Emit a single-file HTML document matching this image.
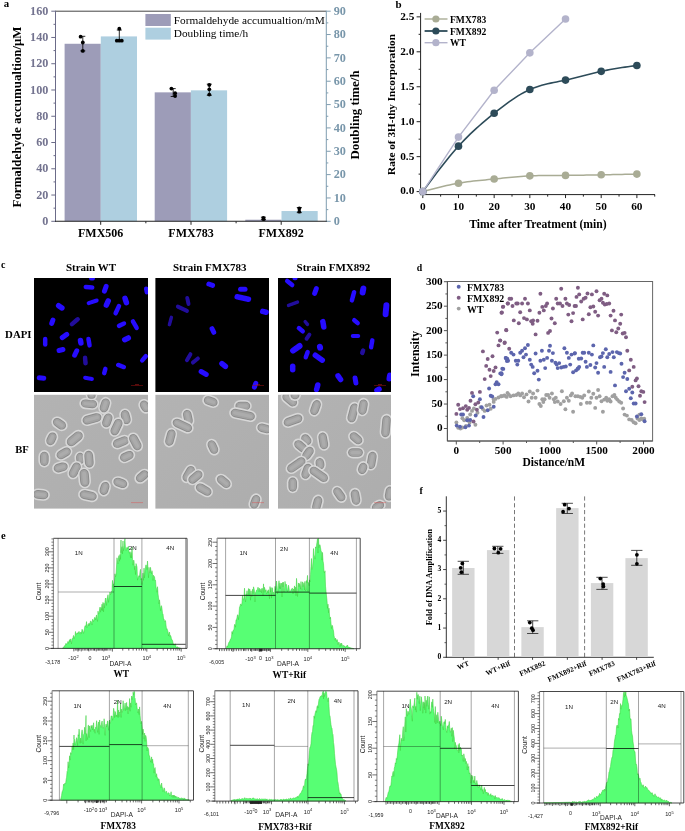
<!DOCTYPE html>
<html><head><meta charset="utf-8"><style>
html,body{margin:0;padding:0;background:#fff;}
body{width:685px;height:831px;overflow:hidden;font-family:"Liberation Serif",serif;}
svg{display:block;filter:blur(0.3px);}
</style></head><body>
<svg width="685" height="831" viewBox="0 0 685 831">
<rect width="685" height="831" fill="#fff"/>
<text x="3.7" y="3.42" font-size="10.8" font-weight="bold" fill="#000" text-anchor="start" font-family="'Liberation Serif', serif" dominant-baseline="central">a</text>
<rect x="64.6" y="43.77" width="36.2" height="177.53" fill="#9d9cb8"/>
<rect x="100.8" y="36.41" width="36.2" height="184.89" fill="#aecfe0"/>
<rect x="154.7" y="92.35" width="36.2" height="128.95" fill="#9d9cb8"/>
<rect x="190.9" y="90.34" width="36.2" height="130.96" fill="#aecfe0"/>
<rect x="245.3" y="219.72" width="36.2" height="1.58" fill="#9d9cb8"/>
<rect x="281.5" y="211.03" width="36.2" height="10.27" fill="#aecfe0"/>
<line x1="55.5" y1="11.2" x2="326.3" y2="11.2" stroke="#444" stroke-width="1"/>
<line x1="55.5" y1="10.7" x2="55.5" y2="221.8" stroke="#6b6b88" stroke-width="1"/>
<line x1="51.3" y1="221.3" x2="55.5" y2="221.3" stroke="#6b6b88" stroke-width="1"/>
<text x="48.4" y="220.98" font-size="12.2" font-weight="bold" fill="#73738f" text-anchor="end" font-family="'Liberation Serif', serif" dominant-baseline="central">0</text>
<line x1="53.5" y1="208.17" x2="55.5" y2="208.17" stroke="#6b6b88" stroke-width="1"/>
<line x1="51.3" y1="195.04" x2="55.5" y2="195.04" stroke="#6b6b88" stroke-width="1"/>
<text x="48.4" y="194.72" font-size="12.2" font-weight="bold" fill="#73738f" text-anchor="end" font-family="'Liberation Serif', serif" dominant-baseline="central">20</text>
<line x1="53.5" y1="181.91" x2="55.5" y2="181.91" stroke="#6b6b88" stroke-width="1"/>
<line x1="51.3" y1="168.78" x2="55.5" y2="168.78" stroke="#6b6b88" stroke-width="1"/>
<text x="48.4" y="168.46" font-size="12.2" font-weight="bold" fill="#73738f" text-anchor="end" font-family="'Liberation Serif', serif" dominant-baseline="central">40</text>
<line x1="53.5" y1="155.64" x2="55.5" y2="155.64" stroke="#6b6b88" stroke-width="1"/>
<line x1="51.3" y1="142.51" x2="55.5" y2="142.51" stroke="#6b6b88" stroke-width="1"/>
<text x="48.4" y="142.19" font-size="12.2" font-weight="bold" fill="#73738f" text-anchor="end" font-family="'Liberation Serif', serif" dominant-baseline="central">60</text>
<line x1="53.5" y1="129.38" x2="55.5" y2="129.38" stroke="#6b6b88" stroke-width="1"/>
<line x1="51.3" y1="116.25" x2="55.5" y2="116.25" stroke="#6b6b88" stroke-width="1"/>
<text x="48.4" y="115.93" font-size="12.2" font-weight="bold" fill="#73738f" text-anchor="end" font-family="'Liberation Serif', serif" dominant-baseline="central">80</text>
<line x1="53.5" y1="103.12" x2="55.5" y2="103.12" stroke="#6b6b88" stroke-width="1"/>
<line x1="51.3" y1="89.99" x2="55.5" y2="89.99" stroke="#6b6b88" stroke-width="1"/>
<text x="48.4" y="89.67" font-size="12.2" font-weight="bold" fill="#73738f" text-anchor="end" font-family="'Liberation Serif', serif" dominant-baseline="central">100</text>
<line x1="53.5" y1="76.86" x2="55.5" y2="76.86" stroke="#6b6b88" stroke-width="1"/>
<line x1="51.3" y1="63.72" x2="55.5" y2="63.72" stroke="#6b6b88" stroke-width="1"/>
<text x="48.4" y="63.41" font-size="12.2" font-weight="bold" fill="#73738f" text-anchor="end" font-family="'Liberation Serif', serif" dominant-baseline="central">120</text>
<line x1="53.5" y1="50.59" x2="55.5" y2="50.59" stroke="#6b6b88" stroke-width="1"/>
<line x1="51.3" y1="37.46" x2="55.5" y2="37.46" stroke="#6b6b88" stroke-width="1"/>
<text x="48.4" y="37.14" font-size="12.2" font-weight="bold" fill="#73738f" text-anchor="end" font-family="'Liberation Serif', serif" dominant-baseline="central">140</text>
<line x1="53.5" y1="24.33" x2="55.5" y2="24.33" stroke="#6b6b88" stroke-width="1"/>
<line x1="51.3" y1="11.2" x2="55.5" y2="11.2" stroke="#6b6b88" stroke-width="1"/>
<text x="48.4" y="10.88" font-size="12.2" font-weight="bold" fill="#73738f" text-anchor="end" font-family="'Liberation Serif', serif" dominant-baseline="central">160</text>
<line x1="326.3" y1="10.7" x2="326.3" y2="221.8" stroke="#7f9db0" stroke-width="1"/>
<line x1="326.3" y1="221.3" x2="330.7" y2="221.3" stroke="#7f9db0" stroke-width="1"/>
<text x="333.7" y="220.98" font-size="12.2" font-weight="bold" fill="#7896aa" text-anchor="start" font-family="'Liberation Serif', serif" dominant-baseline="central">0</text>
<line x1="326.3" y1="209.63" x2="328.3" y2="209.63" stroke="#7f9db0" stroke-width="1"/>
<line x1="326.3" y1="197.96" x2="330.7" y2="197.96" stroke="#7f9db0" stroke-width="1"/>
<text x="333.7" y="197.64" font-size="12.2" font-weight="bold" fill="#7896aa" text-anchor="start" font-family="'Liberation Serif', serif" dominant-baseline="central">10</text>
<line x1="326.3" y1="186.28" x2="328.3" y2="186.28" stroke="#7f9db0" stroke-width="1"/>
<line x1="326.3" y1="174.61" x2="330.7" y2="174.61" stroke="#7f9db0" stroke-width="1"/>
<text x="333.7" y="174.29" font-size="12.2" font-weight="bold" fill="#7896aa" text-anchor="start" font-family="'Liberation Serif', serif" dominant-baseline="central">20</text>
<line x1="326.3" y1="162.94" x2="328.3" y2="162.94" stroke="#7f9db0" stroke-width="1"/>
<line x1="326.3" y1="151.27" x2="330.7" y2="151.27" stroke="#7f9db0" stroke-width="1"/>
<text x="333.7" y="150.95" font-size="12.2" font-weight="bold" fill="#7896aa" text-anchor="start" font-family="'Liberation Serif', serif" dominant-baseline="central">30</text>
<line x1="326.3" y1="139.59" x2="328.3" y2="139.59" stroke="#7f9db0" stroke-width="1"/>
<line x1="326.3" y1="127.92" x2="330.7" y2="127.92" stroke="#7f9db0" stroke-width="1"/>
<text x="333.7" y="127.6" font-size="12.2" font-weight="bold" fill="#7896aa" text-anchor="start" font-family="'Liberation Serif', serif" dominant-baseline="central">40</text>
<line x1="326.3" y1="116.25" x2="328.3" y2="116.25" stroke="#7f9db0" stroke-width="1"/>
<line x1="326.3" y1="104.58" x2="330.7" y2="104.58" stroke="#7f9db0" stroke-width="1"/>
<text x="333.7" y="104.26" font-size="12.2" font-weight="bold" fill="#7896aa" text-anchor="start" font-family="'Liberation Serif', serif" dominant-baseline="central">50</text>
<line x1="326.3" y1="92.91" x2="328.3" y2="92.91" stroke="#7f9db0" stroke-width="1"/>
<line x1="326.3" y1="81.23" x2="330.7" y2="81.23" stroke="#7f9db0" stroke-width="1"/>
<text x="333.7" y="80.91" font-size="12.2" font-weight="bold" fill="#7896aa" text-anchor="start" font-family="'Liberation Serif', serif" dominant-baseline="central">60</text>
<line x1="326.3" y1="69.56" x2="328.3" y2="69.56" stroke="#7f9db0" stroke-width="1"/>
<line x1="326.3" y1="57.89" x2="330.7" y2="57.89" stroke="#7f9db0" stroke-width="1"/>
<text x="333.7" y="57.57" font-size="12.2" font-weight="bold" fill="#7896aa" text-anchor="start" font-family="'Liberation Serif', serif" dominant-baseline="central">70</text>
<line x1="326.3" y1="46.22" x2="328.3" y2="46.22" stroke="#7f9db0" stroke-width="1"/>
<line x1="326.3" y1="34.54" x2="330.7" y2="34.54" stroke="#7f9db0" stroke-width="1"/>
<text x="333.7" y="34.22" font-size="12.2" font-weight="bold" fill="#7896aa" text-anchor="start" font-family="'Liberation Serif', serif" dominant-baseline="central">80</text>
<line x1="326.3" y1="22.87" x2="328.3" y2="22.87" stroke="#7f9db0" stroke-width="1"/>
<line x1="326.3" y1="11.2" x2="330.7" y2="11.2" stroke="#7f9db0" stroke-width="1"/>
<text x="333.7" y="10.88" font-size="12.2" font-weight="bold" fill="#7896aa" text-anchor="start" font-family="'Liberation Serif', serif" dominant-baseline="central">90</text>
<line x1="55" y1="221.3" x2="326.8" y2="221.3" stroke="#222" stroke-width="1.1"/>
<line x1="100.7" y1="221.3" x2="100.7" y2="224.8" stroke="#222" stroke-width="1"/>
<line x1="191" y1="221.3" x2="191" y2="224.8" stroke="#222" stroke-width="1"/>
<line x1="281.2" y1="221.3" x2="281.2" y2="224.8" stroke="#222" stroke-width="1"/>
<line x1="145.85" y1="221.3" x2="145.85" y2="223.3" stroke="#222" stroke-width="1"/>
<line x1="236.1" y1="221.3" x2="236.1" y2="223.3" stroke="#222" stroke-width="1"/>
<text x="100.7" y="232.8" font-size="12" font-weight="bold" fill="#000" text-anchor="middle" font-family="'Liberation Serif', serif" dominant-baseline="central">FMX506</text>
<text x="191" y="232.8" font-size="12" font-weight="bold" fill="#000" text-anchor="middle" font-family="'Liberation Serif', serif" dominant-baseline="central">FMX783</text>
<text x="281.2" y="232.8" font-size="12" font-weight="bold" fill="#000" text-anchor="middle" font-family="'Liberation Serif', serif" dominant-baseline="central">FMX892</text>
<text x="16.71" y="117" font-size="12.9" font-weight="bold" fill="#000" text-anchor="middle" font-family="'Liberation Serif', serif" dominant-baseline="central" transform="rotate(-90 16.71 117)">Formaldehyde accumualtion/μM</text>
<text x="354.71" y="115" font-size="12.9" font-weight="bold" fill="#000" text-anchor="middle" font-family="'Liberation Serif', serif" dominant-baseline="central" transform="rotate(-90 354.71 115)">Doubling time/h</text>
<rect x="145.4" y="14" width="25.4" height="12" fill="#9d9cb8"/>
<rect x="145.4" y="27.7" width="25.4" height="11.9" fill="#aecfe0"/>
<text x="173.8" y="19.67" font-size="11.3" font-weight="normal" fill="#000" text-anchor="start" font-family="'Liberation Serif', serif" dominant-baseline="central">Formaldehyde accumualtion/mM</text>
<text x="173.8" y="32.87" font-size="11.3" font-weight="normal" fill="#000" text-anchor="start" font-family="'Liberation Serif', serif" dominant-baseline="central">Doubling time/h</text>
<line x1="82.8" y1="36.3" x2="82.8" y2="50.9" stroke="#111" stroke-width="0.9"/>
<line x1="80.3" y1="36.3" x2="85.3" y2="36.3" stroke="#111" stroke-width="0.9"/>
<line x1="80.3" y1="50.9" x2="85.3" y2="50.9" stroke="#111" stroke-width="0.9"/>
<circle cx="80.6" cy="36.7" r="1.9" fill="#000"/>
<circle cx="82.8" cy="42.5" r="1.9" fill="#000"/>
<circle cx="82.8" cy="50.9" r="1.9" fill="#000"/>
<line x1="119.3" y1="30" x2="119.3" y2="40.7" stroke="#111" stroke-width="0.9"/>
<line x1="116.8" y1="30" x2="121.8" y2="30" stroke="#111" stroke-width="0.9"/>
<line x1="116.8" y1="40.7" x2="121.8" y2="40.7" stroke="#111" stroke-width="0.9"/>
<circle cx="119.3" cy="28.7" r="1.9" fill="#000"/>
<circle cx="116.8" cy="40.7" r="1.9" fill="#000"/>
<circle cx="119.3" cy="40.7" r="1.9" fill="#000"/>
<circle cx="121.8" cy="40.7" r="1.9" fill="#000"/>
<line x1="173.2" y1="88.6" x2="173.2" y2="96.5" stroke="#111" stroke-width="0.9"/>
<line x1="170.7" y1="88.6" x2="175.7" y2="88.6" stroke="#111" stroke-width="0.9"/>
<line x1="170.7" y1="96.5" x2="175.7" y2="96.5" stroke="#111" stroke-width="0.9"/>
<circle cx="171.4" cy="88.6" r="1.9" fill="#000"/>
<circle cx="175.1" cy="93.2" r="1.9" fill="#000"/>
<circle cx="175.1" cy="96" r="1.9" fill="#000"/>
<line x1="209.3" y1="84.2" x2="209.3" y2="95.3" stroke="#111" stroke-width="0.9"/>
<line x1="206.8" y1="84.2" x2="211.8" y2="84.2" stroke="#111" stroke-width="0.9"/>
<line x1="206.8" y1="95.3" x2="211.8" y2="95.3" stroke="#111" stroke-width="0.9"/>
<circle cx="209.3" cy="84.9" r="1.9" fill="#000"/>
<circle cx="209.3" cy="89.3" r="1.9" fill="#000"/>
<circle cx="209.3" cy="94.6" r="1.9" fill="#000"/>
<line x1="263.4" y1="217.2" x2="263.4" y2="219.8" stroke="#111" stroke-width="0.9"/>
<line x1="260.9" y1="217.2" x2="265.9" y2="217.2" stroke="#111" stroke-width="0.9"/>
<line x1="260.9" y1="219.8" x2="265.9" y2="219.8" stroke="#111" stroke-width="0.9"/>
<circle cx="263.4" cy="218" r="1.9" fill="#000"/>
<circle cx="263.6" cy="219.2" r="1.9" fill="#000"/>
<line x1="299.3" y1="207.5" x2="299.3" y2="212.6" stroke="#111" stroke-width="0.9"/>
<line x1="296.8" y1="207.5" x2="301.8" y2="207.5" stroke="#111" stroke-width="0.9"/>
<line x1="296.8" y1="212.6" x2="301.8" y2="212.6" stroke="#111" stroke-width="0.9"/>
<circle cx="299.3" cy="208.4" r="1.9" fill="#000"/>
<circle cx="299.3" cy="211.7" r="1.9" fill="#000"/>
<text x="398.5" y="4.1" font-size="11" font-weight="bold" fill="#000" text-anchor="middle" font-family="'Liberation Serif', serif" dominant-baseline="central">b</text>
<line x1="420.6" y1="12.9" x2="420.6" y2="195.1" stroke="#222" stroke-width="1"/>
<line x1="420.1" y1="194.6" x2="655" y2="194.6" stroke="#222" stroke-width="1"/>
<line x1="416.6" y1="191.6" x2="420.6" y2="191.6" stroke="#222" stroke-width="1"/>
<text x="414.3" y="190.47" font-size="11.3" font-weight="bold" fill="#000" text-anchor="end" font-family="'Liberation Serif', serif" dominant-baseline="central">0.0</text>
<line x1="418.6" y1="174.12" x2="420.6" y2="174.12" stroke="#222" stroke-width="1"/>
<line x1="416.6" y1="156.65" x2="420.6" y2="156.65" stroke="#222" stroke-width="1"/>
<text x="414.3" y="155.52" font-size="11.3" font-weight="bold" fill="#000" text-anchor="end" font-family="'Liberation Serif', serif" dominant-baseline="central">0.5</text>
<line x1="418.6" y1="139.17" x2="420.6" y2="139.17" stroke="#222" stroke-width="1"/>
<line x1="416.6" y1="121.7" x2="420.6" y2="121.7" stroke="#222" stroke-width="1"/>
<text x="414.3" y="120.57" font-size="11.3" font-weight="bold" fill="#000" text-anchor="end" font-family="'Liberation Serif', serif" dominant-baseline="central">1.0</text>
<line x1="418.6" y1="104.22" x2="420.6" y2="104.22" stroke="#222" stroke-width="1"/>
<line x1="416.6" y1="86.75" x2="420.6" y2="86.75" stroke="#222" stroke-width="1"/>
<text x="414.3" y="85.62" font-size="11.3" font-weight="bold" fill="#000" text-anchor="end" font-family="'Liberation Serif', serif" dominant-baseline="central">1.5</text>
<line x1="418.6" y1="69.27" x2="420.6" y2="69.27" stroke="#222" stroke-width="1"/>
<line x1="416.6" y1="51.8" x2="420.6" y2="51.8" stroke="#222" stroke-width="1"/>
<text x="414.3" y="50.67" font-size="11.3" font-weight="bold" fill="#000" text-anchor="end" font-family="'Liberation Serif', serif" dominant-baseline="central">2.0</text>
<line x1="418.6" y1="34.32" x2="420.6" y2="34.32" stroke="#222" stroke-width="1"/>
<line x1="416.6" y1="16.85" x2="420.6" y2="16.85" stroke="#222" stroke-width="1"/>
<text x="414.3" y="15.72" font-size="11.3" font-weight="bold" fill="#000" text-anchor="end" font-family="'Liberation Serif', serif" dominant-baseline="central">2.5</text>
<line x1="422.8" y1="194.6" x2="422.8" y2="198.1" stroke="#222" stroke-width="1"/>
<text x="422.8" y="205.67" font-size="11.3" font-weight="bold" fill="#000" text-anchor="middle" font-family="'Liberation Serif', serif" dominant-baseline="central">0</text>
<line x1="440.64" y1="194.6" x2="440.64" y2="196.6" stroke="#222" stroke-width="1"/>
<line x1="458.48" y1="194.6" x2="458.48" y2="198.1" stroke="#222" stroke-width="1"/>
<text x="458.48" y="205.67" font-size="11.3" font-weight="bold" fill="#000" text-anchor="middle" font-family="'Liberation Serif', serif" dominant-baseline="central">10</text>
<line x1="476.32" y1="194.6" x2="476.32" y2="196.6" stroke="#222" stroke-width="1"/>
<line x1="494.16" y1="194.6" x2="494.16" y2="198.1" stroke="#222" stroke-width="1"/>
<text x="494.16" y="205.67" font-size="11.3" font-weight="bold" fill="#000" text-anchor="middle" font-family="'Liberation Serif', serif" dominant-baseline="central">20</text>
<line x1="512" y1="194.6" x2="512" y2="196.6" stroke="#222" stroke-width="1"/>
<line x1="529.84" y1="194.6" x2="529.84" y2="198.1" stroke="#222" stroke-width="1"/>
<text x="529.84" y="205.67" font-size="11.3" font-weight="bold" fill="#000" text-anchor="middle" font-family="'Liberation Serif', serif" dominant-baseline="central">30</text>
<line x1="547.68" y1="194.6" x2="547.68" y2="196.6" stroke="#222" stroke-width="1"/>
<line x1="565.52" y1="194.6" x2="565.52" y2="198.1" stroke="#222" stroke-width="1"/>
<text x="565.52" y="205.67" font-size="11.3" font-weight="bold" fill="#000" text-anchor="middle" font-family="'Liberation Serif', serif" dominant-baseline="central">40</text>
<line x1="583.36" y1="194.6" x2="583.36" y2="196.6" stroke="#222" stroke-width="1"/>
<line x1="601.2" y1="194.6" x2="601.2" y2="198.1" stroke="#222" stroke-width="1"/>
<text x="601.2" y="205.67" font-size="11.3" font-weight="bold" fill="#000" text-anchor="middle" font-family="'Liberation Serif', serif" dominant-baseline="central">50</text>
<line x1="619.04" y1="194.6" x2="619.04" y2="196.6" stroke="#222" stroke-width="1"/>
<line x1="636.88" y1="194.6" x2="636.88" y2="198.1" stroke="#222" stroke-width="1"/>
<text x="636.88" y="205.67" font-size="11.3" font-weight="bold" fill="#000" text-anchor="middle" font-family="'Liberation Serif', serif" dominant-baseline="central">60</text>
<line x1="654.72" y1="194.6" x2="654.72" y2="196.6" stroke="#222" stroke-width="1"/>
<text x="390.88" y="104.5" font-size="11.2" font-weight="bold" fill="#000" text-anchor="middle" font-family="'Liberation Serif', serif" dominant-baseline="central" transform="rotate(-90 390.88 104.5)">Rate of 3H-thy Incorporation</text>
<text x="538" y="224.03" font-size="11.7" font-weight="bold" fill="#000" text-anchor="middle" font-family="'Liberation Serif', serif" dominant-baseline="central">Time after Treatment (min)</text>
<path d="M422.8 191.6 L425.77 190.81 L428.75 190.02 L431.72 189.25 L434.69 188.48 L437.67 187.73 L440.64 186.99 L443.61 186.28 L446.59 185.6 L449.56 184.95 L452.53 184.33 L455.51 183.75 L458.48 183.21 L461.45 182.72 L464.43 182.27 L467.4 181.85 L470.37 181.47 L473.35 181.11 L476.32 180.78 L479.29 180.47 L482.27 180.17 L485.24 179.88 L488.21 179.59 L491.19 179.31 L494.16 179.02 L497.13 178.72 L500.11 178.42 L503.08 178.12 L506.05 177.82 L509.03 177.52 L512 177.23 L514.97 176.96 L517.95 176.7 L520.92 176.45 L523.89 176.23 L526.87 176.04 L529.84 175.87 L532.81 175.74 L535.79 175.63 L538.76 175.55 L541.73 175.49 L544.71 175.45 L547.68 175.42 L550.65 175.4 L553.63 175.4 L556.6 175.4 L559.57 175.39 L562.55 175.39 L565.52 175.38 L568.49 175.37 L571.47 175.34 L574.44 175.31 L577.41 175.27 L580.39 175.23 L583.36 175.18 L586.33 175.12 L589.31 175.07 L592.28 175.01 L595.25 174.95 L598.23 174.89 L601.2 174.82 L604.17 174.76 L607.15 174.7 L610.12 174.64 L613.09 174.58 L616.07 174.53 L619.04 174.47 L622.01 174.41 L624.99 174.35 L627.96 174.3 L630.93 174.24 L633.91 174.18 L636.88 174.12" fill="none" stroke="#a9ac95" stroke-width="1.5"/>
<path d="M422.8 191.6 L425.77 187.57 L428.75 183.54 L431.72 179.54 L434.69 175.57 L437.67 171.64 L440.64 167.76 L443.61 163.94 L446.59 160.2 L449.56 156.54 L452.53 152.98 L455.51 149.51 L458.48 146.16 L461.45 142.94 L464.43 139.83 L467.4 136.83 L470.37 133.93 L473.35 131.12 L476.32 128.39 L479.29 125.74 L482.27 123.15 L485.24 120.63 L488.21 118.15 L491.19 115.71 L494.16 113.31 L497.13 110.94 L500.11 108.6 L503.08 106.31 L506.05 104.08 L509.03 101.91 L512 99.82 L514.97 97.83 L517.95 95.93 L520.92 94.14 L523.89 92.47 L526.87 90.94 L529.84 89.55 L532.81 88.3 L535.79 87.2 L538.76 86.21 L541.73 85.33 L544.71 84.54 L547.68 83.82 L550.65 83.15 L553.63 82.53 L556.6 81.93 L559.57 81.34 L562.55 80.74 L565.52 80.11 L568.49 79.45 L571.47 78.75 L574.44 78.03 L577.41 77.28 L580.39 76.52 L583.36 75.75 L586.33 74.99 L589.31 74.23 L592.28 73.48 L595.25 72.75 L598.23 72.04 L601.2 71.37 L604.17 70.74 L607.15 70.14 L610.12 69.58 L613.09 69.04 L616.07 68.53 L619.04 68.05 L622.01 67.58 L624.99 67.13 L627.96 66.69 L630.93 66.27 L633.91 65.85 L636.88 65.43" fill="none" stroke="#2d4b59" stroke-width="1.6"/>
<polyline points="422.8,191.6 458.48,137.08 494.16,90.24 529.84,52.85 565.52,18.95" fill="none" stroke="#b3b3cb" stroke-width="1.4"/>
<circle cx="422.8" cy="191.6" r="3.8" fill="#a9ac95"/>
<circle cx="458.48" cy="183.21" r="3.8" fill="#a9ac95"/>
<circle cx="494.16" cy="179.02" r="3.8" fill="#a9ac95"/>
<circle cx="529.84" cy="175.87" r="3.8" fill="#a9ac95"/>
<circle cx="565.52" cy="175.38" r="3.8" fill="#a9ac95"/>
<circle cx="601.2" cy="174.82" r="3.8" fill="#a9ac95"/>
<circle cx="636.88" cy="174.12" r="3.8" fill="#a9ac95"/>
<circle cx="422.8" cy="191.6" r="3.8" fill="#2d4b59"/>
<circle cx="458.48" cy="146.16" r="3.8" fill="#2d4b59"/>
<circle cx="494.16" cy="113.31" r="3.8" fill="#2d4b59"/>
<circle cx="529.84" cy="89.55" r="3.8" fill="#2d4b59"/>
<circle cx="565.52" cy="80.11" r="3.8" fill="#2d4b59"/>
<circle cx="601.2" cy="71.37" r="3.8" fill="#2d4b59"/>
<circle cx="636.88" cy="65.43" r="3.8" fill="#2d4b59"/>
<circle cx="422.8" cy="191.6" r="3.8" fill="#b3b3cb"/>
<circle cx="458.48" cy="137.08" r="3.8" fill="#b3b3cb"/>
<circle cx="494.16" cy="90.24" r="3.8" fill="#b3b3cb"/>
<circle cx="529.84" cy="52.85" r="3.8" fill="#b3b3cb"/>
<circle cx="565.52" cy="18.95" r="3.8" fill="#b3b3cb"/>
<line x1="424.6" y1="19" x2="447.5" y2="19" stroke="#a9ac95" stroke-width="1.4"/>
<circle cx="435.9" cy="19" r="3.6" fill="#a9ac95"/>
<text x="450" y="19.24" font-size="9.6" font-weight="bold" fill="#000" text-anchor="start" font-family="'Liberation Serif', serif" dominant-baseline="central">FMX783</text>
<line x1="424.6" y1="31" x2="447.5" y2="31" stroke="#2d4b59" stroke-width="1.8"/>
<circle cx="435.9" cy="31" r="3.6" fill="#2d4b59"/>
<text x="450" y="31.24" font-size="9.6" font-weight="bold" fill="#000" text-anchor="start" font-family="'Liberation Serif', serif" dominant-baseline="central">FMX892</text>
<line x1="424.6" y1="42.7" x2="447.5" y2="42.7" stroke="#b3b3cb" stroke-width="1.4"/>
<circle cx="435.9" cy="42.7" r="3.6" fill="#b3b3cb"/>
<text x="450" y="42.94" font-size="9.6" font-weight="bold" fill="#000" text-anchor="start" font-family="'Liberation Serif', serif" dominant-baseline="central">WT</text>
<text x="1" y="264.2" font-size="10" font-weight="bold" fill="#000" text-anchor="start" font-family="'Liberation Serif', serif" dominant-baseline="central">c</text>
<text x="91" y="267.1" font-size="11" font-weight="bold" fill="#000" text-anchor="middle" font-family="'Liberation Serif', serif" dominant-baseline="central">Strain WT</text>
<text x="209.8" y="267.1" font-size="11" font-weight="bold" fill="#000" text-anchor="middle" font-family="'Liberation Serif', serif" dominant-baseline="central">Strain FMX783</text>
<text x="333.4" y="267.1" font-size="11" font-weight="bold" fill="#000" text-anchor="middle" font-family="'Liberation Serif', serif" dominant-baseline="central">Strain FMX892</text>
<text x="18.3" y="334.22" font-size="10.8" font-weight="bold" fill="#000" text-anchor="middle" font-family="'Liberation Serif', serif" dominant-baseline="central">DAPI</text>
<text x="22" y="449.54" font-size="10.6" font-weight="bold" fill="#000" text-anchor="middle" font-family="'Liberation Serif', serif" dominant-baseline="central">BF</text>
<defs><filter id="bl" x="-20%" y="-20%" width="140%" height="140%"><feGaussianBlur stdDeviation="0.75"/></filter><filter id="bl2" x="-20%" y="-20%" width="140%" height="140%"><feGaussianBlur stdDeviation="0.55"/></filter><linearGradient id="bfg" x1="0" y1="0" x2="1" y2="1"><stop offset="0" stop-color="#b3b3b3"/><stop offset="0.5" stop-color="#b0b0b0"/><stop offset="1" stop-color="#adadad"/></linearGradient><clipPath id="cp0"><rect x="34" y="278" width="114" height="114"/></clipPath><clipPath id="cp1"><rect x="155.4" y="278" width="113.6" height="114"/></clipPath><clipPath id="cp2"><rect x="278" y="278" width="113" height="114"/></clipPath><clipPath id="cq0"><rect x="34" y="394.8" width="114" height="113.8"/></clipPath><clipPath id="cq1"><rect x="155.4" y="394.8" width="113.6" height="113.8"/></clipPath><clipPath id="cq2"><rect x="278" y="394.8" width="113" height="113.8"/></clipPath></defs>
<rect x="34" y="278" width="114" height="114" fill="#000"/>
<g clip-path="url(#cp0)"><g filter="url(#bl)">
<rect x="89" y="276.5" width="6" height="4" rx="2" ry="2" fill="#2608ff" transform="rotate(0 92 278.5)"/>
<rect x="83.5" y="284.95" width="11" height="4.5" rx="2.25" ry="2.25" fill="#2608ff" transform="rotate(5 89 287.2)"/>
<rect x="100.3" y="286.3" width="10" height="5" rx="2.5" ry="2.5" fill="#2608ff" transform="rotate(-70 105.3 288.8)"/>
<rect x="142.5" y="288.25" width="8" height="4.5" rx="2.25" ry="2.25" fill="#2608ff" transform="rotate(80 146.5 290.5)"/>
<rect x="86.45" y="299.8" width="12.5" height="4" rx="2" ry="2" fill="#2608ff" transform="rotate(-18 92.7 301.8)"/>
<rect x="102.3" y="300.25" width="10" height="5.5" rx="2.75" ry="2.75" fill="#2608ff" transform="rotate(-65 107.3 303)"/>
<rect x="120.7" y="297.75" width="10" height="5.5" rx="2.75" ry="2.75" fill="#2608ff" transform="rotate(72 125.7 300.5)"/>
<rect x="111.05" y="307.45" width="12.5" height="4.5" rx="2.25" ry="2.25" fill="#2608ff" transform="rotate(-65 117.3 309.7)"/>
<rect x="55.55" y="304.05" width="9.5" height="5.5" rx="2.75" ry="2.75" fill="#2608ff" transform="rotate(35 60.3 306.8)"/>
<rect x="68.8" y="319.45" width="12" height="4.5" rx="2.25" ry="2.25" fill="#200c9c" transform="rotate(-40 74.8 321.7)"/>
<rect x="48.05" y="319.3" width="8.5" height="5" rx="2.5" ry="2.5" fill="#2608ff" transform="rotate(-70 52.3 321.8)"/>
<rect x="116.5" y="322.45" width="10" height="4.5" rx="2.25" ry="2.25" fill="#2608ff" transform="rotate(-25 121.5 324.7)"/>
<rect x="128.8" y="322.45" width="12" height="4.5" rx="2.25" ry="2.25" fill="#2608ff" transform="rotate(60 134.8 324.7)"/>
<rect x="59.25" y="333.5" width="10.5" height="5" rx="2.5" ry="2.5" fill="#2608ff" transform="rotate(-35 64.5 336)"/>
<rect x="40.2" y="339.45" width="10" height="4.5" rx="2.25" ry="2.25" fill="#2608ff" transform="rotate(90 45.2 341.7)"/>
<rect x="76.7" y="338.95" width="8" height="5.5" rx="2.75" ry="2.75" fill="#2608ff" transform="rotate(80 80.7 341.7)"/>
<rect x="83.5" y="339.95" width="11" height="4.5" rx="2.25" ry="2.25" fill="#2608ff" transform="rotate(80 89 342.2)"/>
<rect x="121.75" y="336.05" width="9.5" height="5.5" rx="2.75" ry="2.75" fill="#2608ff" transform="rotate(-25 126.5 338.8)"/>
<rect x="56.5" y="347.5" width="9" height="5" rx="2.5" ry="2.5" fill="#2608ff" transform="rotate(-15 61 350)"/>
<rect x="70.7" y="350.5" width="10" height="5" rx="2.5" ry="2.5" fill="#2608ff" transform="rotate(-65 75.7 353)"/>
<rect x="80.3" y="358.25" width="10" height="4.5" rx="2.25" ry="2.25" fill="#200c9c" transform="rotate(85 85.3 360.5)"/>
<rect x="139" y="356.05" width="10" height="4.5" rx="2.25" ry="2.25" fill="#2608ff" transform="rotate(-50 144 358.3)"/>
<rect x="115.75" y="363.75" width="10.5" height="4.5" rx="2.25" ry="2.25" fill="#2608ff" transform="rotate(20 121 366)"/>
<rect x="100.3" y="368.75" width="9" height="4.5" rx="2.25" ry="2.25" fill="#2608ff" transform="rotate(-75 104.8 371)"/>
<rect x="36.75" y="375.5" width="9.5" height="5" rx="2.5" ry="2.5" fill="#2608ff" transform="rotate(5 41.5 378)"/>
<rect x="83" y="376.3" width="11" height="4" rx="2" ry="2" fill="#2608ff" transform="rotate(10 88.5 378.3)"/>
</g></g>
<line x1="131" y1="385.5" x2="143" y2="385.5" stroke="#a01010" stroke-width="0.5"/>
<line x1="135" y1="384.6" x2="139" y2="384.6" stroke="#c02020" stroke-width="0.5"/>
<rect x="155.4" y="278" width="113.6" height="114" fill="#000"/>
<g clip-path="url(#cp1)"><g filter="url(#bl)">
<rect x="206.2" y="282.2" width="9" height="5" rx="2.5" ry="2.5" fill="#2608ff" transform="rotate(20 210.7 284.7)"/>
<rect x="238.05" y="286.8" width="9.5" height="5" rx="2.5" ry="2.5" fill="#2608ff" transform="rotate(0 242.8 289.3)"/>
<rect x="234.3" y="295.25" width="17" height="5.5" rx="2.75" ry="2.75" fill="#2608ff" transform="rotate(12 242.8 298)"/>
<rect x="182.9" y="299" width="10" height="4" rx="2" ry="2" fill="#200c9c" transform="rotate(78 187.9 301)"/>
<rect x="175.4" y="306.8" width="14" height="4" rx="2" ry="2" fill="#200c9c" transform="rotate(25 182.4 308.8)"/>
<rect x="259.9" y="309.05" width="9" height="5.5" rx="2.75" ry="2.75" fill="#2608ff" transform="rotate(15 264.4 311.8)"/>
<rect x="164.9" y="319.25" width="11" height="3.5" rx="1.75" ry="1.75" fill="#200c9c" transform="rotate(-75 170.4 321)"/>
<rect x="208.4" y="328" width="9" height="5" rx="2.5" ry="2.5" fill="#2608ff" transform="rotate(65 212.9 330.5)"/>
<rect x="183.2" y="355.2" width="11" height="4" rx="2" ry="2" fill="#200c9c" transform="rotate(-60 188.7 357.2)"/>
<rect x="190.15" y="358.5" width="10.5" height="4" rx="2" ry="2" fill="#200c9c" transform="rotate(-40 195.4 360.5)"/>
<rect x="218.7" y="362.25" width="10" height="5.5" rx="2.75" ry="2.75" fill="#2608ff" transform="rotate(40 223.7 365)"/>
<rect x="198.2" y="370.5" width="11" height="5" rx="2.5" ry="2.5" fill="#2608ff" transform="rotate(30 203.7 373)"/>
<rect x="250.6" y="382.7" width="9" height="5" rx="2.5" ry="2.5" fill="#2608ff" transform="rotate(-70 255.1 385.2)"/>
</g></g>
<line x1="252" y1="385.5" x2="264" y2="385.5" stroke="#a01010" stroke-width="0.5"/>
<line x1="256" y1="384.6" x2="260" y2="384.6" stroke="#c02020" stroke-width="0.5"/>
<rect x="278" y="278" width="113" height="114" fill="#000"/>
<g clip-path="url(#cp2)"><g filter="url(#bl)">
<rect x="284.2" y="280.75" width="11" height="4.5" rx="2.25" ry="2.25" fill="#2608ff" transform="rotate(40 289.7 283)"/>
<rect x="292.5" y="276.75" width="5" height="3.5" rx="1.75" ry="1.75" fill="#2608ff" transform="rotate(0 295 278.5)"/>
<rect x="310.5" y="288.5" width="10" height="5" rx="2.5" ry="2.5" fill="#2608ff" transform="rotate(-70 315.5 291)"/>
<rect x="286.5" y="302.05" width="13" height="3.5" rx="1.75" ry="1.75" fill="#200c9c" transform="rotate(-20 293 303.8)"/>
<rect x="346.5" y="294.05" width="13" height="4.5" rx="2.25" ry="2.25" fill="#2608ff" transform="rotate(-75 353 296.3)"/>
<rect x="358" y="287.5" width="10" height="6" rx="3" ry="3" fill="#2608ff" transform="rotate(-80 363 290.5)"/>
<rect x="378.5" y="306.7" width="15" height="6" rx="3" ry="3" fill="#2608ff" transform="rotate(-85 386 309.7)"/>
<rect x="302.8" y="321.25" width="7" height="3.5" rx="1.75" ry="1.75" fill="#200c9c" transform="rotate(50 306.3 323)"/>
<rect x="317.8" y="321.55" width="11" height="5.5" rx="2.75" ry="2.75" fill="#2608ff" transform="rotate(80 323.3 324.3)"/>
<rect x="351.5" y="319.45" width="9" height="4.5" rx="2.25" ry="2.25" fill="#2608ff" transform="rotate(40 356 321.7)"/>
<rect x="296.05" y="327.45" width="9.5" height="4.5" rx="2.25" ry="2.25" fill="#2608ff" transform="rotate(40 300.8 329.7)"/>
<rect x="303.5" y="334.7" width="9" height="4" rx="2" ry="2" fill="#200c9c" transform="rotate(-55 308 336.7)"/>
<rect x="350.75" y="334" width="9.5" height="4" rx="2" ry="2" fill="#2608ff" transform="rotate(0 355.5 336)"/>
<rect x="365.95" y="341.55" width="11.5" height="4.5" rx="2.25" ry="2.25" fill="#2608ff" transform="rotate(-80 371.7 343.8)"/>
<rect x="289.3" y="345.3" width="14" height="6" rx="3" ry="3" fill="#2608ff" transform="rotate(-35 296.3 348.3)"/>
<rect x="316.5" y="344.2" width="7" height="6" rx="3" ry="3" fill="#2608ff" transform="rotate(80 320 347.2)"/>
<rect x="301.7" y="352.45" width="10" height="4.5" rx="2.25" ry="2.25" fill="#2608ff" transform="rotate(-70 306.7 354.7)"/>
<rect x="311.8" y="354.95" width="14" height="5.5" rx="2.75" ry="2.75" fill="#2608ff" transform="rotate(35 318.8 357.7)"/>
<rect x="359.2" y="349.45" width="7" height="4.5" rx="2.25" ry="2.25" fill="#200c9c" transform="rotate(-70 362.7 351.7)"/>
<rect x="288.2" y="365.25" width="9" height="5.5" rx="2.75" ry="2.75" fill="#2608ff" transform="rotate(90 292.7 368)"/>
<rect x="334.3" y="374.95" width="10" height="5.5" rx="2.75" ry="2.75" fill="#2608ff" transform="rotate(55 339.3 377.7)"/>
<rect x="350.5" y="378" width="10" height="5" rx="2.5" ry="2.5" fill="#2608ff" transform="rotate(80 355.5 380.5)"/>
<rect x="312.2" y="384.45" width="10" height="5.5" rx="2.75" ry="2.75" fill="#2608ff" transform="rotate(-75 317.2 387.2)"/>
<rect x="385" y="374.25" width="9" height="5.5" rx="2.75" ry="2.75" fill="#2608ff" transform="rotate(-80 389.5 377)"/>
<rect x="374" y="386.95" width="8" height="5.5" rx="2.75" ry="2.75" fill="#2608ff" transform="rotate(-30 378 389.7)"/>
</g></g>
<line x1="374" y1="385.5" x2="386" y2="385.5" stroke="#a01010" stroke-width="0.5"/>
<line x1="378" y1="384.6" x2="382" y2="384.6" stroke="#c02020" stroke-width="0.5"/>
<rect x="34" y="394.8" width="114" height="113.8" fill="url(#bfg)"/>
<g clip-path="url(#cq0)"><g filter="url(#bl2)">
<rect x="79.3" y="398.1" width="19.4" height="11.4" rx="6.38" ry="5.7" fill="#d8d8d8" transform="rotate(5 89 403.8)"/>
<rect x="80.9" y="399.7" width="16.2" height="8.2" rx="4.59" ry="4.1" fill="#8a8a8a" transform="rotate(5 89 403.8)"/>
<rect x="81.8" y="400.6" width="14.4" height="6.4" rx="3.58" ry="3.2" fill="#a2a2a2" transform="rotate(5 89 403.8)"/>
<rect x="83.25" y="402.3" width="11.5" height="3" rx="1.68" ry="1.5" fill="#acacac" transform="rotate(5 89 403.8)"/>
<rect x="96.1" y="399.45" width="17.4" height="11.9" rx="6.66" ry="5.95" fill="#d8d8d8" transform="rotate(-72 104.8 405.4)"/>
<rect x="97.7" y="401.05" width="14.2" height="8.7" rx="4.87" ry="4.35" fill="#8a8a8a" transform="rotate(-72 104.8 405.4)"/>
<rect x="98.6" y="401.95" width="12.4" height="6.9" rx="3.86" ry="3.45" fill="#a2a2a2" transform="rotate(-72 104.8 405.4)"/>
<rect x="100.05" y="403.65" width="9.5" height="3.5" rx="1.96" ry="1.75" fill="#acacac" transform="rotate(-72 104.8 405.4)"/>
<rect x="85.8" y="390.9" width="11.4" height="9.4" rx="5.26" ry="4.7" fill="#d8d8d8" transform="rotate(0 91.5 395.6)"/>
<rect x="87.4" y="392.5" width="8.2" height="6.2" rx="3.47" ry="3.1" fill="#8a8a8a" transform="rotate(0 91.5 395.6)"/>
<rect x="88.3" y="393.4" width="6.4" height="4.4" rx="2.46" ry="2.2" fill="#a2a2a2" transform="rotate(0 91.5 395.6)"/>
<rect x="89.75" y="394.85" width="3.5" height="1.5" rx="0.84" ry="0.75" fill="#acacac" transform="rotate(0 91.5 395.6)"/>
<rect x="137.3" y="400.35" width="15.4" height="11.9" rx="6.66" ry="5.95" fill="#d8d8d8" transform="rotate(60 145 406.3)"/>
<rect x="138.9" y="401.95" width="12.2" height="8.7" rx="4.87" ry="4.35" fill="#8a8a8a" transform="rotate(60 145 406.3)"/>
<rect x="139.8" y="402.85" width="10.4" height="6.9" rx="3.86" ry="3.45" fill="#a2a2a2" transform="rotate(60 145 406.3)"/>
<rect x="141.25" y="404.55" width="7.5" height="3.5" rx="1.96" ry="1.75" fill="#acacac" transform="rotate(60 145 406.3)"/>
<rect x="80.8" y="412.85" width="22.4" height="11.9" rx="6.66" ry="5.95" fill="#d8d8d8" transform="rotate(-15 92 418.8)"/>
<rect x="82.4" y="414.45" width="19.2" height="8.7" rx="4.87" ry="4.35" fill="#8a8a8a" transform="rotate(-15 92 418.8)"/>
<rect x="83.3" y="415.35" width="17.4" height="6.9" rx="3.86" ry="3.45" fill="#a2a2a2" transform="rotate(-15 92 418.8)"/>
<rect x="84.75" y="417.05" width="14.5" height="3.5" rx="1.96" ry="1.75" fill="#acacac" transform="rotate(-15 92 418.8)"/>
<rect x="98.6" y="414.45" width="17.4" height="11.9" rx="6.66" ry="5.95" fill="#d8d8d8" transform="rotate(-70 107.3 420.4)"/>
<rect x="100.2" y="416.05" width="14.2" height="8.7" rx="4.87" ry="4.35" fill="#8a8a8a" transform="rotate(-70 107.3 420.4)"/>
<rect x="101.1" y="416.95" width="12.4" height="6.9" rx="3.86" ry="3.45" fill="#a2a2a2" transform="rotate(-70 107.3 420.4)"/>
<rect x="102.55" y="418.65" width="9.5" height="3.5" rx="1.96" ry="1.75" fill="#acacac" transform="rotate(-70 107.3 420.4)"/>
<rect x="117" y="411.15" width="17.4" height="11.9" rx="6.66" ry="5.95" fill="#d8d8d8" transform="rotate(75 125.7 417.1)"/>
<rect x="118.6" y="412.75" width="14.2" height="8.7" rx="4.87" ry="4.35" fill="#8a8a8a" transform="rotate(75 125.7 417.1)"/>
<rect x="119.5" y="413.65" width="12.4" height="6.9" rx="3.86" ry="3.45" fill="#a2a2a2" transform="rotate(75 125.7 417.1)"/>
<rect x="120.95" y="415.35" width="9.5" height="3.5" rx="1.96" ry="1.75" fill="#acacac" transform="rotate(75 125.7 417.1)"/>
<rect x="106.3" y="421.15" width="20.4" height="11.9" rx="6.66" ry="5.95" fill="#d8d8d8" transform="rotate(-65 116.5 427.1)"/>
<rect x="107.9" y="422.75" width="17.2" height="8.7" rx="4.87" ry="4.35" fill="#8a8a8a" transform="rotate(-65 116.5 427.1)"/>
<rect x="108.8" y="423.65" width="15.4" height="6.9" rx="3.86" ry="3.45" fill="#a2a2a2" transform="rotate(-65 116.5 427.1)"/>
<rect x="110.25" y="425.35" width="12.5" height="3.5" rx="1.96" ry="1.75" fill="#acacac" transform="rotate(-65 116.5 427.1)"/>
<rect x="50.8" y="417.85" width="17.4" height="11.9" rx="6.66" ry="5.95" fill="#d8d8d8" transform="rotate(35 59.5 423.8)"/>
<rect x="52.4" y="419.45" width="14.2" height="8.7" rx="4.87" ry="4.35" fill="#8a8a8a" transform="rotate(35 59.5 423.8)"/>
<rect x="53.3" y="420.35" width="12.4" height="6.9" rx="3.86" ry="3.45" fill="#a2a2a2" transform="rotate(35 59.5 423.8)"/>
<rect x="54.75" y="422.05" width="9.5" height="3.5" rx="1.96" ry="1.75" fill="#acacac" transform="rotate(35 59.5 423.8)"/>
<rect x="64.1" y="432.6" width="21.4" height="12.4" rx="6.94" ry="6.2" fill="#d8d8d8" transform="rotate(-40 74.8 438.8)"/>
<rect x="65.7" y="434.2" width="18.2" height="9.2" rx="5.15" ry="4.6" fill="#8a8a8a" transform="rotate(-40 74.8 438.8)"/>
<rect x="66.6" y="435.1" width="16.4" height="7.4" rx="4.14" ry="3.7" fill="#a2a2a2" transform="rotate(-40 74.8 438.8)"/>
<rect x="68.05" y="436.8" width="13.5" height="4" rx="2.24" ry="2" fill="#acacac" transform="rotate(-40 74.8 438.8)"/>
<rect x="43.3" y="432.85" width="16.4" height="11.9" rx="6.66" ry="5.95" fill="#d8d8d8" transform="rotate(-65 51.5 438.8)"/>
<rect x="44.9" y="434.45" width="13.2" height="8.7" rx="4.87" ry="4.35" fill="#8a8a8a" transform="rotate(-65 51.5 438.8)"/>
<rect x="45.8" y="435.35" width="11.4" height="6.9" rx="3.86" ry="3.45" fill="#a2a2a2" transform="rotate(-65 51.5 438.8)"/>
<rect x="47.25" y="437.05" width="8.5" height="3.5" rx="1.96" ry="1.75" fill="#acacac" transform="rotate(-65 51.5 438.8)"/>
<rect x="111.05" y="436.15" width="19.9" height="11.9" rx="6.66" ry="5.95" fill="#d8d8d8" transform="rotate(-22 121 442.1)"/>
<rect x="112.65" y="437.75" width="16.7" height="8.7" rx="4.87" ry="4.35" fill="#8a8a8a" transform="rotate(-22 121 442.1)"/>
<rect x="113.55" y="438.65" width="14.9" height="6.9" rx="3.86" ry="3.45" fill="#a2a2a2" transform="rotate(-22 121 442.1)"/>
<rect x="115" y="440.35" width="12" height="3.5" rx="1.96" ry="1.75" fill="#acacac" transform="rotate(-22 121 442.1)"/>
<rect x="125.1" y="436.15" width="20.4" height="11.9" rx="6.66" ry="5.95" fill="#d8d8d8" transform="rotate(62 135.3 442.1)"/>
<rect x="126.7" y="437.75" width="17.2" height="8.7" rx="4.87" ry="4.35" fill="#8a8a8a" transform="rotate(62 135.3 442.1)"/>
<rect x="127.6" y="438.65" width="15.4" height="6.9" rx="3.86" ry="3.45" fill="#a2a2a2" transform="rotate(62 135.3 442.1)"/>
<rect x="129.05" y="440.35" width="12.5" height="3.5" rx="1.96" ry="1.75" fill="#acacac" transform="rotate(62 135.3 442.1)"/>
<rect x="54.5" y="447.35" width="18.4" height="11.9" rx="6.66" ry="5.95" fill="#d8d8d8" transform="rotate(-30 63.7 453.3)"/>
<rect x="56.1" y="448.95" width="15.2" height="8.7" rx="4.87" ry="4.35" fill="#8a8a8a" transform="rotate(-30 63.7 453.3)"/>
<rect x="57" y="449.85" width="13.4" height="6.9" rx="3.86" ry="3.45" fill="#a2a2a2" transform="rotate(-30 63.7 453.3)"/>
<rect x="58.45" y="451.55" width="10.5" height="3.5" rx="1.96" ry="1.75" fill="#acacac" transform="rotate(-30 63.7 453.3)"/>
<rect x="35.6" y="452.85" width="17.4" height="11.9" rx="6.66" ry="5.95" fill="#d8d8d8" transform="rotate(90 44.3 458.8)"/>
<rect x="37.2" y="454.45" width="14.2" height="8.7" rx="4.87" ry="4.35" fill="#8a8a8a" transform="rotate(90 44.3 458.8)"/>
<rect x="38.1" y="455.35" width="12.4" height="6.9" rx="3.86" ry="3.45" fill="#a2a2a2" transform="rotate(90 44.3 458.8)"/>
<rect x="39.55" y="457.05" width="9.5" height="3.5" rx="1.96" ry="1.75" fill="#acacac" transform="rotate(90 44.3 458.8)"/>
<rect x="73.1" y="452.7" width="14.4" height="11.4" rx="6.38" ry="5.7" fill="#d8d8d8" transform="rotate(85 80.3 458.4)"/>
<rect x="74.7" y="454.3" width="11.2" height="8.2" rx="4.59" ry="4.1" fill="#8a8a8a" transform="rotate(85 80.3 458.4)"/>
<rect x="75.6" y="455.2" width="9.4" height="6.4" rx="3.58" ry="3.2" fill="#a2a2a2" transform="rotate(85 80.3 458.4)"/>
<rect x="77.05" y="456.9" width="6.5" height="3" rx="1.68" ry="1.5" fill="#acacac" transform="rotate(85 80.3 458.4)"/>
<rect x="79.05" y="453.15" width="19.9" height="11.9" rx="6.66" ry="5.95" fill="#d8d8d8" transform="rotate(85 89 459.1)"/>
<rect x="80.65" y="454.75" width="16.7" height="8.7" rx="4.87" ry="4.35" fill="#8a8a8a" transform="rotate(85 89 459.1)"/>
<rect x="81.55" y="455.65" width="14.9" height="6.9" rx="3.86" ry="3.45" fill="#a2a2a2" transform="rotate(85 89 459.1)"/>
<rect x="83" y="457.35" width="12" height="3.5" rx="1.96" ry="1.75" fill="#acacac" transform="rotate(85 89 459.1)"/>
<rect x="118.1" y="450.35" width="17.4" height="11.9" rx="6.66" ry="5.95" fill="#d8d8d8" transform="rotate(-25 126.8 456.3)"/>
<rect x="119.7" y="451.95" width="14.2" height="8.7" rx="4.87" ry="4.35" fill="#8a8a8a" transform="rotate(-25 126.8 456.3)"/>
<rect x="120.6" y="452.85" width="12.4" height="6.9" rx="3.86" ry="3.45" fill="#a2a2a2" transform="rotate(-25 126.8 456.3)"/>
<rect x="122.05" y="454.55" width="9.5" height="3.5" rx="1.96" ry="1.75" fill="#acacac" transform="rotate(-25 126.8 456.3)"/>
<rect x="52" y="461.45" width="17.4" height="11.9" rx="6.66" ry="5.95" fill="#d8d8d8" transform="rotate(-15 60.7 467.4)"/>
<rect x="53.6" y="463.05" width="14.2" height="8.7" rx="4.87" ry="4.35" fill="#8a8a8a" transform="rotate(-15 60.7 467.4)"/>
<rect x="54.5" y="463.95" width="12.4" height="6.9" rx="3.86" ry="3.45" fill="#a2a2a2" transform="rotate(-15 60.7 467.4)"/>
<rect x="55.95" y="465.65" width="9.5" height="3.5" rx="1.96" ry="1.75" fill="#acacac" transform="rotate(-15 60.7 467.4)"/>
<rect x="65.1" y="464.15" width="19.4" height="11.9" rx="6.66" ry="5.95" fill="#d8d8d8" transform="rotate(-62 74.8 470.1)"/>
<rect x="66.7" y="465.75" width="16.2" height="8.7" rx="4.87" ry="4.35" fill="#8a8a8a" transform="rotate(-62 74.8 470.1)"/>
<rect x="67.6" y="466.65" width="14.4" height="6.9" rx="3.86" ry="3.45" fill="#a2a2a2" transform="rotate(-62 74.8 470.1)"/>
<rect x="69.05" y="468.35" width="11.5" height="3.5" rx="1.96" ry="1.75" fill="#acacac" transform="rotate(-62 74.8 470.1)"/>
<rect x="74.05" y="471.7" width="20.9" height="12.4" rx="6.94" ry="6.2" fill="#d8d8d8" transform="rotate(85 84.5 477.9)"/>
<rect x="75.65" y="473.3" width="17.7" height="9.2" rx="5.15" ry="4.6" fill="#8a8a8a" transform="rotate(85 84.5 477.9)"/>
<rect x="76.55" y="474.2" width="15.9" height="7.4" rx="4.14" ry="3.7" fill="#a2a2a2" transform="rotate(85 84.5 477.9)"/>
<rect x="78" y="475.9" width="13" height="4" rx="2.24" ry="2" fill="#acacac" transform="rotate(85 84.5 477.9)"/>
<rect x="133.6" y="470.35" width="17.4" height="11.9" rx="6.66" ry="5.95" fill="#d8d8d8" transform="rotate(-40 142.3 476.3)"/>
<rect x="135.2" y="471.95" width="14.2" height="8.7" rx="4.87" ry="4.35" fill="#8a8a8a" transform="rotate(-40 142.3 476.3)"/>
<rect x="136.1" y="472.85" width="12.4" height="6.9" rx="3.86" ry="3.45" fill="#a2a2a2" transform="rotate(-40 142.3 476.3)"/>
<rect x="137.55" y="474.55" width="9.5" height="3.5" rx="1.96" ry="1.75" fill="#acacac" transform="rotate(-40 142.3 476.3)"/>
<rect x="111.6" y="476.95" width="17.4" height="11.9" rx="6.66" ry="5.95" fill="#d8d8d8" transform="rotate(20 120.3 482.9)"/>
<rect x="113.2" y="478.55" width="14.2" height="8.7" rx="4.87" ry="4.35" fill="#8a8a8a" transform="rotate(20 120.3 482.9)"/>
<rect x="114.1" y="479.45" width="12.4" height="6.9" rx="3.86" ry="3.45" fill="#a2a2a2" transform="rotate(20 120.3 482.9)"/>
<rect x="115.55" y="481.15" width="9.5" height="3.5" rx="1.96" ry="1.75" fill="#acacac" transform="rotate(20 120.3 482.9)"/>
<rect x="96.3" y="482.45" width="16.4" height="11.9" rx="6.66" ry="5.95" fill="#d8d8d8" transform="rotate(-72 104.5 488.4)"/>
<rect x="97.9" y="484.05" width="13.2" height="8.7" rx="4.87" ry="4.35" fill="#8a8a8a" transform="rotate(-72 104.5 488.4)"/>
<rect x="98.8" y="484.95" width="11.4" height="6.9" rx="3.86" ry="3.45" fill="#a2a2a2" transform="rotate(-72 104.5 488.4)"/>
<rect x="100.25" y="486.65" width="8.5" height="3.5" rx="1.96" ry="1.75" fill="#acacac" transform="rotate(-72 104.5 488.4)"/>
<rect x="31.5" y="488.65" width="18.4" height="11.9" rx="6.66" ry="5.95" fill="#d8d8d8" transform="rotate(5 40.7 494.6)"/>
<rect x="33.1" y="490.25" width="15.2" height="8.7" rx="4.87" ry="4.35" fill="#8a8a8a" transform="rotate(5 40.7 494.6)"/>
<rect x="34" y="491.15" width="13.4" height="6.9" rx="3.86" ry="3.45" fill="#a2a2a2" transform="rotate(5 40.7 494.6)"/>
<rect x="35.45" y="492.85" width="10.5" height="3.5" rx="1.96" ry="1.75" fill="#acacac" transform="rotate(5 40.7 494.6)"/>
<rect x="78" y="489.45" width="20.4" height="11.9" rx="6.66" ry="5.95" fill="#d8d8d8" transform="rotate(12 88.2 495.4)"/>
<rect x="79.6" y="491.05" width="17.2" height="8.7" rx="4.87" ry="4.35" fill="#8a8a8a" transform="rotate(12 88.2 495.4)"/>
<rect x="80.5" y="491.95" width="15.4" height="6.9" rx="3.86" ry="3.45" fill="#a2a2a2" transform="rotate(12 88.2 495.4)"/>
<rect x="81.95" y="493.65" width="12.5" height="3.5" rx="1.96" ry="1.75" fill="#acacac" transform="rotate(12 88.2 495.4)"/>
</g></g>
<line x1="131" y1="502.6" x2="143" y2="502.6" stroke="#e05050" stroke-width="0.45"/>
<rect x="155.4" y="394.8" width="113.6" height="113.8" fill="url(#bfg)"/>
<g clip-path="url(#cq1)"><g filter="url(#bl2)">
<rect x="202.05" y="395.45" width="17.3" height="11.7" rx="6.55" ry="5.85" fill="#d8d8d8" transform="rotate(20 210.7 401.3)"/>
<rect x="203.65" y="397.05" width="14.1" height="8.5" rx="4.76" ry="4.25" fill="#8a8a8a" transform="rotate(20 210.7 401.3)"/>
<rect x="204.55" y="397.95" width="12.3" height="6.7" rx="3.75" ry="3.35" fill="#a2a2a2" transform="rotate(20 210.7 401.3)"/>
<rect x="206" y="399.65" width="9.4" height="3.3" rx="1.85" ry="1.65" fill="#acacac" transform="rotate(20 210.7 401.3)"/>
<rect x="233.83" y="400.05" width="17.95" height="11.7" rx="6.55" ry="5.85" fill="#d8d8d8" transform="rotate(0 242.8 405.9)"/>
<rect x="235.43" y="401.65" width="14.75" height="8.5" rx="4.76" ry="4.25" fill="#8a8a8a" transform="rotate(0 242.8 405.9)"/>
<rect x="236.33" y="402.55" width="12.95" height="6.7" rx="3.75" ry="3.35" fill="#a2a2a2" transform="rotate(0 242.8 405.9)"/>
<rect x="237.78" y="404.25" width="10.05" height="3.3" rx="1.85" ry="1.65" fill="#acacac" transform="rotate(0 242.8 405.9)"/>
<rect x="228.95" y="408.75" width="27.7" height="11.7" rx="6.55" ry="5.85" fill="#d8d8d8" transform="rotate(12 242.8 414.6)"/>
<rect x="230.55" y="410.35" width="24.5" height="8.5" rx="4.76" ry="4.25" fill="#8a8a8a" transform="rotate(12 242.8 414.6)"/>
<rect x="231.45" y="411.25" width="22.7" height="6.7" rx="3.75" ry="3.35" fill="#a2a2a2" transform="rotate(12 242.8 414.6)"/>
<rect x="232.9" y="412.95" width="19.8" height="3.3" rx="1.85" ry="1.65" fill="#acacac" transform="rotate(12 242.8 414.6)"/>
<rect x="178.6" y="411.75" width="18.6" height="11.7" rx="6.55" ry="5.85" fill="#d8d8d8" transform="rotate(78 187.9 417.6)"/>
<rect x="180.2" y="413.35" width="15.4" height="8.5" rx="4.76" ry="4.25" fill="#8a8a8a" transform="rotate(78 187.9 417.6)"/>
<rect x="181.1" y="414.25" width="13.6" height="6.7" rx="3.75" ry="3.35" fill="#a2a2a2" transform="rotate(78 187.9 417.6)"/>
<rect x="182.55" y="415.95" width="10.7" height="3.3" rx="1.85" ry="1.65" fill="#acacac" transform="rotate(78 187.9 417.6)"/>
<rect x="170.5" y="419.55" width="23.8" height="11.7" rx="6.55" ry="5.85" fill="#d8d8d8" transform="rotate(25 182.4 425.4)"/>
<rect x="172.1" y="421.15" width="20.6" height="8.5" rx="4.76" ry="4.25" fill="#8a8a8a" transform="rotate(25 182.4 425.4)"/>
<rect x="173" y="422.05" width="18.8" height="6.7" rx="3.75" ry="3.35" fill="#a2a2a2" transform="rotate(25 182.4 425.4)"/>
<rect x="174.45" y="423.75" width="15.9" height="3.3" rx="1.85" ry="1.65" fill="#acacac" transform="rotate(25 182.4 425.4)"/>
<rect x="255.75" y="422.55" width="17.3" height="11.7" rx="6.55" ry="5.85" fill="#d8d8d8" transform="rotate(15 264.4 428.4)"/>
<rect x="257.35" y="424.15" width="14.1" height="8.5" rx="4.76" ry="4.25" fill="#8a8a8a" transform="rotate(15 264.4 428.4)"/>
<rect x="258.25" y="425.05" width="12.3" height="6.7" rx="3.75" ry="3.35" fill="#a2a2a2" transform="rotate(15 264.4 428.4)"/>
<rect x="259.7" y="426.75" width="9.4" height="3.3" rx="1.85" ry="1.65" fill="#acacac" transform="rotate(15 264.4 428.4)"/>
<rect x="160.45" y="431.75" width="19.9" height="11.7" rx="6.55" ry="5.85" fill="#d8d8d8" transform="rotate(-75 170.4 437.6)"/>
<rect x="162.05" y="433.35" width="16.7" height="8.5" rx="4.76" ry="4.25" fill="#8a8a8a" transform="rotate(-75 170.4 437.6)"/>
<rect x="162.95" y="434.25" width="14.9" height="6.7" rx="3.75" ry="3.35" fill="#a2a2a2" transform="rotate(-75 170.4 437.6)"/>
<rect x="164.4" y="435.95" width="12" height="3.3" rx="1.85" ry="1.65" fill="#acacac" transform="rotate(-75 170.4 437.6)"/>
<rect x="204.25" y="441.25" width="17.3" height="11.7" rx="6.55" ry="5.85" fill="#d8d8d8" transform="rotate(65 212.9 447.1)"/>
<rect x="205.85" y="442.85" width="14.1" height="8.5" rx="4.76" ry="4.25" fill="#8a8a8a" transform="rotate(65 212.9 447.1)"/>
<rect x="206.75" y="443.75" width="12.3" height="6.7" rx="3.75" ry="3.35" fill="#a2a2a2" transform="rotate(65 212.9 447.1)"/>
<rect x="208.2" y="445.45" width="9.4" height="3.3" rx="1.85" ry="1.65" fill="#acacac" transform="rotate(65 212.9 447.1)"/>
<rect x="178.75" y="467.95" width="19.9" height="11.7" rx="6.55" ry="5.85" fill="#d8d8d8" transform="rotate(-60 188.7 473.8)"/>
<rect x="180.35" y="469.55" width="16.7" height="8.5" rx="4.76" ry="4.25" fill="#8a8a8a" transform="rotate(-60 188.7 473.8)"/>
<rect x="181.25" y="470.45" width="14.9" height="6.7" rx="3.75" ry="3.35" fill="#a2a2a2" transform="rotate(-60 188.7 473.8)"/>
<rect x="182.7" y="472.15" width="12" height="3.3" rx="1.85" ry="1.65" fill="#acacac" transform="rotate(-60 188.7 473.8)"/>
<rect x="185.78" y="471.25" width="19.25" height="11.7" rx="6.55" ry="5.85" fill="#d8d8d8" transform="rotate(-40 195.4 477.1)"/>
<rect x="187.38" y="472.85" width="16.05" height="8.5" rx="4.76" ry="4.25" fill="#8a8a8a" transform="rotate(-40 195.4 477.1)"/>
<rect x="188.28" y="473.75" width="14.25" height="6.7" rx="3.75" ry="3.35" fill="#a2a2a2" transform="rotate(-40 195.4 477.1)"/>
<rect x="189.72" y="475.45" width="11.35" height="3.3" rx="1.85" ry="1.65" fill="#acacac" transform="rotate(-40 195.4 477.1)"/>
<rect x="214.4" y="475.75" width="18.6" height="11.7" rx="6.55" ry="5.85" fill="#d8d8d8" transform="rotate(40 223.7 481.6)"/>
<rect x="216" y="477.35" width="15.4" height="8.5" rx="4.76" ry="4.25" fill="#8a8a8a" transform="rotate(40 223.7 481.6)"/>
<rect x="216.9" y="478.25" width="13.6" height="6.7" rx="3.75" ry="3.35" fill="#a2a2a2" transform="rotate(40 223.7 481.6)"/>
<rect x="218.35" y="479.95" width="10.7" height="3.3" rx="1.85" ry="1.65" fill="#acacac" transform="rotate(40 223.7 481.6)"/>
<rect x="193.75" y="483.75" width="19.9" height="11.7" rx="6.55" ry="5.85" fill="#d8d8d8" transform="rotate(30 203.7 489.6)"/>
<rect x="195.35" y="485.35" width="16.7" height="8.5" rx="4.76" ry="4.25" fill="#8a8a8a" transform="rotate(30 203.7 489.6)"/>
<rect x="196.25" y="486.25" width="14.9" height="6.7" rx="3.75" ry="3.35" fill="#a2a2a2" transform="rotate(30 203.7 489.6)"/>
<rect x="197.7" y="487.95" width="12" height="3.3" rx="1.85" ry="1.65" fill="#acacac" transform="rotate(30 203.7 489.6)"/>
<rect x="246.45" y="495.95" width="17.3" height="11.7" rx="6.55" ry="5.85" fill="#d8d8d8" transform="rotate(-70 255.1 501.8)"/>
<rect x="248.05" y="497.55" width="14.1" height="8.5" rx="4.76" ry="4.25" fill="#8a8a8a" transform="rotate(-70 255.1 501.8)"/>
<rect x="248.95" y="498.45" width="12.3" height="6.7" rx="3.75" ry="3.35" fill="#a2a2a2" transform="rotate(-70 255.1 501.8)"/>
<rect x="250.4" y="500.15" width="9.4" height="3.3" rx="1.85" ry="1.65" fill="#acacac" transform="rotate(-70 255.1 501.8)"/>
</g></g>
<line x1="252" y1="502.6" x2="264" y2="502.6" stroke="#e05050" stroke-width="0.45"/>
<rect x="278" y="394.8" width="113" height="113.8" fill="url(#bfg)"/>
<g clip-path="url(#cq2)"><g filter="url(#bl2)">
<rect x="279.75" y="393.75" width="19.9" height="11.7" rx="6.55" ry="5.85" fill="#d8d8d8" transform="rotate(40 289.7 399.6)"/>
<rect x="281.35" y="395.35" width="16.7" height="8.5" rx="4.76" ry="4.25" fill="#8a8a8a" transform="rotate(40 289.7 399.6)"/>
<rect x="282.25" y="396.25" width="14.9" height="6.7" rx="3.75" ry="3.35" fill="#a2a2a2" transform="rotate(40 289.7 399.6)"/>
<rect x="283.7" y="397.95" width="12" height="3.3" rx="1.85" ry="1.65" fill="#acacac" transform="rotate(40 289.7 399.6)"/>
<rect x="288.95" y="389.25" width="12.1" height="11.7" rx="6.05" ry="5.85" fill="#d8d8d8" transform="rotate(0 295 395.1)"/>
<rect x="290.55" y="390.85" width="8.9" height="8.5" rx="4.45" ry="4.25" fill="#8a8a8a" transform="rotate(0 295 395.1)"/>
<rect x="291.45" y="391.75" width="7.1" height="6.7" rx="3.55" ry="3.35" fill="#a2a2a2" transform="rotate(0 295 395.1)"/>
<rect x="292.9" y="393.45" width="4.2" height="3.3" rx="1.85" ry="1.65" fill="#acacac" transform="rotate(0 295 395.1)"/>
<rect x="306.2" y="401.75" width="18.6" height="11.7" rx="6.55" ry="5.85" fill="#d8d8d8" transform="rotate(-70 315.5 407.6)"/>
<rect x="307.8" y="403.35" width="15.4" height="8.5" rx="4.76" ry="4.25" fill="#8a8a8a" transform="rotate(-70 315.5 407.6)"/>
<rect x="308.7" y="404.25" width="13.6" height="6.7" rx="3.75" ry="3.35" fill="#a2a2a2" transform="rotate(-70 315.5 407.6)"/>
<rect x="310.15" y="405.95" width="10.7" height="3.3" rx="1.85" ry="1.65" fill="#acacac" transform="rotate(-70 315.5 407.6)"/>
<rect x="281.75" y="414.55" width="22.5" height="11.7" rx="6.55" ry="5.85" fill="#d8d8d8" transform="rotate(-20 293 420.4)"/>
<rect x="283.35" y="416.15" width="19.3" height="8.5" rx="4.76" ry="4.25" fill="#8a8a8a" transform="rotate(-20 293 420.4)"/>
<rect x="284.25" y="417.05" width="17.5" height="6.7" rx="3.75" ry="3.35" fill="#a2a2a2" transform="rotate(-20 293 420.4)"/>
<rect x="285.7" y="418.75" width="14.6" height="3.3" rx="1.85" ry="1.65" fill="#acacac" transform="rotate(-20 293 420.4)"/>
<rect x="341.75" y="407.05" width="22.5" height="11.7" rx="6.55" ry="5.85" fill="#d8d8d8" transform="rotate(-75 353 412.9)"/>
<rect x="343.35" y="408.65" width="19.3" height="8.5" rx="4.76" ry="4.25" fill="#8a8a8a" transform="rotate(-75 353 412.9)"/>
<rect x="344.25" y="409.55" width="17.5" height="6.7" rx="3.75" ry="3.35" fill="#a2a2a2" transform="rotate(-75 353 412.9)"/>
<rect x="345.7" y="411.25" width="14.6" height="3.3" rx="1.85" ry="1.65" fill="#acacac" transform="rotate(-75 353 412.9)"/>
<rect x="353.7" y="401.25" width="18.6" height="11.7" rx="6.55" ry="5.85" fill="#d8d8d8" transform="rotate(-80 363 407.1)"/>
<rect x="355.3" y="402.85" width="15.4" height="8.5" rx="4.76" ry="4.25" fill="#8a8a8a" transform="rotate(-80 363 407.1)"/>
<rect x="356.2" y="403.75" width="13.6" height="6.7" rx="3.75" ry="3.35" fill="#a2a2a2" transform="rotate(-80 363 407.1)"/>
<rect x="357.65" y="405.45" width="10.7" height="3.3" rx="1.85" ry="1.65" fill="#acacac" transform="rotate(-80 363 407.1)"/>
<rect x="373.45" y="420.45" width="25.1" height="11.7" rx="6.55" ry="5.85" fill="#d8d8d8" transform="rotate(-85 386 426.3)"/>
<rect x="375.05" y="422.05" width="21.9" height="8.5" rx="4.76" ry="4.25" fill="#8a8a8a" transform="rotate(-85 386 426.3)"/>
<rect x="375.95" y="422.95" width="20.1" height="6.7" rx="3.75" ry="3.35" fill="#a2a2a2" transform="rotate(-85 386 426.3)"/>
<rect x="377.4" y="424.65" width="17.2" height="3.3" rx="1.85" ry="1.65" fill="#acacac" transform="rotate(-85 386 426.3)"/>
<rect x="298.95" y="433.75" width="14.7" height="11.7" rx="6.55" ry="5.85" fill="#d8d8d8" transform="rotate(50 306.3 439.6)"/>
<rect x="300.55" y="435.35" width="11.5" height="8.5" rx="4.76" ry="4.25" fill="#8a8a8a" transform="rotate(50 306.3 439.6)"/>
<rect x="301.45" y="436.25" width="9.7" height="6.7" rx="3.75" ry="3.35" fill="#a2a2a2" transform="rotate(50 306.3 439.6)"/>
<rect x="302.9" y="437.95" width="6.8" height="3.3" rx="1.85" ry="1.65" fill="#acacac" transform="rotate(50 306.3 439.6)"/>
<rect x="313.35" y="435.05" width="19.9" height="11.7" rx="6.55" ry="5.85" fill="#d8d8d8" transform="rotate(80 323.3 440.9)"/>
<rect x="314.95" y="436.65" width="16.7" height="8.5" rx="4.76" ry="4.25" fill="#8a8a8a" transform="rotate(80 323.3 440.9)"/>
<rect x="315.85" y="437.55" width="14.9" height="6.7" rx="3.75" ry="3.35" fill="#a2a2a2" transform="rotate(80 323.3 440.9)"/>
<rect x="317.3" y="439.25" width="12" height="3.3" rx="1.85" ry="1.65" fill="#acacac" transform="rotate(80 323.3 440.9)"/>
<rect x="347.35" y="432.45" width="17.3" height="11.7" rx="6.55" ry="5.85" fill="#d8d8d8" transform="rotate(40 356 438.3)"/>
<rect x="348.95" y="434.05" width="14.1" height="8.5" rx="4.76" ry="4.25" fill="#8a8a8a" transform="rotate(40 356 438.3)"/>
<rect x="349.85" y="434.95" width="12.3" height="6.7" rx="3.75" ry="3.35" fill="#a2a2a2" transform="rotate(40 356 438.3)"/>
<rect x="351.3" y="436.65" width="9.4" height="3.3" rx="1.85" ry="1.65" fill="#acacac" transform="rotate(40 356 438.3)"/>
<rect x="291.82" y="440.45" width="17.95" height="11.7" rx="6.55" ry="5.85" fill="#d8d8d8" transform="rotate(40 300.8 446.3)"/>
<rect x="293.43" y="442.05" width="14.75" height="8.5" rx="4.76" ry="4.25" fill="#8a8a8a" transform="rotate(40 300.8 446.3)"/>
<rect x="294.32" y="442.95" width="12.95" height="6.7" rx="3.75" ry="3.35" fill="#a2a2a2" transform="rotate(40 300.8 446.3)"/>
<rect x="295.78" y="444.65" width="10.05" height="3.3" rx="1.85" ry="1.65" fill="#acacac" transform="rotate(40 300.8 446.3)"/>
<rect x="299.35" y="447.45" width="17.3" height="11.7" rx="6.55" ry="5.85" fill="#d8d8d8" transform="rotate(-55 308 453.3)"/>
<rect x="300.95" y="449.05" width="14.1" height="8.5" rx="4.76" ry="4.25" fill="#8a8a8a" transform="rotate(-55 308 453.3)"/>
<rect x="301.85" y="449.95" width="12.3" height="6.7" rx="3.75" ry="3.35" fill="#a2a2a2" transform="rotate(-55 308 453.3)"/>
<rect x="303.3" y="451.65" width="9.4" height="3.3" rx="1.85" ry="1.65" fill="#acacac" transform="rotate(-55 308 453.3)"/>
<rect x="346.52" y="446.75" width="17.95" height="11.7" rx="6.55" ry="5.85" fill="#d8d8d8" transform="rotate(0 355.5 452.6)"/>
<rect x="348.12" y="448.35" width="14.75" height="8.5" rx="4.76" ry="4.25" fill="#8a8a8a" transform="rotate(0 355.5 452.6)"/>
<rect x="349.02" y="449.25" width="12.95" height="6.7" rx="3.75" ry="3.35" fill="#a2a2a2" transform="rotate(0 355.5 452.6)"/>
<rect x="350.48" y="450.95" width="10.05" height="3.3" rx="1.85" ry="1.65" fill="#acacac" transform="rotate(0 355.5 452.6)"/>
<rect x="361.43" y="454.55" width="20.55" height="11.7" rx="6.55" ry="5.85" fill="#d8d8d8" transform="rotate(-80 371.7 460.4)"/>
<rect x="363.02" y="456.15" width="17.35" height="8.5" rx="4.76" ry="4.25" fill="#8a8a8a" transform="rotate(-80 371.7 460.4)"/>
<rect x="363.93" y="457.05" width="15.55" height="6.7" rx="3.75" ry="3.35" fill="#a2a2a2" transform="rotate(-80 371.7 460.4)"/>
<rect x="365.38" y="458.75" width="12.65" height="3.3" rx="1.85" ry="1.65" fill="#acacac" transform="rotate(-80 371.7 460.4)"/>
<rect x="284.4" y="459.05" width="23.8" height="11.7" rx="6.55" ry="5.85" fill="#d8d8d8" transform="rotate(-35 296.3 464.9)"/>
<rect x="286" y="460.65" width="20.6" height="8.5" rx="4.76" ry="4.25" fill="#8a8a8a" transform="rotate(-35 296.3 464.9)"/>
<rect x="286.9" y="461.55" width="18.8" height="6.7" rx="3.75" ry="3.35" fill="#a2a2a2" transform="rotate(-35 296.3 464.9)"/>
<rect x="288.35" y="463.25" width="15.9" height="3.3" rx="1.85" ry="1.65" fill="#acacac" transform="rotate(-35 296.3 464.9)"/>
<rect x="312.65" y="457.95" width="14.7" height="11.7" rx="6.55" ry="5.85" fill="#d8d8d8" transform="rotate(80 320 463.8)"/>
<rect x="314.25" y="459.55" width="11.5" height="8.5" rx="4.76" ry="4.25" fill="#8a8a8a" transform="rotate(80 320 463.8)"/>
<rect x="315.15" y="460.45" width="9.7" height="6.7" rx="3.75" ry="3.35" fill="#a2a2a2" transform="rotate(80 320 463.8)"/>
<rect x="316.6" y="462.15" width="6.8" height="3.3" rx="1.85" ry="1.65" fill="#acacac" transform="rotate(80 320 463.8)"/>
<rect x="297.4" y="465.45" width="18.6" height="11.7" rx="6.55" ry="5.85" fill="#d8d8d8" transform="rotate(-70 306.7 471.3)"/>
<rect x="299" y="467.05" width="15.4" height="8.5" rx="4.76" ry="4.25" fill="#8a8a8a" transform="rotate(-70 306.7 471.3)"/>
<rect x="299.9" y="467.95" width="13.6" height="6.7" rx="3.75" ry="3.35" fill="#a2a2a2" transform="rotate(-70 306.7 471.3)"/>
<rect x="301.35" y="469.65" width="10.7" height="3.3" rx="1.85" ry="1.65" fill="#acacac" transform="rotate(-70 306.7 471.3)"/>
<rect x="306.9" y="468.45" width="23.8" height="11.7" rx="6.55" ry="5.85" fill="#d8d8d8" transform="rotate(35 318.8 474.3)"/>
<rect x="308.5" y="470.05" width="20.6" height="8.5" rx="4.76" ry="4.25" fill="#8a8a8a" transform="rotate(35 318.8 474.3)"/>
<rect x="309.4" y="470.95" width="18.8" height="6.7" rx="3.75" ry="3.35" fill="#a2a2a2" transform="rotate(35 318.8 474.3)"/>
<rect x="310.85" y="472.65" width="15.9" height="3.3" rx="1.85" ry="1.65" fill="#acacac" transform="rotate(35 318.8 474.3)"/>
<rect x="355.35" y="462.45" width="14.7" height="11.7" rx="6.55" ry="5.85" fill="#d8d8d8" transform="rotate(-70 362.7 468.3)"/>
<rect x="356.95" y="464.05" width="11.5" height="8.5" rx="4.76" ry="4.25" fill="#8a8a8a" transform="rotate(-70 362.7 468.3)"/>
<rect x="357.85" y="464.95" width="9.7" height="6.7" rx="3.75" ry="3.35" fill="#a2a2a2" transform="rotate(-70 362.7 468.3)"/>
<rect x="359.3" y="466.65" width="6.8" height="3.3" rx="1.85" ry="1.65" fill="#acacac" transform="rotate(-70 362.7 468.3)"/>
<rect x="284.05" y="478.75" width="17.3" height="11.7" rx="6.55" ry="5.85" fill="#d8d8d8" transform="rotate(90 292.7 484.6)"/>
<rect x="285.65" y="480.35" width="14.1" height="8.5" rx="4.76" ry="4.25" fill="#8a8a8a" transform="rotate(90 292.7 484.6)"/>
<rect x="286.55" y="481.25" width="12.3" height="6.7" rx="3.75" ry="3.35" fill="#a2a2a2" transform="rotate(90 292.7 484.6)"/>
<rect x="288" y="482.95" width="9.4" height="3.3" rx="1.85" ry="1.65" fill="#acacac" transform="rotate(90 292.7 484.6)"/>
<rect x="330" y="488.45" width="18.6" height="11.7" rx="6.55" ry="5.85" fill="#d8d8d8" transform="rotate(55 339.3 494.3)"/>
<rect x="331.6" y="490.05" width="15.4" height="8.5" rx="4.76" ry="4.25" fill="#8a8a8a" transform="rotate(55 339.3 494.3)"/>
<rect x="332.5" y="490.95" width="13.6" height="6.7" rx="3.75" ry="3.35" fill="#a2a2a2" transform="rotate(55 339.3 494.3)"/>
<rect x="333.95" y="492.65" width="10.7" height="3.3" rx="1.85" ry="1.65" fill="#acacac" transform="rotate(55 339.3 494.3)"/>
<rect x="346.2" y="491.25" width="18.6" height="11.7" rx="6.55" ry="5.85" fill="#d8d8d8" transform="rotate(80 355.5 497.1)"/>
<rect x="347.8" y="492.85" width="15.4" height="8.5" rx="4.76" ry="4.25" fill="#8a8a8a" transform="rotate(80 355.5 497.1)"/>
<rect x="348.7" y="493.75" width="13.6" height="6.7" rx="3.75" ry="3.35" fill="#a2a2a2" transform="rotate(80 355.5 497.1)"/>
<rect x="350.15" y="495.45" width="10.7" height="3.3" rx="1.85" ry="1.65" fill="#acacac" transform="rotate(80 355.5 497.1)"/>
<rect x="307.9" y="497.95" width="18.6" height="11.7" rx="6.55" ry="5.85" fill="#d8d8d8" transform="rotate(-75 317.2 503.8)"/>
<rect x="309.5" y="499.55" width="15.4" height="8.5" rx="4.76" ry="4.25" fill="#8a8a8a" transform="rotate(-75 317.2 503.8)"/>
<rect x="310.4" y="500.45" width="13.6" height="6.7" rx="3.75" ry="3.35" fill="#a2a2a2" transform="rotate(-75 317.2 503.8)"/>
<rect x="311.85" y="502.15" width="10.7" height="3.3" rx="1.85" ry="1.65" fill="#acacac" transform="rotate(-75 317.2 503.8)"/>
<rect x="380.85" y="487.75" width="17.3" height="11.7" rx="6.55" ry="5.85" fill="#d8d8d8" transform="rotate(-80 389.5 493.6)"/>
<rect x="382.45" y="489.35" width="14.1" height="8.5" rx="4.76" ry="4.25" fill="#8a8a8a" transform="rotate(-80 389.5 493.6)"/>
<rect x="383.35" y="490.25" width="12.3" height="6.7" rx="3.75" ry="3.35" fill="#a2a2a2" transform="rotate(-80 389.5 493.6)"/>
<rect x="384.8" y="491.95" width="9.4" height="3.3" rx="1.85" ry="1.65" fill="#acacac" transform="rotate(-80 389.5 493.6)"/>
<rect x="370" y="500.45" width="16" height="11.7" rx="6.55" ry="5.85" fill="#d8d8d8" transform="rotate(-30 378 506.3)"/>
<rect x="371.6" y="502.05" width="12.8" height="8.5" rx="4.76" ry="4.25" fill="#8a8a8a" transform="rotate(-30 378 506.3)"/>
<rect x="372.5" y="502.95" width="11" height="6.7" rx="3.75" ry="3.35" fill="#a2a2a2" transform="rotate(-30 378 506.3)"/>
<rect x="373.95" y="504.65" width="8.1" height="3.3" rx="1.85" ry="1.65" fill="#acacac" transform="rotate(-30 378 506.3)"/>
</g></g>
<line x1="374" y1="502.6" x2="386" y2="502.6" stroke="#e05050" stroke-width="0.45"/>
<text x="419.4" y="267.32" font-size="9.8" font-weight="bold" fill="#000" text-anchor="middle" font-family="'Liberation Serif', serif" dominant-baseline="central">d</text>
<rect x="447.4" y="281.5" width="205.2" height="159.5" fill="none" stroke="#666" stroke-width="1"/>
<line x1="447.4" y1="281.5" x2="447.4" y2="441" stroke="#555" stroke-width="1"/>
<line x1="447.4" y1="441" x2="652.6" y2="441" stroke="#555" stroke-width="1"/>
<line x1="443.9" y1="428.5" x2="447.4" y2="428.5" stroke="#555" stroke-width="1"/>
<text x="442.7" y="427.38" font-size="11.2" font-weight="bold" fill="#000" text-anchor="end" font-family="'Liberation Serif', serif" dominant-baseline="central">0</text>
<line x1="445.4" y1="416.27" x2="447.4" y2="416.27" stroke="#555" stroke-width="1"/>
<line x1="443.9" y1="404.04" x2="447.4" y2="404.04" stroke="#555" stroke-width="1"/>
<text x="442.7" y="402.92" font-size="11.2" font-weight="bold" fill="#000" text-anchor="end" font-family="'Liberation Serif', serif" dominant-baseline="central">50</text>
<line x1="445.4" y1="391.8" x2="447.4" y2="391.8" stroke="#555" stroke-width="1"/>
<line x1="443.9" y1="379.57" x2="447.4" y2="379.57" stroke="#555" stroke-width="1"/>
<text x="442.7" y="378.45" font-size="11.2" font-weight="bold" fill="#000" text-anchor="end" font-family="'Liberation Serif', serif" dominant-baseline="central">100</text>
<line x1="445.4" y1="367.34" x2="447.4" y2="367.34" stroke="#555" stroke-width="1"/>
<line x1="443.9" y1="355.11" x2="447.4" y2="355.11" stroke="#555" stroke-width="1"/>
<text x="442.7" y="353.99" font-size="11.2" font-weight="bold" fill="#000" text-anchor="end" font-family="'Liberation Serif', serif" dominant-baseline="central">150</text>
<line x1="445.4" y1="342.87" x2="447.4" y2="342.87" stroke="#555" stroke-width="1"/>
<line x1="443.9" y1="330.64" x2="447.4" y2="330.64" stroke="#555" stroke-width="1"/>
<text x="442.7" y="329.52" font-size="11.2" font-weight="bold" fill="#000" text-anchor="end" font-family="'Liberation Serif', serif" dominant-baseline="central">200</text>
<line x1="445.4" y1="318.41" x2="447.4" y2="318.41" stroke="#555" stroke-width="1"/>
<line x1="443.9" y1="306.18" x2="447.4" y2="306.18" stroke="#555" stroke-width="1"/>
<text x="442.7" y="305.06" font-size="11.2" font-weight="bold" fill="#000" text-anchor="end" font-family="'Liberation Serif', serif" dominant-baseline="central">250</text>
<line x1="445.4" y1="293.94" x2="447.4" y2="293.94" stroke="#555" stroke-width="1"/>
<line x1="443.9" y1="281.71" x2="447.4" y2="281.71" stroke="#555" stroke-width="1"/>
<text x="442.7" y="280.59" font-size="11.2" font-weight="bold" fill="#000" text-anchor="end" font-family="'Liberation Serif', serif" dominant-baseline="central">300</text>
<line x1="456.3" y1="441" x2="456.3" y2="444.5" stroke="#555" stroke-width="1"/>
<text x="456.3" y="450.08" font-size="11.2" font-weight="bold" fill="#000" text-anchor="middle" font-family="'Liberation Serif', serif" dominant-baseline="central">0</text>
<line x1="479.7" y1="441" x2="479.7" y2="443" stroke="#555" stroke-width="1"/>
<line x1="503.1" y1="441" x2="503.1" y2="444.5" stroke="#555" stroke-width="1"/>
<text x="503.1" y="450.08" font-size="11.2" font-weight="bold" fill="#000" text-anchor="middle" font-family="'Liberation Serif', serif" dominant-baseline="central">500</text>
<line x1="526.5" y1="441" x2="526.5" y2="443" stroke="#555" stroke-width="1"/>
<line x1="549.9" y1="441" x2="549.9" y2="444.5" stroke="#555" stroke-width="1"/>
<text x="549.9" y="450.08" font-size="11.2" font-weight="bold" fill="#000" text-anchor="middle" font-family="'Liberation Serif', serif" dominant-baseline="central">1000</text>
<line x1="573.3" y1="441" x2="573.3" y2="443" stroke="#555" stroke-width="1"/>
<line x1="596.7" y1="441" x2="596.7" y2="444.5" stroke="#555" stroke-width="1"/>
<text x="596.7" y="450.08" font-size="11.2" font-weight="bold" fill="#000" text-anchor="middle" font-family="'Liberation Serif', serif" dominant-baseline="central">1500</text>
<line x1="620.1" y1="441" x2="620.1" y2="443" stroke="#555" stroke-width="1"/>
<line x1="643.5" y1="441" x2="643.5" y2="444.5" stroke="#555" stroke-width="1"/>
<text x="643.5" y="450.08" font-size="11.2" font-weight="bold" fill="#000" text-anchor="middle" font-family="'Liberation Serif', serif" dominant-baseline="central">2000</text>
<text x="414.98" y="354" font-size="12.2" font-weight="bold" fill="#000" text-anchor="middle" font-family="'Liberation Serif', serif" dominant-baseline="central" transform="rotate(-90 414.98 354)">Intensity</text>
<text x="553.8" y="461.95" font-size="11.5" font-weight="bold" fill="#000" text-anchor="middle" font-family="'Liberation Serif', serif" dominant-baseline="central">Distance/nM</text>
<circle cx="456.4" cy="422.4" r="1.95" fill="#a0a0a0"/>
<circle cx="458.2" cy="427.8" r="1.95" fill="#a0a0a0"/>
<circle cx="462.4" cy="418.2" r="1.95" fill="#a0a0a0"/>
<circle cx="464.2" cy="420.3" r="1.95" fill="#a0a0a0"/>
<circle cx="467.2" cy="417.9" r="1.95" fill="#a0a0a0"/>
<circle cx="469.6" cy="422.4" r="1.95" fill="#a0a0a0"/>
<circle cx="466" cy="426" r="1.95" fill="#a0a0a0"/>
<circle cx="475.4" cy="424.8" r="1.95" fill="#a0a0a0"/>
<circle cx="470.2" cy="414.5" r="1.95" fill="#a0a0a0"/>
<circle cx="472" cy="410.9" r="1.95" fill="#a0a0a0"/>
<circle cx="473.9" cy="408.5" r="1.95" fill="#a0a0a0"/>
<circle cx="477.5" cy="412.7" r="1.95" fill="#a0a0a0"/>
<circle cx="480.5" cy="407.1" r="1.95" fill="#a0a0a0"/>
<circle cx="482.9" cy="409.1" r="1.95" fill="#a0a0a0"/>
<circle cx="484.7" cy="410.9" r="1.95" fill="#a0a0a0"/>
<circle cx="486.5" cy="405.5" r="1.95" fill="#a0a0a0"/>
<circle cx="489.5" cy="404.7" r="1.95" fill="#a0a0a0"/>
<circle cx="490.7" cy="408.8" r="1.95" fill="#a0a0a0"/>
<circle cx="493.7" cy="401.9" r="1.95" fill="#a0a0a0"/>
<circle cx="495.5" cy="398.9" r="1.95" fill="#a0a0a0"/>
<circle cx="498.5" cy="397.5" r="1.95" fill="#a0a0a0"/>
<circle cx="501.5" cy="396.3" r="1.95" fill="#a0a0a0"/>
<circle cx="504.5" cy="395.5" r="1.95" fill="#a0a0a0"/>
<circle cx="507.5" cy="392.9" r="1.95" fill="#a0a0a0"/>
<circle cx="493.7" cy="399.5" r="1.95" fill="#a0a0a0"/>
<circle cx="460.5" cy="428.5" r="1.95" fill="#a0a0a0"/>
<circle cx="462.5" cy="427.5" r="1.95" fill="#a0a0a0"/>
<circle cx="501" cy="396.3" r="1.95" fill="#a0a0a0"/>
<circle cx="503.8" cy="395.8" r="1.95" fill="#a0a0a0"/>
<circle cx="506.7" cy="396.9" r="1.95" fill="#a0a0a0"/>
<circle cx="508.7" cy="394.4" r="1.95" fill="#a0a0a0"/>
<circle cx="510.6" cy="396.3" r="1.95" fill="#a0a0a0"/>
<circle cx="513.5" cy="395.4" r="1.95" fill="#a0a0a0"/>
<circle cx="516.3" cy="395" r="1.95" fill="#a0a0a0"/>
<circle cx="518.3" cy="393.5" r="1.95" fill="#a0a0a0"/>
<circle cx="520.2" cy="395.4" r="1.95" fill="#a0a0a0"/>
<circle cx="522.1" cy="393.5" r="1.95" fill="#a0a0a0"/>
<circle cx="524" cy="397.3" r="1.95" fill="#a0a0a0"/>
<circle cx="526.5" cy="394.4" r="1.95" fill="#a0a0a0"/>
<circle cx="528.5" cy="401.5" r="1.95" fill="#a0a0a0"/>
<circle cx="529.8" cy="391.5" r="1.95" fill="#a0a0a0"/>
<circle cx="531.7" cy="397.7" r="1.95" fill="#a0a0a0"/>
<circle cx="533.1" cy="393.5" r="1.95" fill="#a0a0a0"/>
<circle cx="535.6" cy="397.7" r="1.95" fill="#a0a0a0"/>
<circle cx="537.5" cy="390.6" r="1.95" fill="#a0a0a0"/>
<circle cx="539.4" cy="404" r="1.95" fill="#a0a0a0"/>
<circle cx="540.8" cy="406" r="1.95" fill="#a0a0a0"/>
<circle cx="542.3" cy="399.2" r="1.95" fill="#a0a0a0"/>
<circle cx="544.6" cy="399.2" r="1.95" fill="#a0a0a0"/>
<circle cx="543.3" cy="402.1" r="1.95" fill="#a0a0a0"/>
<circle cx="546.2" cy="395" r="1.95" fill="#a0a0a0"/>
<circle cx="548.1" cy="395" r="1.95" fill="#a0a0a0"/>
<circle cx="549.6" cy="397.7" r="1.95" fill="#a0a0a0"/>
<circle cx="551.9" cy="393.5" r="1.95" fill="#a0a0a0"/>
<circle cx="553.8" cy="399.2" r="1.95" fill="#a0a0a0"/>
<circle cx="555.8" cy="397.7" r="1.95" fill="#a0a0a0"/>
<circle cx="554.8" cy="402.1" r="1.95" fill="#a0a0a0"/>
<circle cx="557.7" cy="401.5" r="1.95" fill="#a0a0a0"/>
<circle cx="560.6" cy="404" r="1.95" fill="#a0a0a0"/>
<circle cx="561.9" cy="391.2" r="1.95" fill="#a0a0a0"/>
<circle cx="563.8" cy="401.2" r="1.95" fill="#a0a0a0"/>
<circle cx="565.4" cy="409.2" r="1.95" fill="#a0a0a0"/>
<circle cx="566.9" cy="397.7" r="1.95" fill="#a0a0a0"/>
<circle cx="568.8" cy="400.8" r="1.95" fill="#a0a0a0"/>
<circle cx="570.8" cy="395.4" r="1.95" fill="#a0a0a0"/>
<circle cx="572.1" cy="393.5" r="1.95" fill="#a0a0a0"/>
<circle cx="573.1" cy="411.7" r="1.95" fill="#a0a0a0"/>
<circle cx="575.4" cy="396.3" r="1.95" fill="#a0a0a0"/>
<circle cx="577.9" cy="396.3" r="1.95" fill="#a0a0a0"/>
<circle cx="580.4" cy="396.9" r="1.95" fill="#a0a0a0"/>
<circle cx="582.3" cy="397.7" r="1.95" fill="#a0a0a0"/>
<circle cx="584.2" cy="395.4" r="1.95" fill="#a0a0a0"/>
<circle cx="580.8" cy="404" r="1.95" fill="#a0a0a0"/>
<circle cx="586.9" cy="402.7" r="1.95" fill="#a0a0a0"/>
<circle cx="588.8" cy="391.5" r="1.95" fill="#a0a0a0"/>
<circle cx="590" cy="402.7" r="1.95" fill="#a0a0a0"/>
<circle cx="591.3" cy="397.7" r="1.95" fill="#a0a0a0"/>
<circle cx="593.3" cy="393.8" r="1.95" fill="#a0a0a0"/>
<circle cx="595.2" cy="407.9" r="1.95" fill="#a0a0a0"/>
<circle cx="596.5" cy="397.7" r="1.95" fill="#a0a0a0"/>
<circle cx="598.1" cy="390" r="1.95" fill="#a0a0a0"/>
<circle cx="599.6" cy="396.3" r="1.95" fill="#a0a0a0"/>
<circle cx="601.5" cy="401.2" r="1.95" fill="#a0a0a0"/>
<circle cx="602.9" cy="411.7" r="1.95" fill="#a0a0a0"/>
<circle cx="604.2" cy="399.6" r="1.95" fill="#a0a0a0"/>
<circle cx="606.2" cy="397.7" r="1.95" fill="#a0a0a0"/>
<circle cx="607.3" cy="400.8" r="1.95" fill="#a0a0a0"/>
<circle cx="609.2" cy="399.2" r="1.95" fill="#a0a0a0"/>
<circle cx="610.6" cy="401.5" r="1.95" fill="#a0a0a0"/>
<circle cx="612.5" cy="396.3" r="1.95" fill="#a0a0a0"/>
<circle cx="614.4" cy="395" r="1.95" fill="#a0a0a0"/>
<circle cx="615.8" cy="397.7" r="1.95" fill="#a0a0a0"/>
<circle cx="617.3" cy="399.6" r="1.95" fill="#a0a0a0"/>
<circle cx="619.2" cy="401.5" r="1.95" fill="#a0a0a0"/>
<circle cx="621.2" cy="402.7" r="1.95" fill="#a0a0a0"/>
<circle cx="623.1" cy="408.5" r="1.95" fill="#a0a0a0"/>
<circle cx="624.6" cy="414.6" r="1.95" fill="#a0a0a0"/>
<circle cx="626.9" cy="415.6" r="1.95" fill="#a0a0a0"/>
<circle cx="629.2" cy="419.4" r="1.95" fill="#a0a0a0"/>
<circle cx="631.7" cy="420" r="1.95" fill="#a0a0a0"/>
<circle cx="633.7" cy="422.3" r="1.95" fill="#a0a0a0"/>
<circle cx="635.6" cy="423.3" r="1.95" fill="#a0a0a0"/>
<circle cx="637.5" cy="418.5" r="1.95" fill="#a0a0a0"/>
<circle cx="639.4" cy="414.6" r="1.95" fill="#a0a0a0"/>
<circle cx="641.3" cy="418.5" r="1.95" fill="#a0a0a0"/>
<circle cx="642.7" cy="419.4" r="1.95" fill="#a0a0a0"/>
<circle cx="644.2" cy="418.8" r="1.95" fill="#a0a0a0"/>
<circle cx="639.4" cy="420" r="1.95" fill="#a0a0a0"/>
<circle cx="505.7" cy="358" r="1.95" fill="#5c65ad"/>
<circle cx="506.9" cy="361" r="1.95" fill="#5c65ad"/>
<circle cx="503.3" cy="368.9" r="1.95" fill="#5c65ad"/>
<circle cx="500.3" cy="373.4" r="1.95" fill="#5c65ad"/>
<circle cx="501.5" cy="374.3" r="1.95" fill="#5c65ad"/>
<circle cx="496.7" cy="382.1" r="1.95" fill="#5c65ad"/>
<circle cx="495.5" cy="384.2" r="1.95" fill="#5c65ad"/>
<circle cx="498.5" cy="384.2" r="1.95" fill="#5c65ad"/>
<circle cx="489.1" cy="388.5" r="1.95" fill="#5c65ad"/>
<circle cx="490.7" cy="395.7" r="1.95" fill="#5c65ad"/>
<circle cx="492.2" cy="396.5" r="1.95" fill="#5c65ad"/>
<circle cx="479.9" cy="399.3" r="1.95" fill="#5c65ad"/>
<circle cx="473.2" cy="396.3" r="1.95" fill="#5c65ad"/>
<circle cx="493.7" cy="406.7" r="1.95" fill="#5c65ad"/>
<circle cx="487.7" cy="410.3" r="1.95" fill="#5c65ad"/>
<circle cx="461.2" cy="414.5" r="1.95" fill="#5c65ad"/>
<circle cx="463" cy="414.5" r="1.95" fill="#5c65ad"/>
<circle cx="475.7" cy="415.5" r="1.95" fill="#5c65ad"/>
<circle cx="483.5" cy="417" r="1.95" fill="#5c65ad"/>
<circle cx="470.2" cy="420" r="1.95" fill="#5c65ad"/>
<circle cx="467.2" cy="420.3" r="1.95" fill="#5c65ad"/>
<circle cx="456.7" cy="425.6" r="1.95" fill="#5c65ad"/>
<circle cx="460" cy="426.8" r="1.95" fill="#5c65ad"/>
<circle cx="465.4" cy="427.2" r="1.95" fill="#5c65ad"/>
<circle cx="469" cy="425.6" r="1.95" fill="#5c65ad"/>
<circle cx="481.7" cy="407.3" r="1.95" fill="#5c65ad"/>
<circle cx="502.3" cy="368.8" r="1.95" fill="#5c65ad"/>
<circle cx="501.5" cy="373.3" r="1.95" fill="#5c65ad"/>
<circle cx="505.8" cy="357.9" r="1.95" fill="#5c65ad"/>
<circle cx="507.3" cy="358.8" r="1.95" fill="#5c65ad"/>
<circle cx="508.1" cy="360.8" r="1.95" fill="#5c65ad"/>
<circle cx="511.2" cy="352.7" r="1.95" fill="#5c65ad"/>
<circle cx="513.5" cy="354.6" r="1.95" fill="#5c65ad"/>
<circle cx="515.8" cy="360.8" r="1.95" fill="#5c65ad"/>
<circle cx="518.3" cy="360.8" r="1.95" fill="#5c65ad"/>
<circle cx="517.3" cy="364.6" r="1.95" fill="#5c65ad"/>
<circle cx="520.2" cy="352.7" r="1.95" fill="#5c65ad"/>
<circle cx="522.1" cy="350.8" r="1.95" fill="#5c65ad"/>
<circle cx="525" cy="348.3" r="1.95" fill="#5c65ad"/>
<circle cx="527.9" cy="345" r="1.95" fill="#5c65ad"/>
<circle cx="526" cy="354.6" r="1.95" fill="#5c65ad"/>
<circle cx="523.5" cy="357.3" r="1.95" fill="#5c65ad"/>
<circle cx="529.8" cy="359.8" r="1.95" fill="#5c65ad"/>
<circle cx="531.2" cy="364.6" r="1.95" fill="#5c65ad"/>
<circle cx="532.7" cy="366.9" r="1.95" fill="#5c65ad"/>
<circle cx="534.2" cy="373.3" r="1.95" fill="#5c65ad"/>
<circle cx="537.5" cy="370.8" r="1.95" fill="#5c65ad"/>
<circle cx="538.8" cy="379.6" r="1.95" fill="#5c65ad"/>
<circle cx="535.6" cy="353.5" r="1.95" fill="#5c65ad"/>
<circle cx="540.4" cy="360.8" r="1.95" fill="#5c65ad"/>
<circle cx="541.9" cy="350.8" r="1.95" fill="#5c65ad"/>
<circle cx="543.8" cy="359.8" r="1.95" fill="#5c65ad"/>
<circle cx="545.2" cy="368.1" r="1.95" fill="#5c65ad"/>
<circle cx="547.1" cy="357.9" r="1.95" fill="#5c65ad"/>
<circle cx="549" cy="350.8" r="1.95" fill="#5c65ad"/>
<circle cx="550" cy="345.8" r="1.95" fill="#5c65ad"/>
<circle cx="551.9" cy="360.8" r="1.95" fill="#5c65ad"/>
<circle cx="552.9" cy="353.1" r="1.95" fill="#5c65ad"/>
<circle cx="555.4" cy="362.7" r="1.95" fill="#5c65ad"/>
<circle cx="556.7" cy="364.6" r="1.95" fill="#5c65ad"/>
<circle cx="557.7" cy="368.1" r="1.95" fill="#5c65ad"/>
<circle cx="559.2" cy="363.1" r="1.95" fill="#5c65ad"/>
<circle cx="561.2" cy="367.5" r="1.95" fill="#5c65ad"/>
<circle cx="563.5" cy="366.9" r="1.95" fill="#5c65ad"/>
<circle cx="564.4" cy="348.3" r="1.95" fill="#5c65ad"/>
<circle cx="565.8" cy="366.5" r="1.95" fill="#5c65ad"/>
<circle cx="566.9" cy="352.7" r="1.95" fill="#5c65ad"/>
<circle cx="568.8" cy="357.9" r="1.95" fill="#5c65ad"/>
<circle cx="570.2" cy="364.6" r="1.95" fill="#5c65ad"/>
<circle cx="571.5" cy="354.6" r="1.95" fill="#5c65ad"/>
<circle cx="574.6" cy="353.5" r="1.95" fill="#5c65ad"/>
<circle cx="573.1" cy="372.3" r="1.95" fill="#5c65ad"/>
<circle cx="576" cy="370.4" r="1.95" fill="#5c65ad"/>
<circle cx="577.9" cy="368.5" r="1.95" fill="#5c65ad"/>
<circle cx="578.8" cy="358.8" r="1.95" fill="#5c65ad"/>
<circle cx="575" cy="353.1" r="1.95" fill="#5c65ad"/>
<circle cx="582.7" cy="352.7" r="1.95" fill="#5c65ad"/>
<circle cx="584.2" cy="352.7" r="1.95" fill="#5c65ad"/>
<circle cx="588.8" cy="352.7" r="1.95" fill="#5c65ad"/>
<circle cx="591.9" cy="354.6" r="1.95" fill="#5c65ad"/>
<circle cx="593.3" cy="345.4" r="1.95" fill="#5c65ad"/>
<circle cx="581.2" cy="358.5" r="1.95" fill="#5c65ad"/>
<circle cx="585.6" cy="361.7" r="1.95" fill="#5c65ad"/>
<circle cx="577.9" cy="368.8" r="1.95" fill="#5c65ad"/>
<circle cx="579.2" cy="366.9" r="1.95" fill="#5c65ad"/>
<circle cx="586.9" cy="366.9" r="1.95" fill="#5c65ad"/>
<circle cx="590.4" cy="365" r="1.95" fill="#5c65ad"/>
<circle cx="595.2" cy="367.5" r="1.95" fill="#5c65ad"/>
<circle cx="596.5" cy="363.1" r="1.95" fill="#5c65ad"/>
<circle cx="598.1" cy="372.7" r="1.95" fill="#5c65ad"/>
<circle cx="600" cy="357.3" r="1.95" fill="#5c65ad"/>
<circle cx="601.5" cy="356.5" r="1.95" fill="#5c65ad"/>
<circle cx="602.9" cy="353.1" r="1.95" fill="#5c65ad"/>
<circle cx="604.2" cy="366.9" r="1.95" fill="#5c65ad"/>
<circle cx="605.8" cy="349.2" r="1.95" fill="#5c65ad"/>
<circle cx="607.3" cy="357.3" r="1.95" fill="#5c65ad"/>
<circle cx="609.2" cy="354" r="1.95" fill="#5c65ad"/>
<circle cx="610.6" cy="371.9" r="1.95" fill="#5c65ad"/>
<circle cx="612.5" cy="352.1" r="1.95" fill="#5c65ad"/>
<circle cx="613.8" cy="357.3" r="1.95" fill="#5c65ad"/>
<circle cx="616.9" cy="352.1" r="1.95" fill="#5c65ad"/>
<circle cx="618.8" cy="353.1" r="1.95" fill="#5c65ad"/>
<circle cx="620.2" cy="353.5" r="1.95" fill="#5c65ad"/>
<circle cx="621.5" cy="363.7" r="1.95" fill="#5c65ad"/>
<circle cx="624.6" cy="372.7" r="1.95" fill="#5c65ad"/>
<circle cx="623.1" cy="377.1" r="1.95" fill="#5c65ad"/>
<circle cx="627.3" cy="379" r="1.95" fill="#5c65ad"/>
<circle cx="615" cy="385.4" r="1.95" fill="#5c65ad"/>
<circle cx="626" cy="391.2" r="1.95" fill="#5c65ad"/>
<circle cx="629.2" cy="388.7" r="1.95" fill="#5c65ad"/>
<circle cx="632.3" cy="392.5" r="1.95" fill="#5c65ad"/>
<circle cx="630.8" cy="398.3" r="1.95" fill="#5c65ad"/>
<circle cx="633.7" cy="403.5" r="1.95" fill="#5c65ad"/>
<circle cx="635.6" cy="403.5" r="1.95" fill="#5c65ad"/>
<circle cx="636.9" cy="416.5" r="1.95" fill="#5c65ad"/>
<circle cx="641.3" cy="414.2" r="1.95" fill="#5c65ad"/>
<circle cx="644.6" cy="421.3" r="1.95" fill="#5c65ad"/>
<circle cx="482.9" cy="351.4" r="1.95" fill="#7f5d83"/>
<circle cx="487.7" cy="359" r="1.95" fill="#7f5d83"/>
<circle cx="492.5" cy="356.2" r="1.95" fill="#7f5d83"/>
<circle cx="486.2" cy="365.9" r="1.95" fill="#7f5d83"/>
<circle cx="489.5" cy="369.8" r="1.95" fill="#7f5d83"/>
<circle cx="495.5" cy="367.4" r="1.95" fill="#7f5d83"/>
<circle cx="493.7" cy="371" r="1.95" fill="#7f5d83"/>
<circle cx="490.7" cy="376.1" r="1.95" fill="#7f5d83"/>
<circle cx="484.7" cy="379.1" r="1.95" fill="#7f5d83"/>
<circle cx="498.5" cy="345.4" r="1.95" fill="#7f5d83"/>
<circle cx="504.5" cy="343" r="1.95" fill="#7f5d83"/>
<circle cx="500.3" cy="340.6" r="1.95" fill="#7f5d83"/>
<circle cx="472" cy="392.9" r="1.95" fill="#7f5d83"/>
<circle cx="479.9" cy="391.9" r="1.95" fill="#7f5d83"/>
<circle cx="458.2" cy="404.7" r="1.95" fill="#7f5d83"/>
<circle cx="470.5" cy="400.7" r="1.95" fill="#7f5d83"/>
<circle cx="475.4" cy="404.3" r="1.95" fill="#7f5d83"/>
<circle cx="478.3" cy="402.5" r="1.95" fill="#7f5d83"/>
<circle cx="460" cy="409.1" r="1.95" fill="#7f5d83"/>
<circle cx="463" cy="408.3" r="1.95" fill="#7f5d83"/>
<circle cx="465.8" cy="406.1" r="1.95" fill="#7f5d83"/>
<circle cx="469" cy="407.9" r="1.95" fill="#7f5d83"/>
<circle cx="467.2" cy="409.7" r="1.95" fill="#7f5d83"/>
<circle cx="456.4" cy="413.9" r="1.95" fill="#7f5d83"/>
<circle cx="476.9" cy="409.7" r="1.95" fill="#7f5d83"/>
<circle cx="473.5" cy="421.5" r="1.95" fill="#7f5d83"/>
<circle cx="501.5" cy="312.7" r="1.95" fill="#7f5d83"/>
<circle cx="502.9" cy="306.9" r="1.95" fill="#7f5d83"/>
<circle cx="507.7" cy="303.5" r="1.95" fill="#7f5d83"/>
<circle cx="511.2" cy="298.7" r="1.95" fill="#7f5d83"/>
<circle cx="512.5" cy="306" r="1.95" fill="#7f5d83"/>
<circle cx="516.3" cy="303.5" r="1.95" fill="#7f5d83"/>
<circle cx="517.7" cy="303.5" r="1.95" fill="#7f5d83"/>
<circle cx="520.2" cy="312.3" r="1.95" fill="#7f5d83"/>
<circle cx="522.1" cy="303.5" r="1.95" fill="#7f5d83"/>
<circle cx="525" cy="298.7" r="1.95" fill="#7f5d83"/>
<circle cx="527.9" cy="303.5" r="1.95" fill="#7f5d83"/>
<circle cx="529.8" cy="310.4" r="1.95" fill="#7f5d83"/>
<circle cx="524" cy="318.1" r="1.95" fill="#7f5d83"/>
<circle cx="526.9" cy="319.4" r="1.95" fill="#7f5d83"/>
<circle cx="513.8" cy="320.4" r="1.95" fill="#7f5d83"/>
<circle cx="518.8" cy="323.3" r="1.95" fill="#7f5d83"/>
<circle cx="531.2" cy="321.3" r="1.95" fill="#7f5d83"/>
<circle cx="533.1" cy="320.4" r="1.95" fill="#7f5d83"/>
<circle cx="532.7" cy="323.8" r="1.95" fill="#7f5d83"/>
<circle cx="537.5" cy="320.8" r="1.95" fill="#7f5d83"/>
<circle cx="540.4" cy="293.8" r="1.95" fill="#7f5d83"/>
<circle cx="539.4" cy="312.7" r="1.95" fill="#7f5d83"/>
<circle cx="542.3" cy="306.9" r="1.95" fill="#7f5d83"/>
<circle cx="543.8" cy="310.4" r="1.95" fill="#7f5d83"/>
<circle cx="545.8" cy="306" r="1.95" fill="#7f5d83"/>
<circle cx="547.1" cy="303.5" r="1.95" fill="#7f5d83"/>
<circle cx="551.5" cy="318.5" r="1.95" fill="#7f5d83"/>
<circle cx="554.8" cy="323.3" r="1.95" fill="#7f5d83"/>
<circle cx="552.9" cy="308.5" r="1.95" fill="#7f5d83"/>
<circle cx="556.2" cy="298.7" r="1.95" fill="#7f5d83"/>
<circle cx="557.7" cy="303.5" r="1.95" fill="#7f5d83"/>
<circle cx="560" cy="303.5" r="1.95" fill="#7f5d83"/>
<circle cx="561.2" cy="288.7" r="1.95" fill="#7f5d83"/>
<circle cx="562.5" cy="306" r="1.95" fill="#7f5d83"/>
<circle cx="565.4" cy="298.7" r="1.95" fill="#7f5d83"/>
<circle cx="566.9" cy="303.5" r="1.95" fill="#7f5d83"/>
<circle cx="569.2" cy="305" r="1.95" fill="#7f5d83"/>
<circle cx="568.3" cy="314.6" r="1.95" fill="#7f5d83"/>
<circle cx="573.1" cy="313.1" r="1.95" fill="#7f5d83"/>
<circle cx="571.5" cy="321.3" r="1.95" fill="#7f5d83"/>
<circle cx="574.6" cy="306" r="1.95" fill="#7f5d83"/>
<circle cx="576.5" cy="296.9" r="1.95" fill="#7f5d83"/>
<circle cx="506.2" cy="330" r="1.95" fill="#7f5d83"/>
<circle cx="504.8" cy="342.5" r="1.95" fill="#7f5d83"/>
<circle cx="509.2" cy="348.8" r="1.95" fill="#7f5d83"/>
<circle cx="535.6" cy="334.4" r="1.95" fill="#7f5d83"/>
<circle cx="548.1" cy="332.9" r="1.95" fill="#7f5d83"/>
<circle cx="550" cy="331" r="1.95" fill="#7f5d83"/>
<circle cx="577.9" cy="287.7" r="1.95" fill="#7f5d83"/>
<circle cx="579.2" cy="294.4" r="1.95" fill="#7f5d83"/>
<circle cx="576" cy="306" r="1.95" fill="#7f5d83"/>
<circle cx="581.2" cy="301.5" r="1.95" fill="#7f5d83"/>
<circle cx="583.7" cy="298.8" r="1.95" fill="#7f5d83"/>
<circle cx="585.6" cy="297.7" r="1.95" fill="#7f5d83"/>
<circle cx="587.5" cy="293.5" r="1.95" fill="#7f5d83"/>
<circle cx="591.9" cy="294.4" r="1.95" fill="#7f5d83"/>
<circle cx="596.5" cy="291.2" r="1.95" fill="#7f5d83"/>
<circle cx="590.4" cy="307.3" r="1.95" fill="#7f5d83"/>
<circle cx="593.3" cy="306.5" r="1.95" fill="#7f5d83"/>
<circle cx="588.8" cy="314.2" r="1.95" fill="#7f5d83"/>
<circle cx="595.2" cy="311.7" r="1.95" fill="#7f5d83"/>
<circle cx="598.1" cy="315.6" r="1.95" fill="#7f5d83"/>
<circle cx="582.7" cy="319.4" r="1.95" fill="#7f5d83"/>
<circle cx="599.6" cy="300.2" r="1.95" fill="#7f5d83"/>
<circle cx="601.5" cy="298.8" r="1.95" fill="#7f5d83"/>
<circle cx="602.9" cy="302.7" r="1.95" fill="#7f5d83"/>
<circle cx="604.8" cy="304.6" r="1.95" fill="#7f5d83"/>
<circle cx="606.7" cy="304" r="1.95" fill="#7f5d83"/>
<circle cx="609.2" cy="303.5" r="1.95" fill="#7f5d83"/>
<circle cx="604.2" cy="293.8" r="1.95" fill="#7f5d83"/>
<circle cx="607.3" cy="295.4" r="1.95" fill="#7f5d83"/>
<circle cx="610.6" cy="315.6" r="1.95" fill="#7f5d83"/>
<circle cx="613.5" cy="310.8" r="1.95" fill="#7f5d83"/>
<circle cx="615" cy="320.4" r="1.95" fill="#7f5d83"/>
<circle cx="621.2" cy="314.6" r="1.95" fill="#7f5d83"/>
<circle cx="620.2" cy="323.8" r="1.95" fill="#7f5d83"/>
<circle cx="618.3" cy="328.5" r="1.95" fill="#7f5d83"/>
<circle cx="611.9" cy="330.4" r="1.95" fill="#7f5d83"/>
<circle cx="616.3" cy="332.3" r="1.95" fill="#7f5d83"/>
<circle cx="622.7" cy="333.5" r="1.95" fill="#7f5d83"/>
<circle cx="624.6" cy="332.9" r="1.95" fill="#7f5d83"/>
<circle cx="626" cy="337.3" r="1.95" fill="#7f5d83"/>
<circle cx="627.3" cy="350.8" r="1.95" fill="#7f5d83"/>
<circle cx="630.8" cy="359.8" r="1.95" fill="#7f5d83"/>
<circle cx="633.7" cy="366.9" r="1.95" fill="#7f5d83"/>
<circle cx="629.2" cy="370.4" r="1.95" fill="#7f5d83"/>
<circle cx="636.9" cy="378.5" r="1.95" fill="#7f5d83"/>
<circle cx="635.6" cy="380.4" r="1.95" fill="#7f5d83"/>
<circle cx="632.3" cy="386.7" r="1.95" fill="#7f5d83"/>
<circle cx="638.5" cy="386.2" r="1.95" fill="#7f5d83"/>
<circle cx="641.3" cy="391.2" r="1.95" fill="#7f5d83"/>
<circle cx="643.3" cy="391.9" r="1.95" fill="#7f5d83"/>
<circle cx="640" cy="395.8" r="1.95" fill="#7f5d83"/>
<circle cx="644.6" cy="402.1" r="1.95" fill="#7f5d83"/>
<circle cx="509.5" cy="298.8" r="1.95" fill="#7f5d83"/>
<circle cx="507.9" cy="303.5" r="1.95" fill="#7f5d83"/>
<circle cx="503.2" cy="306.6" r="1.95" fill="#7f5d83"/>
<circle cx="501.9" cy="312.5" r="1.95" fill="#7f5d83"/>
<circle cx="497.2" cy="332.6" r="1.95" fill="#7f5d83"/>
<circle cx="506.3" cy="330.2" r="1.95" fill="#7f5d83"/>
<circle cx="500.1" cy="340.4" r="1.95" fill="#7f5d83"/>
<circle cx="458.7" cy="286.8" r="1.95" fill="#5c65ad"/>
<text x="467" y="287.21" font-size="9.9" font-weight="bold" fill="#000" text-anchor="start" font-family="'Liberation Serif', serif" dominant-baseline="central">FMX783</text>
<circle cx="458.7" cy="297.8" r="1.95" fill="#7f5d83"/>
<text x="467" y="298.21" font-size="9.9" font-weight="bold" fill="#000" text-anchor="start" font-family="'Liberation Serif', serif" dominant-baseline="central">FMX892</text>
<circle cx="458.7" cy="308.6" r="1.95" fill="#a0a0a0"/>
<text x="467" y="309.01" font-size="9.9" font-weight="bold" fill="#000" text-anchor="start" font-family="'Liberation Serif', serif" dominant-baseline="central">WT</text>
<text x="1" y="535.24" font-size="10.6" font-weight="bold" fill="#000" text-anchor="start" font-family="'Liberation Serif', serif" dominant-baseline="central">e</text>
<path d="M62.5 648.4 L62.5 648.4 L63 647.91 L63.5 647.02 L64 647.27 L64.5 645.82 L65 646.09 L65.5 644.5 L66 643.36 L66.5 644.61 L67 643.95 L67.5 642.95 L68 641.38 L68.5 643.32 L69 641.79 L69.5 639.67 L70 642 L70.5 638.91 L71 640.18 L71.5 643.9 L72 639.11 L72.5 638.28 L73 637.7 L73.5 635.43 L74 638.82 L74.5 636.73 L75 636.18 L75.5 631.51 L76 634.81 L76.5 634.33 L77 633.05 L77.5 633.88 L78 632.39 L78.5 633.19 L79 631.37 L79.5 632.96 L80 634.13 L80.5 632.46 L81 631.95 L81.5 633.55 L82 629.31 L82.5 629.99 L83 630.99 L83.5 633.42 L84 631.81 L84.5 628.26 L85 625.66 L85.5 625.96 L86 626.12 L86.5 621.6 L87 627.59 L87.5 626.59 L88 624.36 L88.5 625.61 L89 623.08 L89.5 625.34 L90 623.02 L90.5 621.13 L91 621.16 L91.5 622.3 L92 625.03 L92.5 619.52 L93 619.49 L93.5 621.57 L94 620.27 L94.5 617.66 L95 617.33 L95.5 619.94 L96 617.22 L96.5 614.94 L97 618.88 L97.5 621.37 L98 611.18 L98.5 613.81 L99 613.84 L99.5 609.99 L100 607.1 L100.5 612.18 L101 607.48 L101.5 610.27 L102 604.17 L102.5 610.62 L103 602.33 L103.5 611.81 L104 603.15 L104.5 607.97 L105 601.91 L105.5 598.01 L106 600.91 L106.5 605.4 L107 597.79 L107.5 597.34 L108 594.71 L108.5 602.35 L109 598.17 L109.5 595.33 L110 592.1 L110.5 594.64 L111 593.55 L111.5 591.62 L112 590.93 L112.5 580.36 L113 587.51 L113.5 584.08 L114 584.42 L114.5 581.14 L115 573.79 L115.5 576.76 L116 574.92 L116.5 567.04 L117 557.79 L117.5 561.97 L118 563.92 L118.5 557.65 L119 555.57 L119.5 561.22 L120 554.45 L120.5 559.34 L121 540 L121 552.74 L121.5 549.28 L122 546.59 L122.5 553.81 L123 541 L123 545.36 L123.5 550.71 L124 547.36 L124.5 541.92 L125 538.5 L125 540.61 L125.5 549.31 L126 550.48 L126.5 548.61 L127 547.32 L127.5 549.02 L128 546.64 L128.5 546.43 L129 552.57 L129.5 553.06 L130 551.68 L130.5 557.65 L131 552.48 L131.5 557.91 L132 546.92 L132.5 559.51 L133 565.23 L133.5 560.39 L134 560.19 L134.5 569.62 L135 565.92 L135.5 574.56 L136 563.59 L136.5 565.24 L137 567.04 L137.5 580.17 L138 577.81 L138.5 576.86 L139 575.61 L139.5 577.11 L140 571.9 L140.5 569.34 L141 579.88 L141.5 578.46 L142 584.48 L142.5 580.46 L143 573.05 L143.5 580.33 L144 568.14 L144.5 577.86 L145 571.29 L145.5 566.6 L146 564.83 L146.5 566.43 L147 569.5 L147.5 561.05 L148 569.61 L148.5 577.76 L149 567.31 L149.5 572.61 L150 572.84 L150.5 567.33 L151 571.73 L151.5 573.65 L152 570.71 L152.5 574.32 L153 580.53 L153.5 575.22 L154 576.78 L154.5 576.71 L155 580.7 L155.5 580.18 L156 586.94 L156.5 589.27 L157 592.32 L157.5 586.72 L158 593.93 L158.5 597.54 L159 603.85 L159.5 599.82 L160 605.09 L160.5 610.64 L161 606.74 L161.5 605.67 L162 608.98 L162.5 613.41 L163 613.93 L163.5 618.63 L164 618.9 L164.5 621.53 L165 621.91 L165.5 620.57 L166 625.18 L166.5 629.29 L167 628.71 L167.5 630.18 L168 631.69 L168.5 635.92 L169 633.16 L169.5 632.06 L170 636.53 L170.5 635.43 L171 636.62 L171.5 639.56 L172 639.5 L172.5 640.58 L173 642.67 L173.5 645.13 L174 643.93 L174.5 645.25 L175 644.35 L175.5 643.95 L176 646.6 L176.5 647.92 L177 646.98 L177.5 646.75 L178 648.11 L178.5 647.67 L179 647.81 L179.5 647.95 L180 648.08 L180.5 648.22 L180.8 648.4 Z" fill="#57ff74" stroke="#3cd23e" stroke-width="0.55" stroke-linejoin="miter"/>
<line x1="53.4" y1="538.3" x2="187" y2="538.3" stroke="#333" stroke-width="0.9"/>
<line x1="187" y1="538.3" x2="187" y2="648.4" stroke="#333" stroke-width="0.9"/>
<line x1="53.4" y1="538" x2="53.4" y2="648.9" stroke="#8a8a8a" stroke-width="1.1"/>
<line x1="50.9" y1="648.4" x2="187" y2="648.4" stroke="#333" stroke-width="0.9"/>
<line x1="58.1" y1="538.3" x2="58.1" y2="648.4" stroke="#000" stroke-width="0.85" stroke-opacity="0.42"/>
<line x1="114" y1="538.3" x2="114" y2="648.4" stroke="#000" stroke-width="0.85" stroke-opacity="0.42"/>
<line x1="141.9" y1="538.3" x2="141.9" y2="648.4" stroke="#000" stroke-width="0.85" stroke-opacity="0.42"/>
<line x1="185.6" y1="538.3" x2="185.6" y2="648.4" stroke="#000" stroke-width="0.85" stroke-opacity="0.42"/>
<line x1="58.1" y1="592" x2="114" y2="592" stroke="#000" stroke-width="0.85" stroke-opacity="0.38"/>
<line x1="114" y1="586.5" x2="141.9" y2="586.5" stroke="#000" stroke-width="0.9" stroke-opacity="0.82"/>
<line x1="141.9" y1="644.3" x2="185.6" y2="644.3" stroke="#000" stroke-width="0.9" stroke-opacity="0.82"/>
<text x="78.8" y="552.98" font-size="6.2" font-weight="normal" fill="#222" text-anchor="middle" font-family="'Liberation Sans', sans-serif" dominant-baseline="central">1N</text>
<text x="132.8" y="547.68" font-size="6.2" font-weight="normal" fill="#222" text-anchor="middle" font-family="'Liberation Sans', sans-serif" dominant-baseline="central">2N</text>
<text x="170.2" y="547.68" font-size="6.2" font-weight="normal" fill="#222" text-anchor="middle" font-family="'Liberation Sans', sans-serif" dominant-baseline="central">4N</text>
<line x1="48.8" y1="648.4" x2="53.4" y2="648.4" stroke="#333" stroke-width="0.7"/>
<text x="46.56" y="648.4" font-size="5.4" font-weight="normal" fill="#222" text-anchor="middle" font-family="'Liberation Sans', sans-serif" dominant-baseline="central" transform="rotate(-90 46.56 648.4)">0</text>
<line x1="51.4" y1="645.18" x2="53.4" y2="645.18" stroke="#333" stroke-width="0.6"/>
<line x1="51.4" y1="641.96" x2="53.4" y2="641.96" stroke="#333" stroke-width="0.6"/>
<line x1="51.4" y1="638.74" x2="53.4" y2="638.74" stroke="#333" stroke-width="0.6"/>
<line x1="51.4" y1="635.52" x2="53.4" y2="635.52" stroke="#333" stroke-width="0.6"/>
<line x1="48.8" y1="632.3" x2="53.4" y2="632.3" stroke="#333" stroke-width="0.7"/>
<text x="46.56" y="632.3" font-size="5.4" font-weight="normal" fill="#222" text-anchor="middle" font-family="'Liberation Sans', sans-serif" dominant-baseline="central" transform="rotate(-90 46.56 632.3)">50</text>
<line x1="51.4" y1="629.08" x2="53.4" y2="629.08" stroke="#333" stroke-width="0.6"/>
<line x1="51.4" y1="625.86" x2="53.4" y2="625.86" stroke="#333" stroke-width="0.6"/>
<line x1="51.4" y1="622.64" x2="53.4" y2="622.64" stroke="#333" stroke-width="0.6"/>
<line x1="51.4" y1="619.42" x2="53.4" y2="619.42" stroke="#333" stroke-width="0.6"/>
<line x1="48.8" y1="616.2" x2="53.4" y2="616.2" stroke="#333" stroke-width="0.7"/>
<text x="46.56" y="616.2" font-size="5.4" font-weight="normal" fill="#222" text-anchor="middle" font-family="'Liberation Sans', sans-serif" dominant-baseline="central" transform="rotate(-90 46.56 616.2)">100</text>
<line x1="51.4" y1="612.98" x2="53.4" y2="612.98" stroke="#333" stroke-width="0.6"/>
<line x1="51.4" y1="609.76" x2="53.4" y2="609.76" stroke="#333" stroke-width="0.6"/>
<line x1="51.4" y1="606.54" x2="53.4" y2="606.54" stroke="#333" stroke-width="0.6"/>
<line x1="51.4" y1="603.32" x2="53.4" y2="603.32" stroke="#333" stroke-width="0.6"/>
<line x1="48.8" y1="600.1" x2="53.4" y2="600.1" stroke="#333" stroke-width="0.7"/>
<text x="46.56" y="600.1" font-size="5.4" font-weight="normal" fill="#222" text-anchor="middle" font-family="'Liberation Sans', sans-serif" dominant-baseline="central" transform="rotate(-90 46.56 600.1)">150</text>
<line x1="51.4" y1="596.88" x2="53.4" y2="596.88" stroke="#333" stroke-width="0.6"/>
<line x1="51.4" y1="593.66" x2="53.4" y2="593.66" stroke="#333" stroke-width="0.6"/>
<line x1="51.4" y1="590.44" x2="53.4" y2="590.44" stroke="#333" stroke-width="0.6"/>
<line x1="51.4" y1="587.22" x2="53.4" y2="587.22" stroke="#333" stroke-width="0.6"/>
<line x1="48.8" y1="584" x2="53.4" y2="584" stroke="#333" stroke-width="0.7"/>
<text x="46.56" y="584" font-size="5.4" font-weight="normal" fill="#222" text-anchor="middle" font-family="'Liberation Sans', sans-serif" dominant-baseline="central" transform="rotate(-90 46.56 584)">200</text>
<line x1="51.4" y1="580.78" x2="53.4" y2="580.78" stroke="#333" stroke-width="0.6"/>
<line x1="51.4" y1="577.56" x2="53.4" y2="577.56" stroke="#333" stroke-width="0.6"/>
<line x1="51.4" y1="574.34" x2="53.4" y2="574.34" stroke="#333" stroke-width="0.6"/>
<line x1="51.4" y1="571.12" x2="53.4" y2="571.12" stroke="#333" stroke-width="0.6"/>
<line x1="48.8" y1="567.9" x2="53.4" y2="567.9" stroke="#333" stroke-width="0.7"/>
<text x="46.56" y="567.9" font-size="5.4" font-weight="normal" fill="#222" text-anchor="middle" font-family="'Liberation Sans', sans-serif" dominant-baseline="central" transform="rotate(-90 46.56 567.9)">250</text>
<line x1="51.4" y1="564.68" x2="53.4" y2="564.68" stroke="#333" stroke-width="0.6"/>
<line x1="51.4" y1="561.46" x2="53.4" y2="561.46" stroke="#333" stroke-width="0.6"/>
<line x1="51.4" y1="558.24" x2="53.4" y2="558.24" stroke="#333" stroke-width="0.6"/>
<line x1="51.4" y1="555.02" x2="53.4" y2="555.02" stroke="#333" stroke-width="0.6"/>
<line x1="48.8" y1="551.8" x2="53.4" y2="551.8" stroke="#333" stroke-width="0.7"/>
<text x="46.56" y="551.8" font-size="5.4" font-weight="normal" fill="#222" text-anchor="middle" font-family="'Liberation Sans', sans-serif" dominant-baseline="central" transform="rotate(-90 46.56 551.8)">300</text>
<line x1="51.4" y1="548.58" x2="53.4" y2="548.58" stroke="#333" stroke-width="0.6"/>
<line x1="51.4" y1="545.36" x2="53.4" y2="545.36" stroke="#333" stroke-width="0.6"/>
<line x1="51.4" y1="542.14" x2="53.4" y2="542.14" stroke="#333" stroke-width="0.6"/>
<line x1="51.4" y1="538.92" x2="53.4" y2="538.92" stroke="#333" stroke-width="0.6"/>
<text x="38.74" y="591.5" font-size="6.6" font-weight="normal" fill="#222" text-anchor="middle" font-family="'Liberation Sans', sans-serif" dominant-baseline="central" transform="rotate(-90 38.74 591.5)">Count</text>
<text x="52.7" y="661.97" font-size="5.3" font-weight="normal" fill="#222" text-anchor="middle" font-family="'Liberation Sans', sans-serif" dominant-baseline="central">-3,178</text>
<text x="73.5" y="658.1" font-size="5.6" font-family="'Liberation Sans', sans-serif" fill="#222" text-anchor="middle" dominant-baseline="central">-10<tspan font-size="4" dy="-2.2">2</tspan></text>
<text x="89.9" y="657.57" font-size="5.3" font-weight="normal" fill="#222" text-anchor="middle" font-family="'Liberation Sans', sans-serif" dominant-baseline="central">0</text>
<text x="105.9" y="658.1" font-size="5.6" font-family="'Liberation Sans', sans-serif" fill="#222" text-anchor="middle" dominant-baseline="central">10<tspan font-size="4" dy="-2.2">3</tspan></text>
<text x="146.8" y="658.1" font-size="5.6" font-family="'Liberation Sans', sans-serif" fill="#222" text-anchor="middle" dominant-baseline="central">10<tspan font-size="4" dy="-2.2">4</tspan></text>
<text x="181.2" y="658.1" font-size="5.6" font-family="'Liberation Sans', sans-serif" fill="#222" text-anchor="middle" dominant-baseline="central">10<tspan font-size="4" dy="-2.2">5</tspan></text>
<line x1="78" y1="648.4" x2="78" y2="651.6" stroke="#2a2a2a" stroke-width="0.7"/>
<line x1="88.36" y1="648.4" x2="88.36" y2="650.6" stroke="#2a2a2a" stroke-width="0.7"/>
<line x1="94.41" y1="648.4" x2="94.41" y2="650.6" stroke="#2a2a2a" stroke-width="0.7"/>
<line x1="98.71" y1="648.4" x2="98.71" y2="650.6" stroke="#2a2a2a" stroke-width="0.7"/>
<line x1="102.04" y1="648.4" x2="102.04" y2="650.6" stroke="#2a2a2a" stroke-width="0.7"/>
<line x1="104.77" y1="648.4" x2="104.77" y2="650.6" stroke="#2a2a2a" stroke-width="0.7"/>
<line x1="107.07" y1="648.4" x2="107.07" y2="650.6" stroke="#2a2a2a" stroke-width="0.7"/>
<line x1="109.07" y1="648.4" x2="109.07" y2="650.6" stroke="#2a2a2a" stroke-width="0.7"/>
<line x1="110.83" y1="648.4" x2="110.83" y2="650.6" stroke="#2a2a2a" stroke-width="0.7"/>
<line x1="112.4" y1="648.4" x2="112.4" y2="651.6" stroke="#2a2a2a" stroke-width="0.7"/>
<line x1="122.76" y1="648.4" x2="122.76" y2="650.6" stroke="#2a2a2a" stroke-width="0.7"/>
<line x1="128.81" y1="648.4" x2="128.81" y2="650.6" stroke="#2a2a2a" stroke-width="0.7"/>
<line x1="133.11" y1="648.4" x2="133.11" y2="650.6" stroke="#2a2a2a" stroke-width="0.7"/>
<line x1="136.44" y1="648.4" x2="136.44" y2="650.6" stroke="#2a2a2a" stroke-width="0.7"/>
<line x1="139.17" y1="648.4" x2="139.17" y2="650.6" stroke="#2a2a2a" stroke-width="0.7"/>
<line x1="141.47" y1="648.4" x2="141.47" y2="650.6" stroke="#2a2a2a" stroke-width="0.7"/>
<line x1="143.47" y1="648.4" x2="143.47" y2="650.6" stroke="#2a2a2a" stroke-width="0.7"/>
<line x1="145.23" y1="648.4" x2="145.23" y2="650.6" stroke="#2a2a2a" stroke-width="0.7"/>
<line x1="146.8" y1="648.4" x2="146.8" y2="651.6" stroke="#2a2a2a" stroke-width="0.7"/>
<line x1="157.16" y1="648.4" x2="157.16" y2="650.6" stroke="#2a2a2a" stroke-width="0.7"/>
<line x1="163.21" y1="648.4" x2="163.21" y2="650.6" stroke="#2a2a2a" stroke-width="0.7"/>
<line x1="167.51" y1="648.4" x2="167.51" y2="650.6" stroke="#2a2a2a" stroke-width="0.7"/>
<line x1="170.84" y1="648.4" x2="170.84" y2="650.6" stroke="#2a2a2a" stroke-width="0.7"/>
<line x1="173.57" y1="648.4" x2="173.57" y2="650.6" stroke="#2a2a2a" stroke-width="0.7"/>
<line x1="175.87" y1="648.4" x2="175.87" y2="650.6" stroke="#2a2a2a" stroke-width="0.7"/>
<line x1="177.87" y1="648.4" x2="177.87" y2="650.6" stroke="#2a2a2a" stroke-width="0.7"/>
<line x1="179.63" y1="648.4" x2="179.63" y2="650.6" stroke="#2a2a2a" stroke-width="0.7"/>
<line x1="181.2" y1="648.4" x2="181.2" y2="651.6" stroke="#2a2a2a" stroke-width="0.7"/>
<line x1="73.8" y1="648.4" x2="73.8" y2="651.4" stroke="#2a2a2a" stroke-width="0.7"/>
<line x1="75.3" y1="648.4" x2="75.3" y2="650.6" stroke="#2a2a2a" stroke-width="0.7"/>
<line x1="76.8" y1="648.4" x2="76.8" y2="650.6" stroke="#2a2a2a" stroke-width="0.7"/>
<line x1="78.3" y1="648.4" x2="78.3" y2="650.6" stroke="#2a2a2a" stroke-width="0.7"/>
<line x1="79.8" y1="648.4" x2="79.8" y2="650.6" stroke="#2a2a2a" stroke-width="0.7"/>
<line x1="81.3" y1="648.4" x2="81.3" y2="651.4" stroke="#2a2a2a" stroke-width="0.7"/>
<line x1="82.8" y1="648.4" x2="82.8" y2="650.6" stroke="#2a2a2a" stroke-width="0.7"/>
<line x1="84.3" y1="648.4" x2="84.3" y2="650.6" stroke="#2a2a2a" stroke-width="0.7"/>
<line x1="85.8" y1="648.4" x2="85.8" y2="650.6" stroke="#2a2a2a" stroke-width="0.7"/>
<line x1="87.3" y1="648.4" x2="87.3" y2="650.6" stroke="#2a2a2a" stroke-width="0.7"/>
<line x1="88.8" y1="648.4" x2="88.8" y2="651.4" stroke="#2a2a2a" stroke-width="0.7"/>
<line x1="90.3" y1="648.4" x2="90.3" y2="650.6" stroke="#2a2a2a" stroke-width="0.7"/>
<line x1="91.8" y1="648.4" x2="91.8" y2="650.6" stroke="#2a2a2a" stroke-width="0.7"/>
<line x1="93.3" y1="648.4" x2="93.3" y2="650.6" stroke="#2a2a2a" stroke-width="0.7"/>
<line x1="94.8" y1="648.4" x2="94.8" y2="650.6" stroke="#2a2a2a" stroke-width="0.7"/>
<line x1="96.3" y1="648.4" x2="96.3" y2="651.4" stroke="#2a2a2a" stroke-width="0.7"/>
<line x1="97.8" y1="648.4" x2="97.8" y2="650.6" stroke="#2a2a2a" stroke-width="0.7"/>
<line x1="99.3" y1="648.4" x2="99.3" y2="650.6" stroke="#2a2a2a" stroke-width="0.7"/>
<line x1="100.8" y1="648.4" x2="100.8" y2="650.6" stroke="#2a2a2a" stroke-width="0.7"/>
<line x1="102.3" y1="648.4" x2="102.3" y2="650.6" stroke="#2a2a2a" stroke-width="0.7"/>
<line x1="103.8" y1="648.4" x2="103.8" y2="651.4" stroke="#2a2a2a" stroke-width="0.7"/>
<line x1="105.3" y1="648.4" x2="105.3" y2="650.6" stroke="#2a2a2a" stroke-width="0.7"/>
<line x1="106.8" y1="648.4" x2="106.8" y2="650.6" stroke="#2a2a2a" stroke-width="0.7"/>
<text x="120.5" y="663.04" font-size="6.6" font-weight="normal" fill="#222" text-anchor="middle" font-family="'Liberation Sans', sans-serif" dominant-baseline="central">DAPI-A</text>
<text x="121.2" y="673.96" font-size="9.4" font-weight="bold" fill="#000" text-anchor="middle" font-family="'Liberation Serif', serif" dominant-baseline="central">WT</text>
<path d="M226 648.7 L226 648.7 L226.5 647.98 L227 645.89 L227.5 646.8 L228 645.17 L228.5 643.35 L229 642.12 L229.5 641.85 L230 640.43 L230.5 639.15 L231 638.85 L231.5 636.65 L232 631.53 L232.5 634.07 L233 630.46 L233.5 630.05 L234 629.67 L234.5 624.6 L235 624.55 L235.5 627.19 L236 619.77 L236.5 620.13 L237 617.47 L237.5 614.83 L238 615.03 L238.5 619.66 L239 613.93 L239.5 607.19 L240 606.15 L240.5 604.13 L241 604.24 L241.5 605.69 L242 602.79 L242.5 595.64 L243 600.17 L243.5 599.86 L244 597.62 L244.5 588.2 L245 598.46 L245.5 601.9 L246 593.95 L246.5 594.74 L247 590.69 L247.5 595.03 L248 595.35 L248.5 588.52 L249 594.87 L249.5 588.91 L250 589.68 L250.5 600.2 L251 590.86 L251.5 597.02 L252 596.29 L252.5 589.27 L253 593.52 L253.5 586.83 L254 588.44 L254.5 591.45 L255 601.86 L255.5 592.72 L256 591.76 L256.5 590.19 L257 589.8 L257.5 589.32 L258 587.21 L258.5 588.89 L259 591.78 L259.5 588.28 L260 590.19 L260.5 591.74 L261 588.87 L261.5 592.75 L262 588.1 L262.5 589.25 L263 595.57 L263.5 583.86 L264 592.48 L264.5 587.32 L265 589.56 L265.5 591.45 L266 589.72 L266.5 593.93 L267 592.69 L267.5 590.67 L268 593.1 L268.5 589.78 L269 592.39 L269.5 598.72 L270 586.58 L270.5 591.94 L271 587.82 L271.5 598.11 L272 587.58 L272.5 588.34 L273 593.34 L273.5 592.26 L274 595.14 L274.5 593.03 L275 586.34 L275.5 590.16 L276 588.13 L276.5 581.02 L277 585.72 L277.5 593.95 L278 590.81 L278.5 585.32 L279 580.75 L279.5 588.53 L280 582.92 L280.5 588.88 L281 583.78 L281.5 583.11 L282 596.93 L282.5 582.38 L283 586.88 L283.5 582.21 L284 592.08 L284.5 590.74 L285 581.38 L285.5 585.21 L286 584.55 L286.5 584.6 L287 590.01 L287.5 591.81 L288 587.85 L288.5 585.19 L289 587.92 L289.5 592.16 L290 591.63 L290.5 591.88 L291 589.54 L291.5 589.68 L292 588.28 L292.5 588.4 L293 593.91 L293.5 589.03 L294 590.63 L294.5 585.9 L295 592.21 L295.5 587.16 L296 595.7 L296.5 578.39 L297 584.78 L297.5 596.5 L298 590.44 L298.5 582.96 L299 586.71 L299.5 583.56 L300 585.09 L300.5 589.21 L301 581.57 L301.5 589.26 L302 590.19 L302.5 581.85 L303 586.74 L303.5 585.11 L304 582.64 L304.5 589.94 L305 581.27 L305.5 590.79 L306 589.67 L306.5 580.57 L307 583.12 L307.5 575.4 L308 591.33 L308.5 582.44 L309 585.69 L309.5 579.88 L310 581.88 L310.5 574.56 L311 566.35 L311.5 558.51 L312 569.5 L312.5 568.24 L313 561.91 L313.5 548.55 L314 554.98 L314.5 556.54 L315 559.13 L315.5 546.95 L316 548.13 L316.5 545.47 L317 542.27 L317.5 538.7 L318 553.02 L318.5 538.3 L318.5 538.7 L319 547.69 L319.5 544.97 L320 544.66 L320.5 547.77 L321 550.7 L321.5 552.03 L322 560.1 L322.5 552.41 L323 561.07 L323.5 563.56 L324 571.91 L324.5 572.97 L325 570.79 L325.5 586.12 L326 591.3 L326.5 595.81 L327 600.54 L327.5 608.31 L328 604.14 L328.5 612.71 L329 608.12 L329.5 615.1 L330 618.95 L330.5 617.16 L331 623.16 L331.5 628.56 L332 625.29 L332.5 625.81 L333 629.05 L333.5 630.83 L334 635.62 L334.5 638.27 L335 640.15 L335.5 638.02 L336 639.91 L336.5 641.52 L337 639.44 L337.5 640.86 L338 644.64 L338.5 642.75 L339 642.02 L339.5 644.64 L340 646.6 L340.5 643.39 L341 645.83 L341.5 643 L342 644.24 L342.5 646.13 L343 646.53 L343.5 645.36 L344 646.07 L344.5 646.15 L345 646.26 L345.5 647.54 L346 646.45 L346.5 646.08 L347 646.25 L347.5 645.03 L348 647.43 L348.5 646.85 L349 647.85 L349.5 647.02 L350 647.69 L350.5 647.86 L351 647.96 L351.5 648.1 L352 648.24 L352.5 648.37 L353 648.48 L353.5 648.59 L354 648.7 L354 648.7 Z" fill="#57ff74" stroke="#3cd23e" stroke-width="0.55" stroke-linejoin="miter"/>
<line x1="217.1" y1="538.2" x2="360.2" y2="538.2" stroke="#333" stroke-width="0.9"/>
<line x1="360.2" y1="538.2" x2="360.2" y2="648.7" stroke="#333" stroke-width="0.9"/>
<line x1="217.1" y1="537.9" x2="217.1" y2="649.2" stroke="#8a8a8a" stroke-width="1.1"/>
<line x1="214.6" y1="648.7" x2="360.2" y2="648.7" stroke="#333" stroke-width="0.9"/>
<line x1="225.6" y1="538.2" x2="225.6" y2="648.7" stroke="#000" stroke-width="0.85" stroke-opacity="0.42"/>
<line x1="275.5" y1="538.2" x2="275.5" y2="648.7" stroke="#000" stroke-width="0.85" stroke-opacity="0.42"/>
<line x1="309.4" y1="538.2" x2="309.4" y2="648.7" stroke="#000" stroke-width="0.85" stroke-opacity="0.42"/>
<line x1="356.4" y1="538.2" x2="356.4" y2="648.7" stroke="#000" stroke-width="0.85" stroke-opacity="0.42"/>
<line x1="225.6" y1="595.4" x2="275.5" y2="595.4" stroke="#000" stroke-width="0.9" stroke-opacity="0.82"/>
<line x1="275.5" y1="592.1" x2="309.4" y2="592.1" stroke="#000" stroke-width="0.9" stroke-opacity="0.82"/>
<line x1="309.4" y1="593.1" x2="356.4" y2="593.1" stroke="#000" stroke-width="0.9" stroke-opacity="0.82"/>
<text x="243.5" y="552.78" font-size="6.2" font-weight="normal" fill="#222" text-anchor="middle" font-family="'Liberation Sans', sans-serif" dominant-baseline="central">1N</text>
<text x="284" y="548.08" font-size="6.2" font-weight="normal" fill="#222" text-anchor="middle" font-family="'Liberation Sans', sans-serif" dominant-baseline="central">2N</text>
<text x="334.2" y="552.08" font-size="6.2" font-weight="normal" fill="#222" text-anchor="middle" font-family="'Liberation Sans', sans-serif" dominant-baseline="central">4N</text>
<line x1="212.5" y1="648.7" x2="217.1" y2="648.7" stroke="#333" stroke-width="0.7"/>
<text x="210.26" y="648.7" font-size="5.4" font-weight="normal" fill="#222" text-anchor="middle" font-family="'Liberation Sans', sans-serif" dominant-baseline="central" transform="rotate(-90 210.26 648.7)">0</text>
<line x1="215.1" y1="644.44" x2="217.1" y2="644.44" stroke="#333" stroke-width="0.6"/>
<line x1="215.1" y1="640.18" x2="217.1" y2="640.18" stroke="#333" stroke-width="0.6"/>
<line x1="215.1" y1="635.92" x2="217.1" y2="635.92" stroke="#333" stroke-width="0.6"/>
<line x1="215.1" y1="631.66" x2="217.1" y2="631.66" stroke="#333" stroke-width="0.6"/>
<line x1="212.5" y1="627.4" x2="217.1" y2="627.4" stroke="#333" stroke-width="0.7"/>
<text x="210.26" y="627.4" font-size="5.4" font-weight="normal" fill="#222" text-anchor="middle" font-family="'Liberation Sans', sans-serif" dominant-baseline="central" transform="rotate(-90 210.26 627.4)">50</text>
<line x1="215.1" y1="623.14" x2="217.1" y2="623.14" stroke="#333" stroke-width="0.6"/>
<line x1="215.1" y1="618.88" x2="217.1" y2="618.88" stroke="#333" stroke-width="0.6"/>
<line x1="215.1" y1="614.62" x2="217.1" y2="614.62" stroke="#333" stroke-width="0.6"/>
<line x1="215.1" y1="610.36" x2="217.1" y2="610.36" stroke="#333" stroke-width="0.6"/>
<line x1="212.5" y1="606.1" x2="217.1" y2="606.1" stroke="#333" stroke-width="0.7"/>
<text x="210.26" y="606.1" font-size="5.4" font-weight="normal" fill="#222" text-anchor="middle" font-family="'Liberation Sans', sans-serif" dominant-baseline="central" transform="rotate(-90 210.26 606.1)">100</text>
<line x1="215.1" y1="601.84" x2="217.1" y2="601.84" stroke="#333" stroke-width="0.6"/>
<line x1="215.1" y1="597.58" x2="217.1" y2="597.58" stroke="#333" stroke-width="0.6"/>
<line x1="215.1" y1="593.32" x2="217.1" y2="593.32" stroke="#333" stroke-width="0.6"/>
<line x1="215.1" y1="589.06" x2="217.1" y2="589.06" stroke="#333" stroke-width="0.6"/>
<line x1="212.5" y1="584.8" x2="217.1" y2="584.8" stroke="#333" stroke-width="0.7"/>
<text x="210.26" y="584.8" font-size="5.4" font-weight="normal" fill="#222" text-anchor="middle" font-family="'Liberation Sans', sans-serif" dominant-baseline="central" transform="rotate(-90 210.26 584.8)">150</text>
<line x1="215.1" y1="580.54" x2="217.1" y2="580.54" stroke="#333" stroke-width="0.6"/>
<line x1="215.1" y1="576.28" x2="217.1" y2="576.28" stroke="#333" stroke-width="0.6"/>
<line x1="215.1" y1="572.02" x2="217.1" y2="572.02" stroke="#333" stroke-width="0.6"/>
<line x1="215.1" y1="567.76" x2="217.1" y2="567.76" stroke="#333" stroke-width="0.6"/>
<line x1="212.5" y1="563.5" x2="217.1" y2="563.5" stroke="#333" stroke-width="0.7"/>
<text x="210.26" y="563.5" font-size="5.4" font-weight="normal" fill="#222" text-anchor="middle" font-family="'Liberation Sans', sans-serif" dominant-baseline="central" transform="rotate(-90 210.26 563.5)">200</text>
<line x1="215.1" y1="559.24" x2="217.1" y2="559.24" stroke="#333" stroke-width="0.6"/>
<line x1="215.1" y1="554.98" x2="217.1" y2="554.98" stroke="#333" stroke-width="0.6"/>
<line x1="215.1" y1="550.72" x2="217.1" y2="550.72" stroke="#333" stroke-width="0.6"/>
<line x1="215.1" y1="546.46" x2="217.1" y2="546.46" stroke="#333" stroke-width="0.6"/>
<line x1="212.5" y1="542.2" x2="217.1" y2="542.2" stroke="#333" stroke-width="0.7"/>
<text x="210.26" y="542.2" font-size="5.4" font-weight="normal" fill="#222" text-anchor="middle" font-family="'Liberation Sans', sans-serif" dominant-baseline="central" transform="rotate(-90 210.26 542.2)">250</text>
<text x="202.34" y="591.5" font-size="6.6" font-weight="normal" fill="#222" text-anchor="middle" font-family="'Liberation Sans', sans-serif" dominant-baseline="central" transform="rotate(-90 202.34 591.5)">Count</text>
<text x="216.7" y="662.27" font-size="5.3" font-weight="normal" fill="#222" text-anchor="middle" font-family="'Liberation Sans', sans-serif" dominant-baseline="central">-6,005</text>
<text x="250.5" y="658.8" font-size="5.6" font-family="'Liberation Sans', sans-serif" fill="#222" text-anchor="middle" dominant-baseline="central">-10<tspan font-size="4" dy="-2.2">3</tspan></text>
<text x="260.4" y="658.27" font-size="5.3" font-weight="normal" fill="#222" text-anchor="middle" font-family="'Liberation Sans', sans-serif" dominant-baseline="central">0</text>
<text x="269.2" y="658.8" font-size="5.6" font-family="'Liberation Sans', sans-serif" fill="#222" text-anchor="middle" dominant-baseline="central">10<tspan font-size="4" dy="-2.2">3</tspan></text>
<text x="307.8" y="658.8" font-size="5.6" font-family="'Liberation Sans', sans-serif" fill="#222" text-anchor="middle" dominant-baseline="central">10<tspan font-size="4" dy="-2.2">4</tspan></text>
<text x="345.2" y="658.8" font-size="5.6" font-family="'Liberation Sans', sans-serif" fill="#222" text-anchor="middle" dominant-baseline="central">10<tspan font-size="4" dy="-2.2">5</tspan></text>
<line x1="233" y1="648.7" x2="233" y2="651.9" stroke="#2a2a2a" stroke-width="0.7"/>
<line x1="244.26" y1="648.7" x2="244.26" y2="650.9" stroke="#2a2a2a" stroke-width="0.7"/>
<line x1="250.84" y1="648.7" x2="250.84" y2="650.9" stroke="#2a2a2a" stroke-width="0.7"/>
<line x1="255.52" y1="648.7" x2="255.52" y2="650.9" stroke="#2a2a2a" stroke-width="0.7"/>
<line x1="259.14" y1="648.7" x2="259.14" y2="650.9" stroke="#2a2a2a" stroke-width="0.7"/>
<line x1="262.1" y1="648.7" x2="262.1" y2="650.9" stroke="#2a2a2a" stroke-width="0.7"/>
<line x1="264.61" y1="648.7" x2="264.61" y2="650.9" stroke="#2a2a2a" stroke-width="0.7"/>
<line x1="266.78" y1="648.7" x2="266.78" y2="650.9" stroke="#2a2a2a" stroke-width="0.7"/>
<line x1="268.69" y1="648.7" x2="268.69" y2="650.9" stroke="#2a2a2a" stroke-width="0.7"/>
<line x1="270.4" y1="648.7" x2="270.4" y2="651.9" stroke="#2a2a2a" stroke-width="0.7"/>
<line x1="281.66" y1="648.7" x2="281.66" y2="650.9" stroke="#2a2a2a" stroke-width="0.7"/>
<line x1="288.24" y1="648.7" x2="288.24" y2="650.9" stroke="#2a2a2a" stroke-width="0.7"/>
<line x1="292.92" y1="648.7" x2="292.92" y2="650.9" stroke="#2a2a2a" stroke-width="0.7"/>
<line x1="296.54" y1="648.7" x2="296.54" y2="650.9" stroke="#2a2a2a" stroke-width="0.7"/>
<line x1="299.5" y1="648.7" x2="299.5" y2="650.9" stroke="#2a2a2a" stroke-width="0.7"/>
<line x1="302.01" y1="648.7" x2="302.01" y2="650.9" stroke="#2a2a2a" stroke-width="0.7"/>
<line x1="304.18" y1="648.7" x2="304.18" y2="650.9" stroke="#2a2a2a" stroke-width="0.7"/>
<line x1="306.09" y1="648.7" x2="306.09" y2="650.9" stroke="#2a2a2a" stroke-width="0.7"/>
<line x1="307.8" y1="648.7" x2="307.8" y2="651.9" stroke="#2a2a2a" stroke-width="0.7"/>
<line x1="319.06" y1="648.7" x2="319.06" y2="650.9" stroke="#2a2a2a" stroke-width="0.7"/>
<line x1="325.64" y1="648.7" x2="325.64" y2="650.9" stroke="#2a2a2a" stroke-width="0.7"/>
<line x1="330.32" y1="648.7" x2="330.32" y2="650.9" stroke="#2a2a2a" stroke-width="0.7"/>
<line x1="333.94" y1="648.7" x2="333.94" y2="650.9" stroke="#2a2a2a" stroke-width="0.7"/>
<line x1="336.9" y1="648.7" x2="336.9" y2="650.9" stroke="#2a2a2a" stroke-width="0.7"/>
<line x1="339.41" y1="648.7" x2="339.41" y2="650.9" stroke="#2a2a2a" stroke-width="0.7"/>
<line x1="341.58" y1="648.7" x2="341.58" y2="650.9" stroke="#2a2a2a" stroke-width="0.7"/>
<line x1="343.49" y1="648.7" x2="343.49" y2="650.9" stroke="#2a2a2a" stroke-width="0.7"/>
<line x1="345.2" y1="648.7" x2="345.2" y2="651.9" stroke="#2a2a2a" stroke-width="0.7"/>
<line x1="356.46" y1="648.7" x2="356.46" y2="650.9" stroke="#2a2a2a" stroke-width="0.7"/>
<line x1="251.7" y1="648.7" x2="251.7" y2="651.7" stroke="#2a2a2a" stroke-width="0.7"/>
<line x1="253.2" y1="648.7" x2="253.2" y2="650.9" stroke="#2a2a2a" stroke-width="0.7"/>
<line x1="254.7" y1="648.7" x2="254.7" y2="650.9" stroke="#2a2a2a" stroke-width="0.7"/>
<line x1="256.2" y1="648.7" x2="256.2" y2="650.9" stroke="#2a2a2a" stroke-width="0.7"/>
<line x1="257.7" y1="648.7" x2="257.7" y2="650.9" stroke="#2a2a2a" stroke-width="0.7"/>
<line x1="259.2" y1="648.7" x2="259.2" y2="651.7" stroke="#2a2a2a" stroke-width="0.7"/>
<line x1="260.7" y1="648.7" x2="260.7" y2="650.9" stroke="#2a2a2a" stroke-width="0.7"/>
<line x1="262.2" y1="648.7" x2="262.2" y2="650.9" stroke="#2a2a2a" stroke-width="0.7"/>
<line x1="263.7" y1="648.7" x2="263.7" y2="650.9" stroke="#2a2a2a" stroke-width="0.7"/>
<line x1="265.2" y1="648.7" x2="265.2" y2="650.9" stroke="#2a2a2a" stroke-width="0.7"/>
<line x1="266.7" y1="648.7" x2="266.7" y2="651.7" stroke="#2a2a2a" stroke-width="0.7"/>
<line x1="268.2" y1="648.7" x2="268.2" y2="650.9" stroke="#2a2a2a" stroke-width="0.7"/>
<line x1="269.7" y1="648.7" x2="269.7" y2="650.9" stroke="#2a2a2a" stroke-width="0.7"/>
<line x1="219.5" y1="648.7" x2="219.5" y2="651.1" stroke="#2a2a2a" stroke-width="0.7"/>
<line x1="221.9" y1="648.7" x2="221.9" y2="651.1" stroke="#2a2a2a" stroke-width="0.7"/>
<line x1="224.3" y1="648.7" x2="224.3" y2="651.1" stroke="#2a2a2a" stroke-width="0.7"/>
<line x1="226.7" y1="648.7" x2="226.7" y2="651.1" stroke="#2a2a2a" stroke-width="0.7"/>
<line x1="229.1" y1="648.7" x2="229.1" y2="651.1" stroke="#2a2a2a" stroke-width="0.7"/>
<line x1="231.5" y1="648.7" x2="231.5" y2="651.1" stroke="#2a2a2a" stroke-width="0.7"/>
<line x1="233.9" y1="648.7" x2="233.9" y2="651.1" stroke="#2a2a2a" stroke-width="0.7"/>
<line x1="236.3" y1="648.7" x2="236.3" y2="651.1" stroke="#2a2a2a" stroke-width="0.7"/>
<line x1="238.7" y1="648.7" x2="238.7" y2="651.1" stroke="#2a2a2a" stroke-width="0.7"/>
<line x1="241.1" y1="648.7" x2="241.1" y2="651.1" stroke="#2a2a2a" stroke-width="0.7"/>
<line x1="243.5" y1="648.7" x2="243.5" y2="651.1" stroke="#2a2a2a" stroke-width="0.7"/>
<line x1="245.9" y1="648.7" x2="245.9" y2="651.1" stroke="#2a2a2a" stroke-width="0.7"/>
<line x1="248.3" y1="648.7" x2="248.3" y2="651.1" stroke="#2a2a2a" stroke-width="0.7"/>
<line x1="250.7" y1="648.7" x2="250.7" y2="651.1" stroke="#2a2a2a" stroke-width="0.7"/>
<rect x="259.2" y="648.7" width="3" height="2.8" fill="#222"/>
<text x="288" y="663.34" font-size="6.6" font-weight="normal" fill="#222" text-anchor="middle" font-family="'Liberation Sans', sans-serif" dominant-baseline="central">DAPI-A</text>
<text x="289.3" y="674.56" font-size="9.4" font-weight="bold" fill="#000" text-anchor="middle" font-family="'Liberation Serif', serif" dominant-baseline="central">WT+Rif</text>
<path d="M60.6 800.2 L60.6 799.5 L61.1 797.85 L61.6 795.42 L62.1 791.87 L62.6 791.05 L63.1 789.12 L63.6 784.16 L64.1 785.43 L64.6 783.6 L65.1 783.28 L65.6 783.89 L66.1 779.65 L66.6 777.25 L67.1 771.42 L67.6 770.64 L68.1 761.78 L68.6 767.91 L69.1 764.39 L69.6 755.8 L70.1 760.11 L70.6 752.58 L71.1 754.42 L71.6 752.73 L72.1 746.37 L72.6 749.77 L73.1 742.98 L73.6 749.56 L74 735 L74.1 738.75 L74.6 739.44 L75.1 744.8 L75.6 743.57 L76.1 740.63 L76.6 737.67 L77.1 739.06 L77.6 745.55 L78.1 734.77 L78.6 735.92 L79.1 729.13 L79.6 736.12 L80.1 743.4 L80.6 738.05 L81.1 742.77 L81.6 732.76 L82.1 729.85 L82.6 733.5 L83.1 744.18 L83.6 734.52 L84.1 733.97 L84.6 727.27 L85.1 733.71 L85.6 732.72 L86 715.5 L86.1 740.81 L86.6 733.55 L87.1 736.26 L87.6 739.64 L88.1 725.38 L88.6 725.26 L89.1 737.66 L89.6 725.97 L90.1 728.97 L90.6 731.56 L91.1 725.52 L91.6 727.98 L92.1 725.3 L92.6 729.99 L93.1 727 L93.6 722.75 L94.1 731.51 L94.6 729.21 L95.1 733.26 L95.6 727.35 L96.1 728.25 L96.6 720.69 L97.1 724.25 L97.6 732.39 L98.1 728.02 L98.6 721.93 L99.1 734.37 L99.6 719.99 L100.1 724.81 L100.6 726.11 L101.1 727.46 L101.6 722.97 L102.1 721.05 L102.6 727.2 L103.1 728.28 L103.6 726.61 L104.1 718.75 L104.6 724.54 L105.1 735.38 L105.6 726.75 L106.1 724.03 L106.6 727 L107.1 724.56 L107.6 720.86 L108.1 725.38 L108.6 730.25 L109.1 722.04 L109.6 720.04 L110.1 723.53 L110.6 721.51 L111.1 715.77 L111.6 716.22 L112.1 716.06 L112.6 720.27 L113.1 717.68 L113.6 708.28 L114.1 710.72 L114.6 717.7 L115.1 711.44 L115.6 713.11 L116.1 716.71 L116.6 714.99 L117.1 716.74 L117.6 700.24 L118.1 717.71 L118.6 710.04 L119.1 716.66 L119.6 712 L120.1 712.66 L120.6 703.53 L121.1 717.47 L121.6 709.13 L122.1 712.46 L122.6 710.85 L123.1 700.71 L123.6 708.06 L124.1 710.39 L124.6 707.19 L125.1 703.02 L125.6 710.67 L126.1 706.64 L126.6 702.41 L127.1 709.81 L127.6 706.37 L128.1 713.89 L128.6 707.24 L129.1 709.46 L129.6 698.54 L130.1 711.28 L130.6 702.92 L131.1 707.24 L131.6 696.03 L132.1 699.6 L132.6 697.21 L133 695 L133.1 692.21 L133.6 694.82 L134.1 691.3 L134.6 692.5 L134.6 697.8 L135.1 698.38 L135.6 704.94 L136.1 703.27 L136.6 702.94 L137.1 708.02 L137.6 710.62 L138.1 712.93 L138.6 709 L139.1 714.58 L139.6 706.89 L140.1 715.45 L140.6 721.04 L141.1 723.8 L141.6 721.31 L142.1 726.51 L142.6 734.38 L143.1 729.1 L143.6 735.33 L144.1 738.93 L144.6 733.05 L145.1 741.36 L145.6 735.34 L146.1 736.61 L146.6 740.99 L147.1 750.87 L147.6 747.24 L148.1 748.06 L148.6 749.59 L149.1 755.77 L149.6 755.85 L150.1 758.89 L150.6 762.12 L151.1 759.75 L151.6 756.9 L152.1 762.85 L152.6 759.15 L153.1 763.66 L153.6 763.84 L154.1 773.17 L154.6 768.67 L155.1 767.59 L155.6 774.41 L156.1 776.67 L156.6 773.7 L157.1 777.7 L157.6 777.69 L158.1 780.48 L158.6 778.76 L159.1 779.32 L159.6 783.98 L160.1 784.68 L160.6 786.25 L161.1 787.78 L161.6 783 L162.1 787.02 L162.6 788.11 L163.1 791.65 L163.6 790.26 L164.1 787.82 L164.6 788.99 L165.1 792.41 L165.6 791.89 L166.1 791.31 L166.6 791.39 L167.1 793.49 L167.6 793.66 L168.1 793.18 L168.6 792.79 L169.1 793.07 L169.6 796 L170.1 795.16 L170.6 794.53 L171.1 791.76 L171.6 796.68 L172.1 795.76 L172.6 795.06 L173.1 797.59 L173.6 795.03 L174.1 797.11 L174.6 795.34 L175.1 797.54 L175.6 796.06 L176.1 797.42 L176.6 796.74 L177.1 796.78 L177.6 798.23 L178.1 798.56 L178.6 797.18 L179.1 798.09 L179.6 798.55 L180.1 798.07 L180.6 798.96 L181.1 798.61 L181.6 797.76 L182.1 798.92 L182.6 798.44 L183.1 798.32 L183.6 800.19 L184.1 797.9 L184.6 799.07 L185.1 798.98 L185.6 798.92 L186.1 800.01 L186.6 799.47 L187.1 799.56 L187.6 799.65 L188.1 799.74 L188.6 799.84 L189.1 799.93 L189.5 800.2 Z" fill="#57ff74" stroke="#3cd23e" stroke-width="0.55" stroke-linejoin="miter"/>
<line x1="52.1" y1="690.8" x2="193.5" y2="690.8" stroke="#333" stroke-width="0.9"/>
<line x1="193.5" y1="690.8" x2="193.5" y2="800.2" stroke="#333" stroke-width="0.9"/>
<line x1="52.1" y1="690.5" x2="52.1" y2="800.7" stroke="#8a8a8a" stroke-width="1.1"/>
<line x1="49.6" y1="800.2" x2="193.5" y2="800.2" stroke="#333" stroke-width="0.9"/>
<line x1="59.4" y1="690.8" x2="59.4" y2="800.2" stroke="#000" stroke-width="0.85" stroke-opacity="0.42"/>
<line x1="109.4" y1="690.8" x2="109.4" y2="800.2" stroke="#000" stroke-width="0.85" stroke-opacity="0.42"/>
<line x1="142.1" y1="690.8" x2="142.1" y2="800.2" stroke="#000" stroke-width="0.85" stroke-opacity="0.42"/>
<line x1="188.3" y1="690.8" x2="188.3" y2="800.2" stroke="#000" stroke-width="0.85" stroke-opacity="0.42"/>
<line x1="59.4" y1="746.4" x2="109.4" y2="746.4" stroke="#000" stroke-width="0.9" stroke-opacity="0.82"/>
<line x1="109.4" y1="744.6" x2="142.1" y2="744.6" stroke="#000" stroke-width="0.9" stroke-opacity="0.82"/>
<line x1="142.1" y1="745.7" x2="188.3" y2="745.7" stroke="#000" stroke-width="0.85" stroke-opacity="0.38"/>
<text x="77.4" y="705.88" font-size="6.2" font-weight="normal" fill="#222" text-anchor="middle" font-family="'Liberation Sans', sans-serif" dominant-baseline="central">1N</text>
<text x="117.8" y="701.18" font-size="6.2" font-weight="normal" fill="#222" text-anchor="middle" font-family="'Liberation Sans', sans-serif" dominant-baseline="central">2N</text>
<text x="167.3" y="705.38" font-size="6.2" font-weight="normal" fill="#222" text-anchor="middle" font-family="'Liberation Sans', sans-serif" dominant-baseline="central">4N</text>
<line x1="47.5" y1="800.2" x2="52.1" y2="800.2" stroke="#333" stroke-width="0.7"/>
<text x="45.26" y="800.2" font-size="5.4" font-weight="normal" fill="#222" text-anchor="middle" font-family="'Liberation Sans', sans-serif" dominant-baseline="central" transform="rotate(-90 45.26 800.2)">0</text>
<line x1="50.1" y1="796.24" x2="52.1" y2="796.24" stroke="#333" stroke-width="0.6"/>
<line x1="50.1" y1="792.28" x2="52.1" y2="792.28" stroke="#333" stroke-width="0.6"/>
<line x1="50.1" y1="788.32" x2="52.1" y2="788.32" stroke="#333" stroke-width="0.6"/>
<line x1="50.1" y1="784.36" x2="52.1" y2="784.36" stroke="#333" stroke-width="0.6"/>
<line x1="47.5" y1="780.4" x2="52.1" y2="780.4" stroke="#333" stroke-width="0.7"/>
<text x="45.26" y="780.4" font-size="5.4" font-weight="normal" fill="#222" text-anchor="middle" font-family="'Liberation Sans', sans-serif" dominant-baseline="central" transform="rotate(-90 45.26 780.4)">50</text>
<line x1="50.1" y1="776.44" x2="52.1" y2="776.44" stroke="#333" stroke-width="0.6"/>
<line x1="50.1" y1="772.48" x2="52.1" y2="772.48" stroke="#333" stroke-width="0.6"/>
<line x1="50.1" y1="768.52" x2="52.1" y2="768.52" stroke="#333" stroke-width="0.6"/>
<line x1="50.1" y1="764.56" x2="52.1" y2="764.56" stroke="#333" stroke-width="0.6"/>
<line x1="47.5" y1="760.6" x2="52.1" y2="760.6" stroke="#333" stroke-width="0.7"/>
<text x="45.26" y="760.6" font-size="5.4" font-weight="normal" fill="#222" text-anchor="middle" font-family="'Liberation Sans', sans-serif" dominant-baseline="central" transform="rotate(-90 45.26 760.6)">100</text>
<line x1="50.1" y1="756.64" x2="52.1" y2="756.64" stroke="#333" stroke-width="0.6"/>
<line x1="50.1" y1="752.68" x2="52.1" y2="752.68" stroke="#333" stroke-width="0.6"/>
<line x1="50.1" y1="748.72" x2="52.1" y2="748.72" stroke="#333" stroke-width="0.6"/>
<line x1="50.1" y1="744.76" x2="52.1" y2="744.76" stroke="#333" stroke-width="0.6"/>
<line x1="47.5" y1="740.8" x2="52.1" y2="740.8" stroke="#333" stroke-width="0.7"/>
<text x="45.26" y="740.8" font-size="5.4" font-weight="normal" fill="#222" text-anchor="middle" font-family="'Liberation Sans', sans-serif" dominant-baseline="central" transform="rotate(-90 45.26 740.8)">150</text>
<line x1="50.1" y1="736.84" x2="52.1" y2="736.84" stroke="#333" stroke-width="0.6"/>
<line x1="50.1" y1="732.88" x2="52.1" y2="732.88" stroke="#333" stroke-width="0.6"/>
<line x1="50.1" y1="728.92" x2="52.1" y2="728.92" stroke="#333" stroke-width="0.6"/>
<line x1="50.1" y1="724.96" x2="52.1" y2="724.96" stroke="#333" stroke-width="0.6"/>
<line x1="47.5" y1="721" x2="52.1" y2="721" stroke="#333" stroke-width="0.7"/>
<text x="45.26" y="721" font-size="5.4" font-weight="normal" fill="#222" text-anchor="middle" font-family="'Liberation Sans', sans-serif" dominant-baseline="central" transform="rotate(-90 45.26 721)">200</text>
<line x1="50.1" y1="717.04" x2="52.1" y2="717.04" stroke="#333" stroke-width="0.6"/>
<line x1="50.1" y1="713.08" x2="52.1" y2="713.08" stroke="#333" stroke-width="0.6"/>
<line x1="50.1" y1="709.12" x2="52.1" y2="709.12" stroke="#333" stroke-width="0.6"/>
<line x1="50.1" y1="705.16" x2="52.1" y2="705.16" stroke="#333" stroke-width="0.6"/>
<line x1="47.5" y1="701.2" x2="52.1" y2="701.2" stroke="#333" stroke-width="0.7"/>
<text x="45.26" y="701.2" font-size="5.4" font-weight="normal" fill="#222" text-anchor="middle" font-family="'Liberation Sans', sans-serif" dominant-baseline="central" transform="rotate(-90 45.26 701.2)">250</text>
<line x1="50.1" y1="697.24" x2="52.1" y2="697.24" stroke="#333" stroke-width="0.6"/>
<line x1="50.1" y1="693.28" x2="52.1" y2="693.28" stroke="#333" stroke-width="0.6"/>
<text x="38.14" y="743.6" font-size="6.6" font-weight="normal" fill="#222" text-anchor="middle" font-family="'Liberation Sans', sans-serif" dominant-baseline="central" transform="rotate(-90 38.14 743.6)">Count</text>
<text x="51.7" y="813.27" font-size="5.3" font-weight="normal" fill="#222" text-anchor="middle" font-family="'Liberation Sans', sans-serif" dominant-baseline="central">-9,796</text>
<text x="89" y="810.3" font-size="5.6" font-family="'Liberation Sans', sans-serif" fill="#222" text-anchor="middle" dominant-baseline="central">-10<tspan font-size="4" dy="-2.2">2</tspan></text>
<text x="96.1" y="809.77" font-size="5.3" font-weight="normal" fill="#222" text-anchor="middle" font-family="'Liberation Sans', sans-serif" dominant-baseline="central">0</text>
<text x="103.1" y="810.3" font-size="5.6" font-family="'Liberation Sans', sans-serif" fill="#222" text-anchor="middle" dominant-baseline="central">10<tspan font-size="4" dy="-2.2">3</tspan></text>
<text x="141.6" y="810.3" font-size="5.6" font-family="'Liberation Sans', sans-serif" fill="#222" text-anchor="middle" dominant-baseline="central">10<tspan font-size="4" dy="-2.2">4</tspan></text>
<text x="179" y="810.3" font-size="5.6" font-family="'Liberation Sans', sans-serif" fill="#222" text-anchor="middle" dominant-baseline="central">10<tspan font-size="4" dy="-2.2">5</tspan></text>
<line x1="66.8" y1="800.2" x2="66.8" y2="803.4" stroke="#2a2a2a" stroke-width="0.7"/>
<line x1="78.06" y1="800.2" x2="78.06" y2="802.4" stroke="#2a2a2a" stroke-width="0.7"/>
<line x1="84.64" y1="800.2" x2="84.64" y2="802.4" stroke="#2a2a2a" stroke-width="0.7"/>
<line x1="89.32" y1="800.2" x2="89.32" y2="802.4" stroke="#2a2a2a" stroke-width="0.7"/>
<line x1="92.94" y1="800.2" x2="92.94" y2="802.4" stroke="#2a2a2a" stroke-width="0.7"/>
<line x1="95.9" y1="800.2" x2="95.9" y2="802.4" stroke="#2a2a2a" stroke-width="0.7"/>
<line x1="98.41" y1="800.2" x2="98.41" y2="802.4" stroke="#2a2a2a" stroke-width="0.7"/>
<line x1="100.58" y1="800.2" x2="100.58" y2="802.4" stroke="#2a2a2a" stroke-width="0.7"/>
<line x1="102.49" y1="800.2" x2="102.49" y2="802.4" stroke="#2a2a2a" stroke-width="0.7"/>
<line x1="104.2" y1="800.2" x2="104.2" y2="803.4" stroke="#2a2a2a" stroke-width="0.7"/>
<line x1="115.46" y1="800.2" x2="115.46" y2="802.4" stroke="#2a2a2a" stroke-width="0.7"/>
<line x1="122.04" y1="800.2" x2="122.04" y2="802.4" stroke="#2a2a2a" stroke-width="0.7"/>
<line x1="126.72" y1="800.2" x2="126.72" y2="802.4" stroke="#2a2a2a" stroke-width="0.7"/>
<line x1="130.34" y1="800.2" x2="130.34" y2="802.4" stroke="#2a2a2a" stroke-width="0.7"/>
<line x1="133.3" y1="800.2" x2="133.3" y2="802.4" stroke="#2a2a2a" stroke-width="0.7"/>
<line x1="135.81" y1="800.2" x2="135.81" y2="802.4" stroke="#2a2a2a" stroke-width="0.7"/>
<line x1="137.98" y1="800.2" x2="137.98" y2="802.4" stroke="#2a2a2a" stroke-width="0.7"/>
<line x1="139.89" y1="800.2" x2="139.89" y2="802.4" stroke="#2a2a2a" stroke-width="0.7"/>
<line x1="141.6" y1="800.2" x2="141.6" y2="803.4" stroke="#2a2a2a" stroke-width="0.7"/>
<line x1="152.86" y1="800.2" x2="152.86" y2="802.4" stroke="#2a2a2a" stroke-width="0.7"/>
<line x1="159.44" y1="800.2" x2="159.44" y2="802.4" stroke="#2a2a2a" stroke-width="0.7"/>
<line x1="164.12" y1="800.2" x2="164.12" y2="802.4" stroke="#2a2a2a" stroke-width="0.7"/>
<line x1="167.74" y1="800.2" x2="167.74" y2="802.4" stroke="#2a2a2a" stroke-width="0.7"/>
<line x1="170.7" y1="800.2" x2="170.7" y2="802.4" stroke="#2a2a2a" stroke-width="0.7"/>
<line x1="173.21" y1="800.2" x2="173.21" y2="802.4" stroke="#2a2a2a" stroke-width="0.7"/>
<line x1="175.38" y1="800.2" x2="175.38" y2="802.4" stroke="#2a2a2a" stroke-width="0.7"/>
<line x1="177.29" y1="800.2" x2="177.29" y2="802.4" stroke="#2a2a2a" stroke-width="0.7"/>
<line x1="179" y1="800.2" x2="179" y2="803.4" stroke="#2a2a2a" stroke-width="0.7"/>
<line x1="190.26" y1="800.2" x2="190.26" y2="802.4" stroke="#2a2a2a" stroke-width="0.7"/>
<line x1="85.5" y1="800.2" x2="85.5" y2="803.2" stroke="#2a2a2a" stroke-width="0.7"/>
<line x1="87" y1="800.2" x2="87" y2="802.4" stroke="#2a2a2a" stroke-width="0.7"/>
<line x1="88.5" y1="800.2" x2="88.5" y2="802.4" stroke="#2a2a2a" stroke-width="0.7"/>
<line x1="90" y1="800.2" x2="90" y2="802.4" stroke="#2a2a2a" stroke-width="0.7"/>
<line x1="91.5" y1="800.2" x2="91.5" y2="802.4" stroke="#2a2a2a" stroke-width="0.7"/>
<line x1="93" y1="800.2" x2="93" y2="803.2" stroke="#2a2a2a" stroke-width="0.7"/>
<line x1="94.5" y1="800.2" x2="94.5" y2="802.4" stroke="#2a2a2a" stroke-width="0.7"/>
<line x1="96" y1="800.2" x2="96" y2="802.4" stroke="#2a2a2a" stroke-width="0.7"/>
<line x1="97.5" y1="800.2" x2="97.5" y2="802.4" stroke="#2a2a2a" stroke-width="0.7"/>
<line x1="99" y1="800.2" x2="99" y2="802.4" stroke="#2a2a2a" stroke-width="0.7"/>
<line x1="100.5" y1="800.2" x2="100.5" y2="803.2" stroke="#2a2a2a" stroke-width="0.7"/>
<line x1="102" y1="800.2" x2="102" y2="802.4" stroke="#2a2a2a" stroke-width="0.7"/>
<line x1="103.5" y1="800.2" x2="103.5" y2="802.4" stroke="#2a2a2a" stroke-width="0.7"/>
<line x1="105" y1="800.2" x2="105" y2="802.4" stroke="#2a2a2a" stroke-width="0.7"/>
<line x1="106.5" y1="800.2" x2="106.5" y2="802.4" stroke="#2a2a2a" stroke-width="0.7"/>
<rect x="96.1" y="800.2" width="1.5" height="2.8" fill="#222"/>
<text x="121.8" y="814.84" font-size="6.6" font-weight="normal" fill="#222" text-anchor="middle" font-family="'Liberation Sans', sans-serif" dominant-baseline="central">DAPI-A</text>
<text x="118.2" y="826.46" font-size="9.4" font-weight="bold" fill="#000" text-anchor="middle" font-family="'Liberation Serif', serif" dominant-baseline="central">FMX783</text>
<path d="M231 801.1 L231 800.5 L231.5 800.4 L232 800.54 L232.5 800.1 L233 800.36 L233.5 799.59 L234 800.17 L234.5 799.31 L235 800.44 L235.5 800.19 L236 799.32 L236.5 800.3 L237 799.12 L237.5 799.54 L238 798.82 L238.5 799.54 L239 799.13 L239.5 798.7 L240 798.98 L240.5 799.5 L241 798.88 L241.5 798.97 L242 798.72 L242.5 798.79 L243 798.51 L243.5 799.24 L244 799.02 L244.5 797.88 L245 797.67 L245.5 799.19 L246 798.62 L246.5 798.41 L247 799.05 L247.5 798.53 L248 798.91 L248.5 798.63 L249 798.44 L249.5 798.38 L250 799.01 L250.5 798.14 L251 799.31 L251.5 799.25 L252 798.48 L252.5 798.34 L253 798.3 L253.5 798.09 L254 798.25 L254.5 799.03 L255 799.14 L255.5 799.28 L256 798.64 L256.5 799.57 L257 799.1 L257.5 798.82 L258 799.08 L258.5 799.82 L259 799.41 L259.5 798.43 L260 799.86 L260.5 799.45 L261 799.31 L261.5 798.76 L262 799.31 L262.5 799.24 L263 799.35 L263.5 798.83 L264 799.71 L264.5 798.8 L265 799.41 L265.5 799.14 L266 798.97 L266.5 799.95 L267 798.89 L267.5 799.93 L268 800.48 L268.5 799.99 L269 799.96 L269.5 799.16 L270 799.53 L270.5 799.63 L271 799.42 L271.5 799.43 L272 799.73 L272.5 799.83 L273 799.8 L273.5 799.82 L274 799.56 L274.5 799.9 L275 799.71 L275.5 799.43 L276 800.05 L276.5 800.15 L277 799.48 L277.5 800.01 L278 799.53 L278.5 800.26 L279 799.71 L279.5 800.51 L280 799.72 L280.5 799.52 L281 799.78 L281.5 799.12 L282 799.65 L282.5 800.05 L283 799.47 L283.5 799.11 L284 800.09 L284.5 800.1 L285 799.12 L285.5 800.03 L286 799.25 L286.5 799.15 L287 798.9 L287.5 799.74 L288 799.71 L288.5 798.64 L289 798.89 L289.5 799.49 L290 798.25 L290.5 798.29 L291 798.2 L291.5 799.23 L292 798.76 L292.5 798.46 L293 798.15 L293.5 797.92 L294 797.89 L294.5 798.16 L295 798.09 L295.5 797.85 L296 797.54 L296.5 797.01 L297 797.35 L297.5 796.26 L298 797.94 L298.5 796.34 L299 795.58 L299.5 794.94 L300 793.74 L300.5 793.23 L301 793.23 L301.5 792.04 L302 790.35 L302.5 790.71 L303 787.79 L303.5 785.75 L304 787.37 L304.5 786.63 L305 780.54 L305.5 779.1 L306 779.89 L306.5 777.53 L307 773.53 L307.5 768.32 L308 763.8 L308.5 765.36 L309 757.87 L309.5 750.57 L310 746.94 L310.5 746.64 L311 743.69 L311.5 736.58 L312 732.55 L312.5 731.87 L313 725.43 L313.5 725.67 L314 715.89 L314.5 718.25 L315 713.97 L315.5 712.09 L316 710.61 L316.5 712.36 L317 706.79 L317.5 705.66 L318 708.05 L318.5 703.15 L319 699.44 L319.5 698.76 L320 696.9 L320.5 696.35 L321 696.1 L321.5 695.57 L322 696.89 L322.5 692.59 L323 691.3 L323.5 691.5 L323.5 698.84 L324 692.82 L324.5 696.47 L325 693.92 L325.5 691.74 L326 691.3 L326.5 692.08 L327 697.51 L327.5 698.94 L328 701.71 L328.5 697.7 L329 706.21 L329.5 715.34 L330 715.84 L330.5 720.85 L331 724.79 L331.5 727.51 L332 728.22 L332.5 733.95 L333 734.59 L333.5 742.48 L334 745.45 L334.5 753.41 L335 758.78 L335.5 764.3 L336 766.97 L336.5 769.21 L337 772.7 L337.5 781.1 L338 782.56 L338.5 786.52 L339 789.8 L339.5 793.95 L340 792.68 L340.5 794.29 L341 793.98 L341.5 796.94 L342 797.69 L342.5 798.91 L343 799.22 L343.5 799.66 L344 799.76 L344.5 799.83 L345 800.38 L345.5 800.69 L346 801 L346 801.1 Z" fill="#57ff74" stroke="#3cd23e" stroke-width="0.55" stroke-linejoin="miter"/>
<line x1="214.8" y1="690.8" x2="358" y2="690.8" stroke="#333" stroke-width="0.9"/>
<line x1="358" y1="690.8" x2="358" y2="801.1" stroke="#333" stroke-width="0.9"/>
<line x1="214.8" y1="690.5" x2="214.8" y2="801.6" stroke="#8a8a8a" stroke-width="1.1"/>
<line x1="212.3" y1="801.1" x2="358" y2="801.1" stroke="#333" stroke-width="0.9"/>
<line x1="230.2" y1="690.8" x2="230.2" y2="801.1" stroke="#000" stroke-width="0.85" stroke-opacity="0.42"/>
<line x1="274.4" y1="690.8" x2="274.4" y2="801.1" stroke="#000" stroke-width="0.85" stroke-opacity="0.42"/>
<line x1="307.8" y1="690.8" x2="307.8" y2="801.1" stroke="#000" stroke-width="0.85" stroke-opacity="0.42"/>
<line x1="354" y1="690.8" x2="354" y2="801.1" stroke="#000" stroke-width="0.85" stroke-opacity="0.42"/>
<line x1="230.2" y1="745.3" x2="274.4" y2="745.3" stroke="#000" stroke-width="0.9" stroke-opacity="0.82"/>
<line x1="274.4" y1="746.4" x2="307.8" y2="746.4" stroke="#000" stroke-width="0.85" stroke-opacity="0.38"/>
<line x1="307.8" y1="797.6" x2="354" y2="797.6" stroke="#000" stroke-width="0.9" stroke-opacity="0.82"/>
<text x="245.9" y="704.98" font-size="6.2" font-weight="normal" fill="#222" text-anchor="middle" font-family="'Liberation Sans', sans-serif" dominant-baseline="central">1N</text>
<text x="291.4" y="700.28" font-size="6.2" font-weight="normal" fill="#222" text-anchor="middle" font-family="'Liberation Sans', sans-serif" dominant-baseline="central">2N</text>
<text x="337.7" y="700.78" font-size="6.2" font-weight="normal" fill="#222" text-anchor="middle" font-family="'Liberation Sans', sans-serif" dominant-baseline="central">4N</text>
<line x1="210.2" y1="801.1" x2="214.8" y2="801.1" stroke="#333" stroke-width="0.7"/>
<text x="207.96" y="801.1" font-size="5.4" font-weight="normal" fill="#222" text-anchor="middle" font-family="'Liberation Sans', sans-serif" dominant-baseline="central" transform="rotate(-90 207.96 801.1)">0</text>
<line x1="212.8" y1="798.26" x2="214.8" y2="798.26" stroke="#333" stroke-width="0.6"/>
<line x1="212.8" y1="795.42" x2="214.8" y2="795.42" stroke="#333" stroke-width="0.6"/>
<line x1="212.8" y1="792.58" x2="214.8" y2="792.58" stroke="#333" stroke-width="0.6"/>
<line x1="212.8" y1="789.74" x2="214.8" y2="789.74" stroke="#333" stroke-width="0.6"/>
<line x1="210.2" y1="786.9" x2="214.8" y2="786.9" stroke="#333" stroke-width="0.7"/>
<text x="207.96" y="786.9" font-size="5.4" font-weight="normal" fill="#222" text-anchor="middle" font-family="'Liberation Sans', sans-serif" dominant-baseline="central" transform="rotate(-90 207.96 786.9)">100</text>
<line x1="212.8" y1="784.06" x2="214.8" y2="784.06" stroke="#333" stroke-width="0.6"/>
<line x1="212.8" y1="781.22" x2="214.8" y2="781.22" stroke="#333" stroke-width="0.6"/>
<line x1="212.8" y1="778.38" x2="214.8" y2="778.38" stroke="#333" stroke-width="0.6"/>
<line x1="212.8" y1="775.54" x2="214.8" y2="775.54" stroke="#333" stroke-width="0.6"/>
<line x1="210.2" y1="772.7" x2="214.8" y2="772.7" stroke="#333" stroke-width="0.7"/>
<text x="207.96" y="772.7" font-size="5.4" font-weight="normal" fill="#222" text-anchor="middle" font-family="'Liberation Sans', sans-serif" dominant-baseline="central" transform="rotate(-90 207.96 772.7)">200</text>
<line x1="212.8" y1="769.86" x2="214.8" y2="769.86" stroke="#333" stroke-width="0.6"/>
<line x1="212.8" y1="767.02" x2="214.8" y2="767.02" stroke="#333" stroke-width="0.6"/>
<line x1="212.8" y1="764.18" x2="214.8" y2="764.18" stroke="#333" stroke-width="0.6"/>
<line x1="212.8" y1="761.34" x2="214.8" y2="761.34" stroke="#333" stroke-width="0.6"/>
<line x1="210.2" y1="758.5" x2="214.8" y2="758.5" stroke="#333" stroke-width="0.7"/>
<text x="207.96" y="758.5" font-size="5.4" font-weight="normal" fill="#222" text-anchor="middle" font-family="'Liberation Sans', sans-serif" dominant-baseline="central" transform="rotate(-90 207.96 758.5)">300</text>
<line x1="212.8" y1="755.66" x2="214.8" y2="755.66" stroke="#333" stroke-width="0.6"/>
<line x1="212.8" y1="752.82" x2="214.8" y2="752.82" stroke="#333" stroke-width="0.6"/>
<line x1="212.8" y1="749.98" x2="214.8" y2="749.98" stroke="#333" stroke-width="0.6"/>
<line x1="212.8" y1="747.14" x2="214.8" y2="747.14" stroke="#333" stroke-width="0.6"/>
<line x1="210.2" y1="744.3" x2="214.8" y2="744.3" stroke="#333" stroke-width="0.7"/>
<text x="207.96" y="744.3" font-size="5.4" font-weight="normal" fill="#222" text-anchor="middle" font-family="'Liberation Sans', sans-serif" dominant-baseline="central" transform="rotate(-90 207.96 744.3)">400</text>
<line x1="212.8" y1="741.46" x2="214.8" y2="741.46" stroke="#333" stroke-width="0.6"/>
<line x1="212.8" y1="738.62" x2="214.8" y2="738.62" stroke="#333" stroke-width="0.6"/>
<line x1="212.8" y1="735.78" x2="214.8" y2="735.78" stroke="#333" stroke-width="0.6"/>
<line x1="212.8" y1="732.94" x2="214.8" y2="732.94" stroke="#333" stroke-width="0.6"/>
<line x1="210.2" y1="730.1" x2="214.8" y2="730.1" stroke="#333" stroke-width="0.7"/>
<text x="207.96" y="730.1" font-size="5.4" font-weight="normal" fill="#222" text-anchor="middle" font-family="'Liberation Sans', sans-serif" dominant-baseline="central" transform="rotate(-90 207.96 730.1)">500</text>
<line x1="212.8" y1="727.26" x2="214.8" y2="727.26" stroke="#333" stroke-width="0.6"/>
<line x1="212.8" y1="724.42" x2="214.8" y2="724.42" stroke="#333" stroke-width="0.6"/>
<line x1="212.8" y1="721.58" x2="214.8" y2="721.58" stroke="#333" stroke-width="0.6"/>
<line x1="212.8" y1="718.74" x2="214.8" y2="718.74" stroke="#333" stroke-width="0.6"/>
<line x1="210.2" y1="715.9" x2="214.8" y2="715.9" stroke="#333" stroke-width="0.7"/>
<text x="207.96" y="715.9" font-size="5.4" font-weight="normal" fill="#222" text-anchor="middle" font-family="'Liberation Sans', sans-serif" dominant-baseline="central" transform="rotate(-90 207.96 715.9)">600</text>
<line x1="212.8" y1="713.06" x2="214.8" y2="713.06" stroke="#333" stroke-width="0.6"/>
<line x1="212.8" y1="710.22" x2="214.8" y2="710.22" stroke="#333" stroke-width="0.6"/>
<line x1="212.8" y1="707.38" x2="214.8" y2="707.38" stroke="#333" stroke-width="0.6"/>
<line x1="212.8" y1="704.54" x2="214.8" y2="704.54" stroke="#333" stroke-width="0.6"/>
<line x1="210.2" y1="701.7" x2="214.8" y2="701.7" stroke="#333" stroke-width="0.7"/>
<text x="207.96" y="701.7" font-size="5.4" font-weight="normal" fill="#222" text-anchor="middle" font-family="'Liberation Sans', sans-serif" dominant-baseline="central" transform="rotate(-90 207.96 701.7)">700</text>
<line x1="212.8" y1="698.86" x2="214.8" y2="698.86" stroke="#333" stroke-width="0.6"/>
<line x1="212.8" y1="696.02" x2="214.8" y2="696.02" stroke="#333" stroke-width="0.6"/>
<text x="201.04" y="743.6" font-size="6.6" font-weight="normal" fill="#222" text-anchor="middle" font-family="'Liberation Sans', sans-serif" dominant-baseline="central" transform="rotate(-90 201.04 743.6)">Count</text>
<text x="211.5" y="813.97" font-size="5.3" font-weight="normal" fill="#222" text-anchor="middle" font-family="'Liberation Sans', sans-serif" dominant-baseline="central">-6,101</text>
<text x="249.5" y="811.5" font-size="5.6" font-family="'Liberation Sans', sans-serif" fill="#222" text-anchor="middle" dominant-baseline="central">-10<tspan font-size="4" dy="-2.2">2</tspan></text>
<text x="256" y="810.97" font-size="5.3" font-weight="normal" fill="#222" text-anchor="middle" font-family="'Liberation Sans', sans-serif" dominant-baseline="central">0</text>
<text x="267" y="811.5" font-size="5.6" font-family="'Liberation Sans', sans-serif" fill="#222" text-anchor="middle" dominant-baseline="central">10<tspan font-size="4" dy="-2.2">3</tspan></text>
<text x="308" y="811.5" font-size="5.6" font-family="'Liberation Sans', sans-serif" fill="#222" text-anchor="middle" dominant-baseline="central">10<tspan font-size="4" dy="-2.2">4</tspan></text>
<text x="344.5" y="811.5" font-size="5.6" font-family="'Liberation Sans', sans-serif" fill="#222" text-anchor="middle" dominant-baseline="central">10<tspan font-size="4" dy="-2.2">5</tspan></text>
<line x1="235" y1="801.1" x2="235" y2="804.3" stroke="#2a2a2a" stroke-width="0.7"/>
<line x1="245.99" y1="801.1" x2="245.99" y2="803.3" stroke="#2a2a2a" stroke-width="0.7"/>
<line x1="252.41" y1="801.1" x2="252.41" y2="803.3" stroke="#2a2a2a" stroke-width="0.7"/>
<line x1="256.98" y1="801.1" x2="256.98" y2="803.3" stroke="#2a2a2a" stroke-width="0.7"/>
<line x1="260.51" y1="801.1" x2="260.51" y2="803.3" stroke="#2a2a2a" stroke-width="0.7"/>
<line x1="263.4" y1="801.1" x2="263.4" y2="803.3" stroke="#2a2a2a" stroke-width="0.7"/>
<line x1="265.85" y1="801.1" x2="265.85" y2="803.3" stroke="#2a2a2a" stroke-width="0.7"/>
<line x1="267.96" y1="801.1" x2="267.96" y2="803.3" stroke="#2a2a2a" stroke-width="0.7"/>
<line x1="269.83" y1="801.1" x2="269.83" y2="803.3" stroke="#2a2a2a" stroke-width="0.7"/>
<line x1="271.5" y1="801.1" x2="271.5" y2="804.3" stroke="#2a2a2a" stroke-width="0.7"/>
<line x1="282.49" y1="801.1" x2="282.49" y2="803.3" stroke="#2a2a2a" stroke-width="0.7"/>
<line x1="288.91" y1="801.1" x2="288.91" y2="803.3" stroke="#2a2a2a" stroke-width="0.7"/>
<line x1="293.48" y1="801.1" x2="293.48" y2="803.3" stroke="#2a2a2a" stroke-width="0.7"/>
<line x1="297.01" y1="801.1" x2="297.01" y2="803.3" stroke="#2a2a2a" stroke-width="0.7"/>
<line x1="299.9" y1="801.1" x2="299.9" y2="803.3" stroke="#2a2a2a" stroke-width="0.7"/>
<line x1="302.35" y1="801.1" x2="302.35" y2="803.3" stroke="#2a2a2a" stroke-width="0.7"/>
<line x1="304.46" y1="801.1" x2="304.46" y2="803.3" stroke="#2a2a2a" stroke-width="0.7"/>
<line x1="306.33" y1="801.1" x2="306.33" y2="803.3" stroke="#2a2a2a" stroke-width="0.7"/>
<line x1="308" y1="801.1" x2="308" y2="804.3" stroke="#2a2a2a" stroke-width="0.7"/>
<line x1="318.99" y1="801.1" x2="318.99" y2="803.3" stroke="#2a2a2a" stroke-width="0.7"/>
<line x1="325.41" y1="801.1" x2="325.41" y2="803.3" stroke="#2a2a2a" stroke-width="0.7"/>
<line x1="329.98" y1="801.1" x2="329.98" y2="803.3" stroke="#2a2a2a" stroke-width="0.7"/>
<line x1="333.51" y1="801.1" x2="333.51" y2="803.3" stroke="#2a2a2a" stroke-width="0.7"/>
<line x1="336.4" y1="801.1" x2="336.4" y2="803.3" stroke="#2a2a2a" stroke-width="0.7"/>
<line x1="338.85" y1="801.1" x2="338.85" y2="803.3" stroke="#2a2a2a" stroke-width="0.7"/>
<line x1="340.96" y1="801.1" x2="340.96" y2="803.3" stroke="#2a2a2a" stroke-width="0.7"/>
<line x1="342.83" y1="801.1" x2="342.83" y2="803.3" stroke="#2a2a2a" stroke-width="0.7"/>
<line x1="344.5" y1="801.1" x2="344.5" y2="804.3" stroke="#2a2a2a" stroke-width="0.7"/>
<line x1="355.49" y1="801.1" x2="355.49" y2="803.3" stroke="#2a2a2a" stroke-width="0.7"/>
<line x1="243.5" y1="801.1" x2="243.5" y2="804.1" stroke="#2a2a2a" stroke-width="0.7"/>
<line x1="245" y1="801.1" x2="245" y2="803.3" stroke="#2a2a2a" stroke-width="0.7"/>
<line x1="246.5" y1="801.1" x2="246.5" y2="803.3" stroke="#2a2a2a" stroke-width="0.7"/>
<line x1="248" y1="801.1" x2="248" y2="803.3" stroke="#2a2a2a" stroke-width="0.7"/>
<line x1="249.5" y1="801.1" x2="249.5" y2="803.3" stroke="#2a2a2a" stroke-width="0.7"/>
<line x1="251" y1="801.1" x2="251" y2="804.1" stroke="#2a2a2a" stroke-width="0.7"/>
<line x1="252.5" y1="801.1" x2="252.5" y2="803.3" stroke="#2a2a2a" stroke-width="0.7"/>
<line x1="254" y1="801.1" x2="254" y2="803.3" stroke="#2a2a2a" stroke-width="0.7"/>
<line x1="255.5" y1="801.1" x2="255.5" y2="803.3" stroke="#2a2a2a" stroke-width="0.7"/>
<line x1="257" y1="801.1" x2="257" y2="803.3" stroke="#2a2a2a" stroke-width="0.7"/>
<line x1="258.5" y1="801.1" x2="258.5" y2="804.1" stroke="#2a2a2a" stroke-width="0.7"/>
<line x1="260" y1="801.1" x2="260" y2="803.3" stroke="#2a2a2a" stroke-width="0.7"/>
<line x1="261.5" y1="801.1" x2="261.5" y2="803.3" stroke="#2a2a2a" stroke-width="0.7"/>
<line x1="263" y1="801.1" x2="263" y2="803.3" stroke="#2a2a2a" stroke-width="0.7"/>
<line x1="264.5" y1="801.1" x2="264.5" y2="803.3" stroke="#2a2a2a" stroke-width="0.7"/>
<line x1="266" y1="801.1" x2="266" y2="804.1" stroke="#2a2a2a" stroke-width="0.7"/>
<line x1="267.5" y1="801.1" x2="267.5" y2="803.3" stroke="#2a2a2a" stroke-width="0.7"/>
<line x1="269" y1="801.1" x2="269" y2="803.3" stroke="#2a2a2a" stroke-width="0.7"/>
<line x1="217" y1="801.1" x2="217" y2="803.5" stroke="#2a2a2a" stroke-width="0.7"/>
<line x1="219.9" y1="801.1" x2="219.9" y2="803.5" stroke="#2a2a2a" stroke-width="0.7"/>
<line x1="222.8" y1="801.1" x2="222.8" y2="803.5" stroke="#2a2a2a" stroke-width="0.7"/>
<line x1="225.7" y1="801.1" x2="225.7" y2="803.5" stroke="#2a2a2a" stroke-width="0.7"/>
<line x1="228.6" y1="801.1" x2="228.6" y2="803.5" stroke="#2a2a2a" stroke-width="0.7"/>
<line x1="231.5" y1="801.1" x2="231.5" y2="803.5" stroke="#2a2a2a" stroke-width="0.7"/>
<line x1="234.4" y1="801.1" x2="234.4" y2="803.5" stroke="#2a2a2a" stroke-width="0.7"/>
<line x1="237.3" y1="801.1" x2="237.3" y2="803.5" stroke="#2a2a2a" stroke-width="0.7"/>
<line x1="240.2" y1="801.1" x2="240.2" y2="803.5" stroke="#2a2a2a" stroke-width="0.7"/>
<rect x="250" y="801.1" width="12" height="2.8" fill="#222"/>
<text x="286.3" y="814.84" font-size="6.6" font-weight="normal" fill="#222" text-anchor="middle" font-family="'Liberation Sans', sans-serif" dominant-baseline="central">DAPI-A</text>
<text x="284.9" y="826.76" font-size="9.4" font-weight="bold" fill="#000" text-anchor="middle" font-family="'Liberation Serif', serif" dominant-baseline="central">FMX783+Rif</text>
<path d="M384.8 801.6 L384.8 801.1 L385.3 801.59 L385.8 798.48 L386.3 797.34 L386.8 798.49 L387.3 797.27 L387.8 794.4 L388.3 792.15 L388.8 791.89 L389.3 789.37 L389.8 786.23 L390.3 786.08 L390.8 786.08 L391.3 781.66 L391.8 775.97 L392.3 776.52 L392.8 772.64 L393.3 771.35 L393.8 776.43 L394.3 768.2 L394.8 766.54 L395.3 762.85 L395.8 763.81 L396.3 758.47 L396.8 759.58 L397.3 755.82 L397.8 750.27 L398.3 745.72 L398.8 744.01 L399.3 739.91 L399.8 734.69 L400.3 750.59 L400.8 742.83 L401.3 738.25 L401.8 740.97 L402.3 739.46 L402.8 730.87 L403.3 726.69 L403.8 740.88 L404.3 733.56 L404.8 724.57 L405.3 716.83 L405.8 732.05 L406.3 708.65 L406.8 713.62 L407.3 716.13 L407.8 711.25 L408.3 711.55 L408.8 714.45 L409.3 712.75 L409.8 704.78 L410.3 699.15 L410.8 706.26 L411.3 708.75 L411.8 713.79 L412.3 721.26 L412.8 705.74 L413.3 708.03 L413.8 705.94 L414.3 702.78 L414.8 698.17 L415.3 710.02 L415.8 706.33 L416.3 712.17 L416.8 692.27 L417.3 699.2 L417.8 694.85 L418.3 694.5 L418.3 694.73 L418.8 700.41 L419.3 703.65 L419.8 696.13 L420.3 710.69 L420.8 702.35 L421.3 696.76 L421.8 701.08 L422.3 703.08 L422.8 713.28 L423.3 701.79 L423.8 708.2 L424.3 702.48 L424.8 709.88 L425 696 L425.3 701.5 L425.8 713.11 L426.3 700.24 L426.8 706.46 L427.3 698.36 L427.8 696.01 L428.3 704.31 L428.8 709.24 L429.3 696.82 L429.8 714.15 L430.3 711.62 L430.8 713.03 L431.3 707.71 L431.8 701.85 L432.3 707.36 L432.8 699.09 L433.3 708.07 L433.8 711.71 L434.3 714.25 L434.8 722.49 L435.3 706.54 L435.8 724 L436.3 718.06 L436.8 714.68 L437.3 722.82 L437.8 712.26 L438.3 716.95 L438.8 721.52 L439.3 723.54 L439.8 721.06 L440.3 723.67 L440.8 725.75 L441.3 716.2 L441.8 720.57 L442.3 725.29 L442.8 726.17 L443.3 729.83 L443.8 722.37 L444.3 721.58 L444.8 723.82 L445.3 719.42 L445.8 727.67 L446.3 730.54 L446.8 732.64 L447.3 725.75 L447.8 728.25 L448.3 726.03 L448.8 724.73 L449.3 721.44 L449.8 729.11 L450.3 732.33 L450.8 731.2 L451.3 728.13 L451.8 736.36 L452.3 727.55 L452.8 741.68 L453.3 730.33 L453.8 734.8 L454.3 738 L454.8 748.51 L455.3 742.3 L455.8 745.31 L456.3 745.52 L456.8 749.55 L457.3 750.49 L457.8 750.96 L458.3 744.52 L458.8 752.86 L459.3 743.33 L459.8 750.56 L460.3 747.12 L460.8 748.23 L461.3 748.89 L461.8 756.06 L462.3 754.98 L462.8 757.99 L463.3 761.54 L463.8 753.79 L464.3 756.69 L464.8 761.35 L465.3 758.47 L465.8 763.69 L466.3 761.34 L466.8 765.48 L467.3 770 L467.8 763.56 L468.3 767.81 L468.8 766.52 L469.3 773.6 L469.8 772.8 L470.3 774.36 L470.8 783.13 L471.3 778.71 L471.8 775.01 L472.3 778.77 L472.8 776.13 L473.3 782.47 L473.8 780.22 L474.3 782.87 L474.8 776.05 L475.3 783.37 L475.8 783.18 L476.3 785.51 L476.8 780.46 L477.3 783.79 L477.8 783.98 L478.3 787.72 L478.8 787.12 L479.3 785.32 L479.8 784.85 L480.3 787.55 L480.8 790.08 L481.3 787.17 L481.8 785.13 L482.3 791.18 L482.8 789.41 L483.3 793.74 L483.8 790.31 L484.3 787.4 L484.8 791.56 L485.3 789.46 L485.8 793.13 L486.3 792 L486.8 792.71 L487.3 792.47 L487.8 795.41 L488.3 792.81 L488.8 795.2 L489.3 795.39 L489.8 794.72 L490.3 795.3 L490.8 793.63 L491.3 796.51 L491.8 795.32 L492.3 795.32 L492.8 796.01 L493.3 795.7 L493.8 796.59 L494.3 796.23 L494.8 799.08 L495.3 795.5 L495.8 797.89 L496.3 797.61 L496.8 797.63 L497.3 797.51 L497.8 798.39 L498.3 798.3 L498.8 797.47 L499.3 798.42 L499.8 798.6 L500.3 799.85 L500.8 799.45 L501.3 798.85 L501.8 799.49 L502.3 798.47 L502.8 799.8 L503.3 800.34 L503.8 800.44 L504.3 799.4 L504.8 800.16 L505.3 800.22 L505.8 801.5 L506.3 799.98 L506.8 801 L507.3 800.15 L507.8 800.26 L508.3 800.18 L508.8 800.94 L509.3 800.23 L509.8 800.84 L510.3 800.92 L510.8 801 L511.3 801.08 L511.4 801.6 Z" fill="#57ff74" stroke="#3cd23e" stroke-width="0.55" stroke-linejoin="miter"/>
<line x1="376.9" y1="691.2" x2="518.4" y2="691.2" stroke="#333" stroke-width="0.9"/>
<line x1="518.4" y1="691.2" x2="518.4" y2="801.6" stroke="#333" stroke-width="0.9"/>
<line x1="376.9" y1="690.9" x2="376.9" y2="802.1" stroke="#8a8a8a" stroke-width="1.1"/>
<line x1="374.4" y1="801.6" x2="518.4" y2="801.6" stroke="#333" stroke-width="0.9"/>
<line x1="383.6" y1="691.2" x2="383.6" y2="801.6" stroke="#000" stroke-width="0.85" stroke-opacity="0.42"/>
<line x1="440.2" y1="691.2" x2="440.2" y2="801.6" stroke="#000" stroke-width="0.85" stroke-opacity="0.42"/>
<line x1="471.2" y1="691.2" x2="471.2" y2="801.6" stroke="#000" stroke-width="0.85" stroke-opacity="0.42"/>
<line x1="514.4" y1="691.2" x2="514.4" y2="801.6" stroke="#000" stroke-width="0.85" stroke-opacity="0.42"/>
<line x1="383.6" y1="746.5" x2="440.2" y2="746.5" stroke="#000" stroke-width="0.85" stroke-opacity="0.38"/>
<line x1="440.2" y1="748.3" x2="471.2" y2="748.3" stroke="#000" stroke-width="0.9" stroke-opacity="0.82"/>
<line x1="471.2" y1="785.5" x2="514.4" y2="785.5" stroke="#000" stroke-width="0.9" stroke-opacity="0.82"/>
<text x="405.4" y="705.98" font-size="6.2" font-weight="normal" fill="#222" text-anchor="middle" font-family="'Liberation Sans', sans-serif" dominant-baseline="central">1N</text>
<text x="448.1" y="701.68" font-size="6.2" font-weight="normal" fill="#222" text-anchor="middle" font-family="'Liberation Sans', sans-serif" dominant-baseline="central">2N</text>
<text x="495.3" y="705.38" font-size="6.2" font-weight="normal" fill="#222" text-anchor="middle" font-family="'Liberation Sans', sans-serif" dominant-baseline="central">4N</text>
<line x1="372.3" y1="801.6" x2="376.9" y2="801.6" stroke="#333" stroke-width="0.7"/>
<text x="370.06" y="801.6" font-size="5.4" font-weight="normal" fill="#222" text-anchor="middle" font-family="'Liberation Sans', sans-serif" dominant-baseline="central" transform="rotate(-90 370.06 801.6)">0</text>
<line x1="374.9" y1="796.26" x2="376.9" y2="796.26" stroke="#333" stroke-width="0.6"/>
<line x1="374.9" y1="790.92" x2="376.9" y2="790.92" stroke="#333" stroke-width="0.6"/>
<line x1="374.9" y1="785.58" x2="376.9" y2="785.58" stroke="#333" stroke-width="0.6"/>
<line x1="374.9" y1="780.24" x2="376.9" y2="780.24" stroke="#333" stroke-width="0.6"/>
<line x1="372.3" y1="774.9" x2="376.9" y2="774.9" stroke="#333" stroke-width="0.7"/>
<text x="370.06" y="774.9" font-size="5.4" font-weight="normal" fill="#222" text-anchor="middle" font-family="'Liberation Sans', sans-serif" dominant-baseline="central" transform="rotate(-90 370.06 774.9)">50</text>
<line x1="374.9" y1="769.56" x2="376.9" y2="769.56" stroke="#333" stroke-width="0.6"/>
<line x1="374.9" y1="764.22" x2="376.9" y2="764.22" stroke="#333" stroke-width="0.6"/>
<line x1="374.9" y1="758.88" x2="376.9" y2="758.88" stroke="#333" stroke-width="0.6"/>
<line x1="374.9" y1="753.54" x2="376.9" y2="753.54" stroke="#333" stroke-width="0.6"/>
<line x1="372.3" y1="748.2" x2="376.9" y2="748.2" stroke="#333" stroke-width="0.7"/>
<text x="370.06" y="748.2" font-size="5.4" font-weight="normal" fill="#222" text-anchor="middle" font-family="'Liberation Sans', sans-serif" dominant-baseline="central" transform="rotate(-90 370.06 748.2)">100</text>
<line x1="374.9" y1="742.86" x2="376.9" y2="742.86" stroke="#333" stroke-width="0.6"/>
<line x1="374.9" y1="737.52" x2="376.9" y2="737.52" stroke="#333" stroke-width="0.6"/>
<line x1="374.9" y1="732.18" x2="376.9" y2="732.18" stroke="#333" stroke-width="0.6"/>
<line x1="374.9" y1="726.84" x2="376.9" y2="726.84" stroke="#333" stroke-width="0.6"/>
<line x1="372.3" y1="721.5" x2="376.9" y2="721.5" stroke="#333" stroke-width="0.7"/>
<text x="370.06" y="721.5" font-size="5.4" font-weight="normal" fill="#222" text-anchor="middle" font-family="'Liberation Sans', sans-serif" dominant-baseline="central" transform="rotate(-90 370.06 721.5)">150</text>
<line x1="374.9" y1="716.16" x2="376.9" y2="716.16" stroke="#333" stroke-width="0.6"/>
<line x1="374.9" y1="710.82" x2="376.9" y2="710.82" stroke="#333" stroke-width="0.6"/>
<line x1="374.9" y1="705.48" x2="376.9" y2="705.48" stroke="#333" stroke-width="0.6"/>
<line x1="374.9" y1="700.14" x2="376.9" y2="700.14" stroke="#333" stroke-width="0.6"/>
<line x1="372.3" y1="694.8" x2="376.9" y2="694.8" stroke="#333" stroke-width="0.7"/>
<text x="370.06" y="694.8" font-size="5.4" font-weight="normal" fill="#222" text-anchor="middle" font-family="'Liberation Sans', sans-serif" dominant-baseline="central" transform="rotate(-90 370.06 694.8)">200</text>
<text x="362.04" y="744.5" font-size="6.6" font-weight="normal" fill="#222" text-anchor="middle" font-family="'Liberation Sans', sans-serif" dominant-baseline="central" transform="rotate(-90 362.04 744.5)">Count</text>
<text x="376" y="814.97" font-size="5.3" font-weight="normal" fill="#222" text-anchor="middle" font-family="'Liberation Sans', sans-serif" dominant-baseline="central">-1,959</text>
<text x="410.5" y="811.47" font-size="5.3" font-weight="normal" fill="#222" text-anchor="middle" font-family="'Liberation Sans', sans-serif" dominant-baseline="central">0</text>
<text x="431.5" y="812" font-size="5.6" font-family="'Liberation Sans', sans-serif" fill="#222" text-anchor="middle" dominant-baseline="central">10<tspan font-size="4" dy="-2.2">3</tspan></text>
<text x="471.5" y="812" font-size="5.6" font-family="'Liberation Sans', sans-serif" fill="#222" text-anchor="middle" dominant-baseline="central">10<tspan font-size="4" dy="-2.2">4</tspan></text>
<text x="504" y="812" font-size="5.6" font-family="'Liberation Sans', sans-serif" fill="#222" text-anchor="middle" dominant-baseline="central">10<tspan font-size="4" dy="-2.2">5</tspan></text>
<line x1="406.5" y1="801.6" x2="406.5" y2="804.8" stroke="#2a2a2a" stroke-width="0.7"/>
<line x1="416.28" y1="801.6" x2="416.28" y2="803.8" stroke="#2a2a2a" stroke-width="0.7"/>
<line x1="422.01" y1="801.6" x2="422.01" y2="803.8" stroke="#2a2a2a" stroke-width="0.7"/>
<line x1="426.07" y1="801.6" x2="426.07" y2="803.8" stroke="#2a2a2a" stroke-width="0.7"/>
<line x1="429.22" y1="801.6" x2="429.22" y2="803.8" stroke="#2a2a2a" stroke-width="0.7"/>
<line x1="431.79" y1="801.6" x2="431.79" y2="803.8" stroke="#2a2a2a" stroke-width="0.7"/>
<line x1="433.97" y1="801.6" x2="433.97" y2="803.8" stroke="#2a2a2a" stroke-width="0.7"/>
<line x1="435.85" y1="801.6" x2="435.85" y2="803.8" stroke="#2a2a2a" stroke-width="0.7"/>
<line x1="437.51" y1="801.6" x2="437.51" y2="803.8" stroke="#2a2a2a" stroke-width="0.7"/>
<line x1="439" y1="801.6" x2="439" y2="804.8" stroke="#2a2a2a" stroke-width="0.7"/>
<line x1="448.78" y1="801.6" x2="448.78" y2="803.8" stroke="#2a2a2a" stroke-width="0.7"/>
<line x1="454.51" y1="801.6" x2="454.51" y2="803.8" stroke="#2a2a2a" stroke-width="0.7"/>
<line x1="458.57" y1="801.6" x2="458.57" y2="803.8" stroke="#2a2a2a" stroke-width="0.7"/>
<line x1="461.72" y1="801.6" x2="461.72" y2="803.8" stroke="#2a2a2a" stroke-width="0.7"/>
<line x1="464.29" y1="801.6" x2="464.29" y2="803.8" stroke="#2a2a2a" stroke-width="0.7"/>
<line x1="466.47" y1="801.6" x2="466.47" y2="803.8" stroke="#2a2a2a" stroke-width="0.7"/>
<line x1="468.35" y1="801.6" x2="468.35" y2="803.8" stroke="#2a2a2a" stroke-width="0.7"/>
<line x1="470.01" y1="801.6" x2="470.01" y2="803.8" stroke="#2a2a2a" stroke-width="0.7"/>
<line x1="471.5" y1="801.6" x2="471.5" y2="804.8" stroke="#2a2a2a" stroke-width="0.7"/>
<line x1="481.28" y1="801.6" x2="481.28" y2="803.8" stroke="#2a2a2a" stroke-width="0.7"/>
<line x1="487.01" y1="801.6" x2="487.01" y2="803.8" stroke="#2a2a2a" stroke-width="0.7"/>
<line x1="491.07" y1="801.6" x2="491.07" y2="803.8" stroke="#2a2a2a" stroke-width="0.7"/>
<line x1="494.22" y1="801.6" x2="494.22" y2="803.8" stroke="#2a2a2a" stroke-width="0.7"/>
<line x1="496.79" y1="801.6" x2="496.79" y2="803.8" stroke="#2a2a2a" stroke-width="0.7"/>
<line x1="498.97" y1="801.6" x2="498.97" y2="803.8" stroke="#2a2a2a" stroke-width="0.7"/>
<line x1="500.85" y1="801.6" x2="500.85" y2="803.8" stroke="#2a2a2a" stroke-width="0.7"/>
<line x1="502.51" y1="801.6" x2="502.51" y2="803.8" stroke="#2a2a2a" stroke-width="0.7"/>
<line x1="504" y1="801.6" x2="504" y2="804.8" stroke="#2a2a2a" stroke-width="0.7"/>
<line x1="513.78" y1="801.6" x2="513.78" y2="803.8" stroke="#2a2a2a" stroke-width="0.7"/>
<line x1="386" y1="801.6" x2="386" y2="804.6" stroke="#2a2a2a" stroke-width="0.7"/>
<line x1="387.5" y1="801.6" x2="387.5" y2="803.8" stroke="#2a2a2a" stroke-width="0.7"/>
<line x1="389" y1="801.6" x2="389" y2="803.8" stroke="#2a2a2a" stroke-width="0.7"/>
<line x1="390.5" y1="801.6" x2="390.5" y2="803.8" stroke="#2a2a2a" stroke-width="0.7"/>
<line x1="392" y1="801.6" x2="392" y2="803.8" stroke="#2a2a2a" stroke-width="0.7"/>
<line x1="393.5" y1="801.6" x2="393.5" y2="804.6" stroke="#2a2a2a" stroke-width="0.7"/>
<line x1="395" y1="801.6" x2="395" y2="803.8" stroke="#2a2a2a" stroke-width="0.7"/>
<line x1="396.5" y1="801.6" x2="396.5" y2="803.8" stroke="#2a2a2a" stroke-width="0.7"/>
<line x1="398" y1="801.6" x2="398" y2="803.8" stroke="#2a2a2a" stroke-width="0.7"/>
<line x1="399.5" y1="801.6" x2="399.5" y2="803.8" stroke="#2a2a2a" stroke-width="0.7"/>
<line x1="401" y1="801.6" x2="401" y2="804.6" stroke="#2a2a2a" stroke-width="0.7"/>
<line x1="402.5" y1="801.6" x2="402.5" y2="803.8" stroke="#2a2a2a" stroke-width="0.7"/>
<line x1="404" y1="801.6" x2="404" y2="803.8" stroke="#2a2a2a" stroke-width="0.7"/>
<line x1="405.5" y1="801.6" x2="405.5" y2="803.8" stroke="#2a2a2a" stroke-width="0.7"/>
<line x1="407" y1="801.6" x2="407" y2="803.8" stroke="#2a2a2a" stroke-width="0.7"/>
<line x1="408.5" y1="801.6" x2="408.5" y2="804.6" stroke="#2a2a2a" stroke-width="0.7"/>
<line x1="410" y1="801.6" x2="410" y2="803.8" stroke="#2a2a2a" stroke-width="0.7"/>
<line x1="411.5" y1="801.6" x2="411.5" y2="803.8" stroke="#2a2a2a" stroke-width="0.7"/>
<line x1="413" y1="801.6" x2="413" y2="803.8" stroke="#2a2a2a" stroke-width="0.7"/>
<line x1="414.5" y1="801.6" x2="414.5" y2="803.8" stroke="#2a2a2a" stroke-width="0.7"/>
<line x1="416" y1="801.6" x2="416" y2="804.6" stroke="#2a2a2a" stroke-width="0.7"/>
<line x1="417.5" y1="801.6" x2="417.5" y2="803.8" stroke="#2a2a2a" stroke-width="0.7"/>
<line x1="419" y1="801.6" x2="419" y2="803.8" stroke="#2a2a2a" stroke-width="0.7"/>
<line x1="420.5" y1="801.6" x2="420.5" y2="803.8" stroke="#2a2a2a" stroke-width="0.7"/>
<line x1="422" y1="801.6" x2="422" y2="803.8" stroke="#2a2a2a" stroke-width="0.7"/>
<line x1="423.5" y1="801.6" x2="423.5" y2="804.6" stroke="#2a2a2a" stroke-width="0.7"/>
<line x1="425" y1="801.6" x2="425" y2="803.8" stroke="#2a2a2a" stroke-width="0.7"/>
<line x1="426.5" y1="801.6" x2="426.5" y2="803.8" stroke="#2a2a2a" stroke-width="0.7"/>
<line x1="428" y1="801.6" x2="428" y2="803.8" stroke="#2a2a2a" stroke-width="0.7"/>
<line x1="429.5" y1="801.6" x2="429.5" y2="803.8" stroke="#2a2a2a" stroke-width="0.7"/>
<line x1="431" y1="801.6" x2="431" y2="804.6" stroke="#2a2a2a" stroke-width="0.7"/>
<line x1="432.5" y1="801.6" x2="432.5" y2="803.8" stroke="#2a2a2a" stroke-width="0.7"/>
<line x1="434" y1="801.6" x2="434" y2="803.8" stroke="#2a2a2a" stroke-width="0.7"/>
<text x="446.9" y="815.54" font-size="6.6" font-weight="normal" fill="#222" text-anchor="middle" font-family="'Liberation Sans', sans-serif" dominant-baseline="central">DAPI-A</text>
<text x="446.9" y="826.46" font-size="9.4" font-weight="bold" fill="#000" text-anchor="middle" font-family="'Liberation Serif', serif" dominant-baseline="central">FMX892</text>
<path d="M544 803 L544 802.8 L544.5 802.79 L545 802.78 L545.5 802.77 L546 802.76 L546.5 802.75 L547 802.74 L547.5 802.73 L548 802.72 L548.5 802.72 L549 802.71 L549.5 802.7 L550 802.69 L550.5 802.68 L551 802.67 L551.5 802.66 L552 802.65 L552.5 802.64 L553 802.63 L553.5 802.62 L554 802.61 L554.5 802.6 L555 802.59 L555.5 802.58 L556 802.58 L556.5 802.57 L557 802.56 L557.5 802.55 L558 802.54 L558.5 802.53 L559 802.52 L559.5 802.51 L560 802.5 L560.5 802.49 L561 802.47 L561.5 802.46 L562 802.44 L562.5 802.43 L563 802.41 L563.5 802.4 L564 802.38 L564.5 802.37 L565 802.35 L565.5 802.34 L566 802.32 L566.5 802.31 L567 802.29 L567.5 802.28 L568 802.26 L568.5 802.25 L569 802.23 L569.5 802.22 L570 802.2 L570.5 802.64 L571 801.92 L571.5 802.45 L572 802.1 L572.5 801.54 L573 801.81 L573.5 802.32 L574 801.4 L574.5 801.95 L575 802.41 L575.5 802.14 L576 801.94 L576.5 801.95 L577 802.06 L577.5 802.66 L578 802.19 L578.5 801.77 L579 802.04 L579.5 801.49 L580 801.87 L580.5 801.59 L581 802.3 L581.5 802.34 L582 802.16 L582.5 801.83 L583 801.7 L583.5 801.86 L584 801.59 L584.5 801.37 L585 801.8 L585.5 801.79 L586 801.76 L586.5 801.11 L587 801.02 L587.5 800.72 L588 800.47 L588.5 799.86 L589 799.94 L589.5 800.87 L590 800.54 L590.5 800.51 L591 799.99 L591.5 800.25 L592 799.78 L592.5 799.26 L593 800.45 L593.5 799.3 L594 798.51 L594.5 797.52 L595 798.26 L595.5 798.53 L596 797.8 L596.5 796.27 L597 796.88 L597.5 796.99 L598 796.82 L598.5 795.64 L599 796.31 L599.5 793.53 L600 793.84 L600.5 795.15 L601 793.93 L601.5 792.42 L602 792.25 L602.5 790.35 L603 789.79 L603.5 790.18 L604 791.39 L604.5 789.09 L605 790.48 L605.5 788.43 L606 785.59 L606.5 782.84 L607 782.12 L607.5 782.27 L608 778.57 L608.5 777.22 L609 771.85 L609.5 771.37 L610 767.96 L610.5 766.65 L611 762.19 L611.5 759.53 L612 757.14 L612.5 757.16 L613 750.44 L613.5 749.14 L614 746.36 L614.5 741.1 L615 738.25 L615.5 734.97 L616 734.88 L616.5 726.96 L617 725.08 L617.5 725.59 L618 728.02 L618.5 718.37 L619 720.2 L619.5 713.6 L620 714.12 L620.5 703.59 L621 709.23 L621.5 705.6 L622 706.17 L622.5 703.55 L623 699.28 L623.5 693.77 L624 692 L624.5 697.2 L625 692 L625.5 695.44 L625.8 691.8 L626 695.02 L626.5 696.19 L627 698.07 L627.5 700.14 L628 702.52 L628.5 704.36 L629 711.08 L629.5 709.11 L630 717.71 L630.5 719.32 L631 718.87 L631.5 730.27 L632 733.96 L632.5 735.89 L633 741.85 L633.5 744.95 L634 749.94 L634.5 751.8 L635 751.6 L635.5 759.93 L636 764.72 L636.5 764.43 L637 767.91 L637.5 774.75 L638 773.63 L638.5 775.11 L639 777.6 L639.5 779.29 L640 778.23 L640.5 781.51 L641 782.4 L641.5 784.55 L642 785.38 L642.5 786.45 L643 784.67 L643.5 785.51 L644 788.05 L644.5 787.72 L645 787.88 L645.5 786.01 L646 787.65 L646.5 787.72 L647 787.47 L647.5 789.33 L648 789.85 L648.5 790.23 L649 790.42 L649.5 790.91 L650 792.05 L650.5 792.46 L651 793.11 L651.5 794.03 L652 792.55 L652.5 793.52 L653 795.44 L653.5 794.91 L654 796.69 L654.5 795.38 L655 793.79 L655.5 795.46 L656 796.08 L656.5 795.91 L657 797.51 L657.5 797.41 L658 797.82 L658.5 796.92 L659 797.28 L659.5 798.49 L660 798.64 L660.5 797.69 L661 800.28 L661.5 798.93 L662 800.49 L662.5 799.6 L663 800.12 L663.5 800.38 L664 800.18 L664.5 800.15 L665 800.22 L665.5 801.23 L666 801.66 L666.5 800.08 L667 801.13 L667.5 801.16 L668 801.27 L668.5 801.51 L669 801.79 L669.5 802.72 L670 802.24 L670.5 802.43 L671 802.62 L671.5 802.81 L672 803 L672 803 Z" fill="#57ff74" stroke="#3cd23e" stroke-width="0.55" stroke-linejoin="miter"/>
<line x1="539.5" y1="691.5" x2="683.8" y2="691.5" stroke="#333" stroke-width="0.9"/>
<line x1="683.8" y1="691.5" x2="683.8" y2="803" stroke="#333" stroke-width="0.9"/>
<line x1="539.5" y1="691.2" x2="539.5" y2="803.5" stroke="#8a8a8a" stroke-width="1.1"/>
<line x1="537" y1="803" x2="683.8" y2="803" stroke="#333" stroke-width="0.9"/>
<line x1="543.7" y1="691.5" x2="543.7" y2="803" stroke="#000" stroke-width="0.85" stroke-opacity="0.42"/>
<line x1="606.3" y1="691.5" x2="606.3" y2="803" stroke="#000" stroke-width="0.85" stroke-opacity="0.42"/>
<line x1="638.5" y1="691.5" x2="638.5" y2="803" stroke="#000" stroke-width="0.85" stroke-opacity="0.42"/>
<line x1="681" y1="691.5" x2="681" y2="803" stroke="#000" stroke-width="0.85" stroke-opacity="0.42"/>
<line x1="543.7" y1="748.1" x2="606.3" y2="748.1" stroke="#000" stroke-width="0.85" stroke-opacity="0.38"/>
<line x1="606.3" y1="748.5" x2="638.5" y2="748.5" stroke="#000" stroke-width="0.9" stroke-opacity="0.82"/>
<line x1="638.5" y1="743.9" x2="681" y2="743.9" stroke="#000" stroke-width="0.85" stroke-opacity="0.38"/>
<text x="568.9" y="706.58" font-size="6.2" font-weight="normal" fill="#222" text-anchor="middle" font-family="'Liberation Sans', sans-serif" dominant-baseline="central">1N</text>
<text x="614.2" y="701.88" font-size="6.2" font-weight="normal" fill="#222" text-anchor="middle" font-family="'Liberation Sans', sans-serif" dominant-baseline="central">2N</text>
<text x="661.7" y="705.88" font-size="6.2" font-weight="normal" fill="#222" text-anchor="middle" font-family="'Liberation Sans', sans-serif" dominant-baseline="central">4N</text>
<line x1="534.9" y1="803" x2="539.5" y2="803" stroke="#333" stroke-width="0.7"/>
<text x="532.66" y="803" font-size="5.4" font-weight="normal" fill="#222" text-anchor="middle" font-family="'Liberation Sans', sans-serif" dominant-baseline="central" transform="rotate(-90 532.66 803)">0</text>
<line x1="537.5" y1="800.02" x2="539.5" y2="800.02" stroke="#333" stroke-width="0.6"/>
<line x1="537.5" y1="797.04" x2="539.5" y2="797.04" stroke="#333" stroke-width="0.6"/>
<line x1="537.5" y1="794.06" x2="539.5" y2="794.06" stroke="#333" stroke-width="0.6"/>
<line x1="537.5" y1="791.08" x2="539.5" y2="791.08" stroke="#333" stroke-width="0.6"/>
<line x1="534.9" y1="788.1" x2="539.5" y2="788.1" stroke="#333" stroke-width="0.7"/>
<text x="532.66" y="788.1" font-size="5.4" font-weight="normal" fill="#222" text-anchor="middle" font-family="'Liberation Sans', sans-serif" dominant-baseline="central" transform="rotate(-90 532.66 788.1)">100</text>
<line x1="537.5" y1="785.12" x2="539.5" y2="785.12" stroke="#333" stroke-width="0.6"/>
<line x1="537.5" y1="782.14" x2="539.5" y2="782.14" stroke="#333" stroke-width="0.6"/>
<line x1="537.5" y1="779.16" x2="539.5" y2="779.16" stroke="#333" stroke-width="0.6"/>
<line x1="537.5" y1="776.18" x2="539.5" y2="776.18" stroke="#333" stroke-width="0.6"/>
<line x1="534.9" y1="773.2" x2="539.5" y2="773.2" stroke="#333" stroke-width="0.7"/>
<text x="532.66" y="773.2" font-size="5.4" font-weight="normal" fill="#222" text-anchor="middle" font-family="'Liberation Sans', sans-serif" dominant-baseline="central" transform="rotate(-90 532.66 773.2)">200</text>
<line x1="537.5" y1="770.22" x2="539.5" y2="770.22" stroke="#333" stroke-width="0.6"/>
<line x1="537.5" y1="767.24" x2="539.5" y2="767.24" stroke="#333" stroke-width="0.6"/>
<line x1="537.5" y1="764.26" x2="539.5" y2="764.26" stroke="#333" stroke-width="0.6"/>
<line x1="537.5" y1="761.28" x2="539.5" y2="761.28" stroke="#333" stroke-width="0.6"/>
<line x1="534.9" y1="758.3" x2="539.5" y2="758.3" stroke="#333" stroke-width="0.7"/>
<text x="532.66" y="758.3" font-size="5.4" font-weight="normal" fill="#222" text-anchor="middle" font-family="'Liberation Sans', sans-serif" dominant-baseline="central" transform="rotate(-90 532.66 758.3)">300</text>
<line x1="537.5" y1="755.32" x2="539.5" y2="755.32" stroke="#333" stroke-width="0.6"/>
<line x1="537.5" y1="752.34" x2="539.5" y2="752.34" stroke="#333" stroke-width="0.6"/>
<line x1="537.5" y1="749.36" x2="539.5" y2="749.36" stroke="#333" stroke-width="0.6"/>
<line x1="537.5" y1="746.38" x2="539.5" y2="746.38" stroke="#333" stroke-width="0.6"/>
<line x1="534.9" y1="743.4" x2="539.5" y2="743.4" stroke="#333" stroke-width="0.7"/>
<text x="532.66" y="743.4" font-size="5.4" font-weight="normal" fill="#222" text-anchor="middle" font-family="'Liberation Sans', sans-serif" dominant-baseline="central" transform="rotate(-90 532.66 743.4)">400</text>
<line x1="537.5" y1="740.42" x2="539.5" y2="740.42" stroke="#333" stroke-width="0.6"/>
<line x1="537.5" y1="737.44" x2="539.5" y2="737.44" stroke="#333" stroke-width="0.6"/>
<line x1="537.5" y1="734.46" x2="539.5" y2="734.46" stroke="#333" stroke-width="0.6"/>
<line x1="537.5" y1="731.48" x2="539.5" y2="731.48" stroke="#333" stroke-width="0.6"/>
<line x1="534.9" y1="728.5" x2="539.5" y2="728.5" stroke="#333" stroke-width="0.7"/>
<text x="532.66" y="728.5" font-size="5.4" font-weight="normal" fill="#222" text-anchor="middle" font-family="'Liberation Sans', sans-serif" dominant-baseline="central" transform="rotate(-90 532.66 728.5)">500</text>
<line x1="537.5" y1="725.52" x2="539.5" y2="725.52" stroke="#333" stroke-width="0.6"/>
<line x1="537.5" y1="722.54" x2="539.5" y2="722.54" stroke="#333" stroke-width="0.6"/>
<line x1="537.5" y1="719.56" x2="539.5" y2="719.56" stroke="#333" stroke-width="0.6"/>
<line x1="537.5" y1="716.58" x2="539.5" y2="716.58" stroke="#333" stroke-width="0.6"/>
<line x1="534.9" y1="713.6" x2="539.5" y2="713.6" stroke="#333" stroke-width="0.7"/>
<text x="532.66" y="713.6" font-size="5.4" font-weight="normal" fill="#222" text-anchor="middle" font-family="'Liberation Sans', sans-serif" dominant-baseline="central" transform="rotate(-90 532.66 713.6)">600</text>
<line x1="537.5" y1="710.62" x2="539.5" y2="710.62" stroke="#333" stroke-width="0.6"/>
<line x1="537.5" y1="707.64" x2="539.5" y2="707.64" stroke="#333" stroke-width="0.6"/>
<line x1="537.5" y1="704.66" x2="539.5" y2="704.66" stroke="#333" stroke-width="0.6"/>
<line x1="537.5" y1="701.68" x2="539.5" y2="701.68" stroke="#333" stroke-width="0.6"/>
<line x1="534.9" y1="698.7" x2="539.5" y2="698.7" stroke="#333" stroke-width="0.7"/>
<text x="532.66" y="698.7" font-size="5.4" font-weight="normal" fill="#222" text-anchor="middle" font-family="'Liberation Sans', sans-serif" dominant-baseline="central" transform="rotate(-90 532.66 698.7)">700</text>
<line x1="537.5" y1="695.72" x2="539.5" y2="695.72" stroke="#333" stroke-width="0.6"/>
<line x1="537.5" y1="692.74" x2="539.5" y2="692.74" stroke="#333" stroke-width="0.6"/>
<text x="524.74" y="745" font-size="6.6" font-weight="normal" fill="#222" text-anchor="middle" font-family="'Liberation Sans', sans-serif" dominant-baseline="central" transform="rotate(-90 524.74 745)">Count</text>
<text x="535.5" y="816.27" font-size="5.3" font-weight="normal" fill="#222" text-anchor="middle" font-family="'Liberation Sans', sans-serif" dominant-baseline="central">-1,427</text>
<text x="570.5" y="813.27" font-size="5.3" font-weight="normal" fill="#222" text-anchor="middle" font-family="'Liberation Sans', sans-serif" dominant-baseline="central">0</text>
<text x="596.2" y="813.8" font-size="5.6" font-family="'Liberation Sans', sans-serif" fill="#222" text-anchor="middle" dominant-baseline="central">10<tspan font-size="4" dy="-2.2">3</tspan></text>
<text x="634.8" y="813.8" font-size="5.6" font-family="'Liberation Sans', sans-serif" fill="#222" text-anchor="middle" dominant-baseline="central">10<tspan font-size="4" dy="-2.2">4</tspan></text>
<text x="669.4" y="813.8" font-size="5.6" font-family="'Liberation Sans', sans-serif" fill="#222" text-anchor="middle" dominant-baseline="central">10<tspan font-size="4" dy="-2.2">5</tspan></text>
<line x1="565.6" y1="803" x2="565.6" y2="806.2" stroke="#2a2a2a" stroke-width="0.7"/>
<line x1="576.02" y1="803" x2="576.02" y2="805.2" stroke="#2a2a2a" stroke-width="0.7"/>
<line x1="582.11" y1="803" x2="582.11" y2="805.2" stroke="#2a2a2a" stroke-width="0.7"/>
<line x1="586.43" y1="803" x2="586.43" y2="805.2" stroke="#2a2a2a" stroke-width="0.7"/>
<line x1="589.78" y1="803" x2="589.78" y2="805.2" stroke="#2a2a2a" stroke-width="0.7"/>
<line x1="592.52" y1="803" x2="592.52" y2="805.2" stroke="#2a2a2a" stroke-width="0.7"/>
<line x1="594.84" y1="803" x2="594.84" y2="805.2" stroke="#2a2a2a" stroke-width="0.7"/>
<line x1="596.85" y1="803" x2="596.85" y2="805.2" stroke="#2a2a2a" stroke-width="0.7"/>
<line x1="598.62" y1="803" x2="598.62" y2="805.2" stroke="#2a2a2a" stroke-width="0.7"/>
<line x1="600.2" y1="803" x2="600.2" y2="806.2" stroke="#2a2a2a" stroke-width="0.7"/>
<line x1="610.62" y1="803" x2="610.62" y2="805.2" stroke="#2a2a2a" stroke-width="0.7"/>
<line x1="616.71" y1="803" x2="616.71" y2="805.2" stroke="#2a2a2a" stroke-width="0.7"/>
<line x1="621.03" y1="803" x2="621.03" y2="805.2" stroke="#2a2a2a" stroke-width="0.7"/>
<line x1="624.38" y1="803" x2="624.38" y2="805.2" stroke="#2a2a2a" stroke-width="0.7"/>
<line x1="627.12" y1="803" x2="627.12" y2="805.2" stroke="#2a2a2a" stroke-width="0.7"/>
<line x1="629.44" y1="803" x2="629.44" y2="805.2" stroke="#2a2a2a" stroke-width="0.7"/>
<line x1="631.45" y1="803" x2="631.45" y2="805.2" stroke="#2a2a2a" stroke-width="0.7"/>
<line x1="633.22" y1="803" x2="633.22" y2="805.2" stroke="#2a2a2a" stroke-width="0.7"/>
<line x1="634.8" y1="803" x2="634.8" y2="806.2" stroke="#2a2a2a" stroke-width="0.7"/>
<line x1="645.22" y1="803" x2="645.22" y2="805.2" stroke="#2a2a2a" stroke-width="0.7"/>
<line x1="651.31" y1="803" x2="651.31" y2="805.2" stroke="#2a2a2a" stroke-width="0.7"/>
<line x1="655.63" y1="803" x2="655.63" y2="805.2" stroke="#2a2a2a" stroke-width="0.7"/>
<line x1="658.98" y1="803" x2="658.98" y2="805.2" stroke="#2a2a2a" stroke-width="0.7"/>
<line x1="661.72" y1="803" x2="661.72" y2="805.2" stroke="#2a2a2a" stroke-width="0.7"/>
<line x1="664.04" y1="803" x2="664.04" y2="805.2" stroke="#2a2a2a" stroke-width="0.7"/>
<line x1="666.05" y1="803" x2="666.05" y2="805.2" stroke="#2a2a2a" stroke-width="0.7"/>
<line x1="667.82" y1="803" x2="667.82" y2="805.2" stroke="#2a2a2a" stroke-width="0.7"/>
<line x1="669.4" y1="803" x2="669.4" y2="806.2" stroke="#2a2a2a" stroke-width="0.7"/>
<line x1="679.82" y1="803" x2="679.82" y2="805.2" stroke="#2a2a2a" stroke-width="0.7"/>
<line x1="544.9" y1="803" x2="544.9" y2="806" stroke="#2a2a2a" stroke-width="0.7"/>
<line x1="546.4" y1="803" x2="546.4" y2="805.2" stroke="#2a2a2a" stroke-width="0.7"/>
<line x1="547.9" y1="803" x2="547.9" y2="805.2" stroke="#2a2a2a" stroke-width="0.7"/>
<line x1="549.4" y1="803" x2="549.4" y2="805.2" stroke="#2a2a2a" stroke-width="0.7"/>
<line x1="550.9" y1="803" x2="550.9" y2="805.2" stroke="#2a2a2a" stroke-width="0.7"/>
<line x1="552.4" y1="803" x2="552.4" y2="806" stroke="#2a2a2a" stroke-width="0.7"/>
<line x1="553.9" y1="803" x2="553.9" y2="805.2" stroke="#2a2a2a" stroke-width="0.7"/>
<line x1="555.4" y1="803" x2="555.4" y2="805.2" stroke="#2a2a2a" stroke-width="0.7"/>
<line x1="556.9" y1="803" x2="556.9" y2="805.2" stroke="#2a2a2a" stroke-width="0.7"/>
<line x1="558.4" y1="803" x2="558.4" y2="805.2" stroke="#2a2a2a" stroke-width="0.7"/>
<line x1="559.9" y1="803" x2="559.9" y2="806" stroke="#2a2a2a" stroke-width="0.7"/>
<line x1="561.4" y1="803" x2="561.4" y2="805.2" stroke="#2a2a2a" stroke-width="0.7"/>
<line x1="562.9" y1="803" x2="562.9" y2="805.2" stroke="#2a2a2a" stroke-width="0.7"/>
<line x1="564.4" y1="803" x2="564.4" y2="805.2" stroke="#2a2a2a" stroke-width="0.7"/>
<line x1="565.9" y1="803" x2="565.9" y2="805.2" stroke="#2a2a2a" stroke-width="0.7"/>
<line x1="567.4" y1="803" x2="567.4" y2="806" stroke="#2a2a2a" stroke-width="0.7"/>
<line x1="568.9" y1="803" x2="568.9" y2="805.2" stroke="#2a2a2a" stroke-width="0.7"/>
<line x1="570.4" y1="803" x2="570.4" y2="805.2" stroke="#2a2a2a" stroke-width="0.7"/>
<line x1="571.9" y1="803" x2="571.9" y2="805.2" stroke="#2a2a2a" stroke-width="0.7"/>
<line x1="573.4" y1="803" x2="573.4" y2="805.2" stroke="#2a2a2a" stroke-width="0.7"/>
<line x1="574.9" y1="803" x2="574.9" y2="806" stroke="#2a2a2a" stroke-width="0.7"/>
<line x1="576.4" y1="803" x2="576.4" y2="805.2" stroke="#2a2a2a" stroke-width="0.7"/>
<line x1="577.9" y1="803" x2="577.9" y2="805.2" stroke="#2a2a2a" stroke-width="0.7"/>
<line x1="579.4" y1="803" x2="579.4" y2="805.2" stroke="#2a2a2a" stroke-width="0.7"/>
<line x1="580.9" y1="803" x2="580.9" y2="805.2" stroke="#2a2a2a" stroke-width="0.7"/>
<line x1="582.4" y1="803" x2="582.4" y2="806" stroke="#2a2a2a" stroke-width="0.7"/>
<line x1="583.9" y1="803" x2="583.9" y2="805.2" stroke="#2a2a2a" stroke-width="0.7"/>
<line x1="585.4" y1="803" x2="585.4" y2="805.2" stroke="#2a2a2a" stroke-width="0.7"/>
<line x1="586.9" y1="803" x2="586.9" y2="805.2" stroke="#2a2a2a" stroke-width="0.7"/>
<line x1="588.4" y1="803" x2="588.4" y2="805.2" stroke="#2a2a2a" stroke-width="0.7"/>
<line x1="589.9" y1="803" x2="589.9" y2="806" stroke="#2a2a2a" stroke-width="0.7"/>
<line x1="591.4" y1="803" x2="591.4" y2="805.2" stroke="#2a2a2a" stroke-width="0.7"/>
<line x1="592.9" y1="803" x2="592.9" y2="805.2" stroke="#2a2a2a" stroke-width="0.7"/>
<line x1="594.4" y1="803" x2="594.4" y2="805.2" stroke="#2a2a2a" stroke-width="0.7"/>
<rect x="570.5" y="803" width="2.4" height="2.8" fill="#222"/>
<text x="611" y="817.24" font-size="6.6" font-weight="normal" fill="#222" text-anchor="middle" font-family="'Liberation Sans', sans-serif" dominant-baseline="central">DAPI-A</text>
<text x="611.4" y="826.56" font-size="9.4" font-weight="bold" fill="#000" text-anchor="middle" font-family="'Liberation Serif', serif" dominant-baseline="central">FMX892+Rif</text>
<text x="421.2" y="490.4" font-size="10" font-weight="bold" fill="#000" text-anchor="middle" font-family="'Liberation Serif', serif" dominant-baseline="central">f</text>
<line x1="446.3" y1="496.3" x2="446.3" y2="657.8" stroke="#333" stroke-width="1"/>
<line x1="445.8" y1="657.3" x2="653.8" y2="657.3" stroke="#333" stroke-width="1"/>
<rect x="452.15" y="568" width="22.4" height="88.8" fill="#d7d7d7"/>
<rect x="486.95" y="550.1" width="22.4" height="106.7" fill="#d7d7d7"/>
<rect x="521.35" y="627.11" width="22.4" height="29.69" fill="#d7d7d7"/>
<rect x="556.15" y="508.12" width="22.4" height="148.67" fill="#d7d7d7"/>
<rect x="590.9" y="583.09" width="22.4" height="73.71" fill="#d7d7d7"/>
<rect x="625.4" y="558.14" width="22.4" height="98.66" fill="#d7d7d7"/>
<line x1="514.5" y1="496.4" x2="514.5" y2="657" stroke="#555" stroke-width="0.8" stroke-dasharray="4.2 2.6"/>
<line x1="584.6" y1="496.4" x2="584.6" y2="657" stroke="#555" stroke-width="0.8" stroke-dasharray="4.2 2.6"/>
<line x1="443.1" y1="657.3" x2="446.3" y2="657.3" stroke="#333" stroke-width="0.9"/>
<text x="441.2" y="656.74" font-size="7.6" font-weight="bold" fill="#000" text-anchor="end" font-family="'Liberation Serif', serif" dominant-baseline="central">0</text>
<line x1="444.5" y1="642.67" x2="446.3" y2="642.67" stroke="#333" stroke-width="0.8"/>
<line x1="443.1" y1="628.05" x2="446.3" y2="628.05" stroke="#333" stroke-width="0.9"/>
<text x="441.2" y="627.49" font-size="7.6" font-weight="bold" fill="#000" text-anchor="end" font-family="'Liberation Serif', serif" dominant-baseline="central">1</text>
<line x1="444.5" y1="613.42" x2="446.3" y2="613.42" stroke="#333" stroke-width="0.8"/>
<line x1="443.1" y1="598.8" x2="446.3" y2="598.8" stroke="#333" stroke-width="0.9"/>
<text x="441.2" y="598.24" font-size="7.6" font-weight="bold" fill="#000" text-anchor="end" font-family="'Liberation Serif', serif" dominant-baseline="central">2</text>
<line x1="444.5" y1="584.17" x2="446.3" y2="584.17" stroke="#333" stroke-width="0.8"/>
<line x1="443.1" y1="569.55" x2="446.3" y2="569.55" stroke="#333" stroke-width="0.9"/>
<text x="441.2" y="568.99" font-size="7.6" font-weight="bold" fill="#000" text-anchor="end" font-family="'Liberation Serif', serif" dominant-baseline="central">3</text>
<line x1="444.5" y1="554.92" x2="446.3" y2="554.92" stroke="#333" stroke-width="0.8"/>
<line x1="443.1" y1="540.3" x2="446.3" y2="540.3" stroke="#333" stroke-width="0.9"/>
<text x="441.2" y="539.74" font-size="7.6" font-weight="bold" fill="#000" text-anchor="end" font-family="'Liberation Serif', serif" dominant-baseline="central">4</text>
<line x1="444.5" y1="525.67" x2="446.3" y2="525.67" stroke="#333" stroke-width="0.8"/>
<line x1="443.1" y1="511.05" x2="446.3" y2="511.05" stroke="#333" stroke-width="0.9"/>
<text x="441.2" y="510.49" font-size="7.6" font-weight="bold" fill="#000" text-anchor="end" font-family="'Liberation Serif', serif" dominant-baseline="central">5</text>
<line x1="463.35" y1="657.3" x2="463.35" y2="659.8" stroke="#333" stroke-width="0.9"/>
<text x="463.05" y="665.29" font-size="7.3" font-weight="bold" fill="#000" text-anchor="middle" font-family="'Liberation Serif', serif" dominant-baseline="central" transform="rotate(-24 463.05 665.29)">WT</text>
<line x1="498.15" y1="657.3" x2="498.15" y2="659.8" stroke="#333" stroke-width="0.9"/>
<text x="497.85" y="668.12" font-size="7.3" font-weight="bold" fill="#000" text-anchor="middle" font-family="'Liberation Serif', serif" dominant-baseline="central" transform="rotate(-24 497.85 668.12)">WT+Rif</text>
<line x1="532.55" y1="657.3" x2="532.55" y2="659.8" stroke="#333" stroke-width="0.9"/>
<text x="532.25" y="668.42" font-size="7.3" font-weight="bold" fill="#000" text-anchor="middle" font-family="'Liberation Serif', serif" dominant-baseline="central" transform="rotate(-24 532.25 668.42)">FMX892</text>
<line x1="567.35" y1="657.3" x2="567.35" y2="659.8" stroke="#333" stroke-width="0.9"/>
<text x="567.05" y="671.25" font-size="7.3" font-weight="bold" fill="#000" text-anchor="middle" font-family="'Liberation Serif', serif" dominant-baseline="central" transform="rotate(-24 567.05 671.25)">FMX892+Rif</text>
<line x1="602.1" y1="657.3" x2="602.1" y2="659.8" stroke="#333" stroke-width="0.9"/>
<text x="601.8" y="668.42" font-size="7.3" font-weight="bold" fill="#000" text-anchor="middle" font-family="'Liberation Serif', serif" dominant-baseline="central" transform="rotate(-24 601.8 668.42)">FMX783</text>
<line x1="636.6" y1="657.3" x2="636.6" y2="659.8" stroke="#333" stroke-width="0.9"/>
<text x="636.3" y="671.25" font-size="7.3" font-weight="bold" fill="#000" text-anchor="middle" font-family="'Liberation Serif', serif" dominant-baseline="central" transform="rotate(-24 636.3 671.25)">FMX783+Rif</text>
<text x="429.56" y="577.2" font-size="8.4" font-weight="bold" fill="#000" text-anchor="middle" font-family="'Liberation Serif', serif" dominant-baseline="central" transform="rotate(-90 429.56 577.2)">Fold of DNA Amplification</text>
<line x1="463.3" y1="561.3" x2="463.3" y2="574.3" stroke="#111" stroke-width="0.8"/>
<line x1="457.65" y1="561.3" x2="468.95" y2="561.3" stroke="#222" stroke-width="0.8"/>
<line x1="457.65" y1="574.3" x2="468.95" y2="574.3" stroke="#222" stroke-width="0.8"/>
<circle cx="462.3" cy="563.5" r="1.9" fill="#000"/>
<circle cx="460.7" cy="567.8" r="1.9" fill="#000"/>
<circle cx="461.4" cy="572.2" r="1.9" fill="#000"/>
<line x1="497.8" y1="546.3" x2="497.8" y2="553.4" stroke="#111" stroke-width="0.8"/>
<line x1="492.15" y1="546.3" x2="503.45" y2="546.3" stroke="#222" stroke-width="0.8"/>
<line x1="492.15" y1="553.4" x2="503.45" y2="553.4" stroke="#222" stroke-width="0.8"/>
<circle cx="494.4" cy="548.5" r="1.9" fill="#000"/>
<circle cx="500.6" cy="548.8" r="1.9" fill="#000"/>
<circle cx="498.3" cy="552.7" r="1.9" fill="#000"/>
<line x1="532.7" y1="620.8" x2="532.7" y2="633.5" stroke="#111" stroke-width="0.8"/>
<line x1="527.05" y1="620.8" x2="538.35" y2="620.8" stroke="#222" stroke-width="0.8"/>
<line x1="527.05" y1="633.5" x2="538.35" y2="633.5" stroke="#222" stroke-width="0.8"/>
<circle cx="529.8" cy="622.6" r="1.9" fill="#000"/>
<circle cx="531.8" cy="628.2" r="1.9" fill="#000"/>
<circle cx="533" cy="630.2" r="1.9" fill="#000"/>
<line x1="567.3" y1="503.3" x2="567.3" y2="513.5" stroke="#111" stroke-width="0.8"/>
<line x1="561.65" y1="503.3" x2="572.95" y2="503.3" stroke="#222" stroke-width="0.8"/>
<line x1="561.65" y1="513.5" x2="572.95" y2="513.5" stroke="#222" stroke-width="0.8"/>
<circle cx="564.7" cy="504.7" r="1.9" fill="#000"/>
<circle cx="569" cy="508.6" r="1.9" fill="#000"/>
<circle cx="563.1" cy="511.7" r="1.9" fill="#000"/>
<line x1="602" y1="577.3" x2="602" y2="589.4" stroke="#111" stroke-width="0.8"/>
<line x1="596.35" y1="577.3" x2="607.65" y2="577.3" stroke="#222" stroke-width="0.8"/>
<line x1="596.35" y1="589.4" x2="607.65" y2="589.4" stroke="#222" stroke-width="0.8"/>
<circle cx="600.3" cy="578.6" r="1.9" fill="#000"/>
<circle cx="603.2" cy="584.1" r="1.9" fill="#000"/>
<circle cx="603.4" cy="586.5" r="1.9" fill="#000"/>
<line x1="636.8" y1="550.4" x2="636.8" y2="565.3" stroke="#111" stroke-width="0.8"/>
<line x1="631.15" y1="550.4" x2="642.45" y2="550.4" stroke="#222" stroke-width="0.8"/>
<line x1="631.15" y1="565.3" x2="642.45" y2="565.3" stroke="#222" stroke-width="0.8"/>
<circle cx="636.9" cy="554.8" r="1.9" fill="#000"/>
<circle cx="636.9" cy="563.8" r="1.9" fill="#000"/>
</svg></body></html>
